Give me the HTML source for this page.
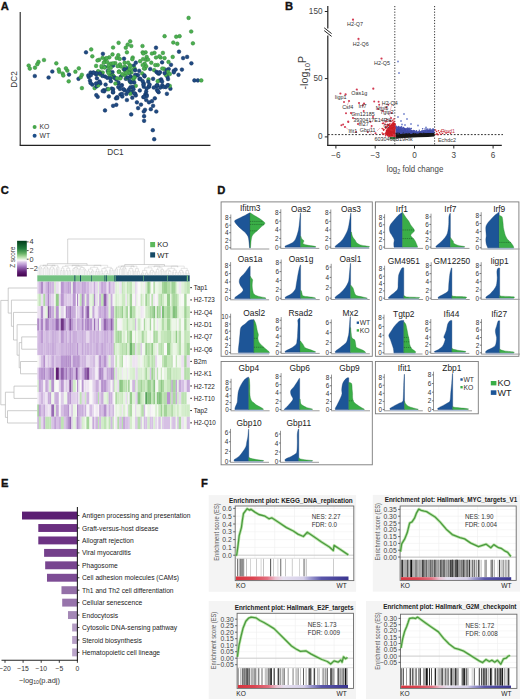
<!DOCTYPE html>
<html><head><meta charset="utf-8"><title>Figure</title>
<style>
html,body{margin:0;padding:0;background:#fff;width:520px;height:699px;overflow:hidden;}
svg{display:block;}
text{font-family:"Liberation Sans", sans-serif;}
</style></head><body>
<svg width="520" height="699" viewBox="0 0 520 699">
<rect x="0" y="0" width="520" height="699" fill="#fff"/>
<text x="0.8" y="9.5" font-size="11.2" fill="#111" text-anchor="start" font-weight="bold" stroke="#111" stroke-width="0.35">A</text>
<text x="285.0" y="10.0" font-size="11.2" fill="#111" text-anchor="start" font-weight="bold" stroke="#111" stroke-width="0.35">B</text>
<text x="0.8" y="194.4" font-size="11.2" fill="#111" text-anchor="start" font-weight="bold" stroke="#111" stroke-width="0.35">C</text>
<text x="217.2" y="193.7" font-size="11.2" fill="#111" text-anchor="start" font-weight="bold" stroke="#111" stroke-width="0.35">D</text>
<text x="0.9" y="487.1" font-size="11.2" fill="#111" text-anchor="start" font-weight="bold" stroke="#111" stroke-width="0.35">E</text>
<text x="201.0" y="487.1" font-size="11.2" fill="#111" text-anchor="start" font-weight="bold" stroke="#111" stroke-width="0.35">F</text>
<line x1="20.20" y1="12.00" x2="20.20" y2="145.60" stroke="#222" stroke-width="1.1" />
<line x1="19.70" y1="145.40" x2="210.50" y2="145.40" stroke="#222" stroke-width="1.1" />
<text x="14.4" y="79.5" font-size="8.2" fill="#333" text-anchor="middle" font-weight="normal" transform="rotate(-90 14.4 79.5)" dominant-baseline="central">DC2</text>
<text x="115.5" y="152.3" font-size="8.2" fill="#333" text-anchor="middle" font-weight="normal" dominant-baseline="central">DC1</text>
<circle cx="102.7" cy="72.5" r="1.85" fill="#4caf50" stroke="#338a3a" stroke-width="0.5"/>
<circle cx="161.2" cy="79.4" r="1.85" fill="#1f4a82" stroke="#143563" stroke-width="0.5"/>
<circle cx="124.6" cy="62.7" r="1.85" fill="#4caf50" stroke="#338a3a" stroke-width="0.5"/>
<circle cx="81.9" cy="88.1" r="1.85" fill="#4caf50" stroke="#338a3a" stroke-width="0.5"/>
<circle cx="96.2" cy="74.6" r="1.85" fill="#1f4a82" stroke="#143563" stroke-width="0.5"/>
<circle cx="62.7" cy="73.5" r="1.85" fill="#4caf50" stroke="#338a3a" stroke-width="0.5"/>
<circle cx="148.5" cy="79.4" r="1.85" fill="#4caf50" stroke="#338a3a" stroke-width="0.5"/>
<circle cx="151.9" cy="101.2" r="1.85" fill="#1f4a82" stroke="#143563" stroke-width="0.5"/>
<circle cx="59.2" cy="71.7" r="1.85" fill="#4caf50" stroke="#338a3a" stroke-width="0.5"/>
<circle cx="125.8" cy="78.8" r="1.85" fill="#1f4a82" stroke="#143563" stroke-width="0.5"/>
<circle cx="142.2" cy="73.4" r="1.85" fill="#4caf50" stroke="#338a3a" stroke-width="0.5"/>
<circle cx="123.5" cy="68.9" r="1.85" fill="#4caf50" stroke="#338a3a" stroke-width="0.5"/>
<circle cx="78.5" cy="78.8" r="1.85" fill="#1f4a82" stroke="#143563" stroke-width="0.5"/>
<circle cx="120.4" cy="94.5" r="1.85" fill="#1f4a82" stroke="#143563" stroke-width="0.5"/>
<circle cx="135.2" cy="93.7" r="1.85" fill="#1f4a82" stroke="#143563" stroke-width="0.5"/>
<circle cx="108.8" cy="96.4" r="1.85" fill="#1f4a82" stroke="#143563" stroke-width="0.5"/>
<circle cx="131.2" cy="114.4" r="1.85" fill="#1f4a82" stroke="#143563" stroke-width="0.5"/>
<circle cx="132.7" cy="57.5" r="1.85" fill="#4caf50" stroke="#338a3a" stroke-width="0.5"/>
<circle cx="104.7" cy="61.7" r="1.85" fill="#4caf50" stroke="#338a3a" stroke-width="0.5"/>
<circle cx="125.0" cy="75.4" r="1.85" fill="#4caf50" stroke="#338a3a" stroke-width="0.5"/>
<circle cx="130.4" cy="82.3" r="1.85" fill="#4caf50" stroke="#338a3a" stroke-width="0.5"/>
<circle cx="154.5" cy="52.8" r="1.85" fill="#4caf50" stroke="#338a3a" stroke-width="0.5"/>
<circle cx="128.1" cy="69.0" r="1.85" fill="#4caf50" stroke="#338a3a" stroke-width="0.5"/>
<circle cx="34.8" cy="76.0" r="1.85" fill="#1f4a82" stroke="#143563" stroke-width="0.5"/>
<circle cx="38.5" cy="61.9" r="1.85" fill="#4caf50" stroke="#338a3a" stroke-width="0.5"/>
<circle cx="136.9" cy="102.3" r="1.85" fill="#1f4a82" stroke="#143563" stroke-width="0.5"/>
<circle cx="116.2" cy="79.3" r="1.85" fill="#1f4a82" stroke="#143563" stroke-width="0.5"/>
<circle cx="121.9" cy="85.1" r="1.85" fill="#1f4a82" stroke="#143563" stroke-width="0.5"/>
<circle cx="96.1" cy="65.9" r="1.85" fill="#4caf50" stroke="#338a3a" stroke-width="0.5"/>
<circle cx="173.3" cy="42.5" r="1.85" fill="#4caf50" stroke="#338a3a" stroke-width="0.5"/>
<circle cx="100.3" cy="83.5" r="1.85" fill="#1f4a82" stroke="#143563" stroke-width="0.5"/>
<circle cx="145.0" cy="68.5" r="1.85" fill="#4caf50" stroke="#338a3a" stroke-width="0.5"/>
<circle cx="146.2" cy="66.2" r="1.85" fill="#4caf50" stroke="#338a3a" stroke-width="0.5"/>
<circle cx="124.0" cy="58.7" r="1.85" fill="#1f4a82" stroke="#143563" stroke-width="0.5"/>
<circle cx="109.3" cy="72.0" r="1.85" fill="#4caf50" stroke="#338a3a" stroke-width="0.5"/>
<circle cx="99.2" cy="59.8" r="1.85" fill="#4caf50" stroke="#338a3a" stroke-width="0.5"/>
<circle cx="136.8" cy="75.4" r="1.85" fill="#1f4a82" stroke="#143563" stroke-width="0.5"/>
<circle cx="162.1" cy="62.3" r="1.85" fill="#1f4a82" stroke="#143563" stroke-width="0.5"/>
<circle cx="128.8" cy="89.4" r="1.85" fill="#1f4a82" stroke="#143563" stroke-width="0.5"/>
<circle cx="146.7" cy="56.9" r="1.85" fill="#4caf50" stroke="#338a3a" stroke-width="0.5"/>
<circle cx="58.7" cy="69.4" r="1.85" fill="#4caf50" stroke="#338a3a" stroke-width="0.5"/>
<circle cx="96.9" cy="78.3" r="1.85" fill="#1f4a82" stroke="#143563" stroke-width="0.5"/>
<circle cx="129.8" cy="70.6" r="1.85" fill="#4caf50" stroke="#338a3a" stroke-width="0.5"/>
<circle cx="138.0" cy="75.0" r="1.85" fill="#1f4a82" stroke="#143563" stroke-width="0.5"/>
<circle cx="130.4" cy="87.3" r="1.85" fill="#1f4a82" stroke="#143563" stroke-width="0.5"/>
<circle cx="93.4" cy="72.7" r="1.85" fill="#1f4a82" stroke="#143563" stroke-width="0.5"/>
<circle cx="100.0" cy="72.1" r="1.85" fill="#4caf50" stroke="#338a3a" stroke-width="0.5"/>
<circle cx="145.0" cy="109.8" r="1.85" fill="#1f4a82" stroke="#143563" stroke-width="0.5"/>
<circle cx="133.8" cy="65.6" r="1.85" fill="#1f4a82" stroke="#143563" stroke-width="0.5"/>
<circle cx="86.0" cy="52.3" r="1.85" fill="#1f4a82" stroke="#143563" stroke-width="0.5"/>
<circle cx="118.2" cy="83.4" r="1.85" fill="#1f4a82" stroke="#143563" stroke-width="0.5"/>
<circle cx="150.8" cy="109.2" r="1.85" fill="#1f4a82" stroke="#143563" stroke-width="0.5"/>
<circle cx="67.3" cy="70.6" r="1.85" fill="#4caf50" stroke="#338a3a" stroke-width="0.5"/>
<circle cx="143.8" cy="83.5" r="1.85" fill="#1f4a82" stroke="#143563" stroke-width="0.5"/>
<circle cx="176.2" cy="36.7" r="1.85" fill="#4caf50" stroke="#338a3a" stroke-width="0.5"/>
<circle cx="112.9" cy="75.4" r="1.85" fill="#4caf50" stroke="#338a3a" stroke-width="0.5"/>
<circle cx="111.0" cy="64.1" r="1.85" fill="#4caf50" stroke="#338a3a" stroke-width="0.5"/>
<circle cx="107.8" cy="70.9" r="1.85" fill="#1f4a82" stroke="#143563" stroke-width="0.5"/>
<circle cx="143.8" cy="86.7" r="1.85" fill="#1f4a82" stroke="#143563" stroke-width="0.5"/>
<circle cx="92.3" cy="56.3" r="1.85" fill="#4caf50" stroke="#338a3a" stroke-width="0.5"/>
<circle cx="118.3" cy="82.3" r="1.85" fill="#1f4a82" stroke="#143563" stroke-width="0.5"/>
<circle cx="108.3" cy="66.8" r="1.85" fill="#4caf50" stroke="#338a3a" stroke-width="0.5"/>
<circle cx="134.6" cy="68.5" r="1.85" fill="#4caf50" stroke="#338a3a" stroke-width="0.5"/>
<circle cx="179.6" cy="36.2" r="1.85" fill="#4caf50" stroke="#338a3a" stroke-width="0.5"/>
<circle cx="144.5" cy="76.3" r="1.85" fill="#1f4a82" stroke="#143563" stroke-width="0.5"/>
<circle cx="116.0" cy="98.3" r="1.85" fill="#1f4a82" stroke="#143563" stroke-width="0.5"/>
<circle cx="168.1" cy="85.2" r="1.85" fill="#1f4a82" stroke="#143563" stroke-width="0.5"/>
<circle cx="105.6" cy="84.6" r="1.85" fill="#1f4a82" stroke="#143563" stroke-width="0.5"/>
<circle cx="139.2" cy="70.8" r="1.85" fill="#1f4a82" stroke="#143563" stroke-width="0.5"/>
<circle cx="172.7" cy="56.9" r="1.85" fill="#4caf50" stroke="#338a3a" stroke-width="0.5"/>
<circle cx="127.1" cy="78.1" r="1.85" fill="#4caf50" stroke="#338a3a" stroke-width="0.5"/>
<circle cx="131.7" cy="91.5" r="1.85" fill="#4caf50" stroke="#338a3a" stroke-width="0.5"/>
<circle cx="135.2" cy="74.8" r="1.85" fill="#1f4a82" stroke="#143563" stroke-width="0.5"/>
<circle cx="148.2" cy="81.7" r="1.85" fill="#1f4a82" stroke="#143563" stroke-width="0.5"/>
<circle cx="120.7" cy="66.4" r="1.85" fill="#4caf50" stroke="#338a3a" stroke-width="0.5"/>
<circle cx="104.8" cy="67.1" r="1.85" fill="#1f4a82" stroke="#143563" stroke-width="0.5"/>
<circle cx="94.6" cy="88.1" r="1.85" fill="#4caf50" stroke="#338a3a" stroke-width="0.5"/>
<circle cx="118.3" cy="87.1" r="1.85" fill="#1f4a82" stroke="#143563" stroke-width="0.5"/>
<circle cx="168.0" cy="79.1" r="1.85" fill="#1f4a82" stroke="#143563" stroke-width="0.5"/>
<circle cx="154.2" cy="70.2" r="1.85" fill="#4caf50" stroke="#338a3a" stroke-width="0.5"/>
<circle cx="135.8" cy="85.8" r="1.85" fill="#4caf50" stroke="#338a3a" stroke-width="0.5"/>
<circle cx="153.1" cy="78.8" r="1.85" fill="#1f4a82" stroke="#143563" stroke-width="0.5"/>
<circle cx="101.8" cy="67.5" r="1.85" fill="#4caf50" stroke="#338a3a" stroke-width="0.5"/>
<circle cx="126.2" cy="67.9" r="1.85" fill="#1f4a82" stroke="#143563" stroke-width="0.5"/>
<circle cx="103.9" cy="90.2" r="1.85" fill="#1f4a82" stroke="#143563" stroke-width="0.5"/>
<circle cx="113.7" cy="76.4" r="1.85" fill="#4caf50" stroke="#338a3a" stroke-width="0.5"/>
<circle cx="117.1" cy="97.1" r="1.85" fill="#1f4a82" stroke="#143563" stroke-width="0.5"/>
<circle cx="122.3" cy="96.5" r="1.85" fill="#1f4a82" stroke="#143563" stroke-width="0.5"/>
<circle cx="113.8" cy="77.6" r="1.85" fill="#4caf50" stroke="#338a3a" stroke-width="0.5"/>
<circle cx="109.3" cy="57.3" r="1.85" fill="#4caf50" stroke="#338a3a" stroke-width="0.5"/>
<circle cx="156.5" cy="86.1" r="1.85" fill="#1f4a82" stroke="#143563" stroke-width="0.5"/>
<circle cx="143.3" cy="97.1" r="1.85" fill="#1f4a82" stroke="#143563" stroke-width="0.5"/>
<circle cx="65.9" cy="68.3" r="1.85" fill="#4caf50" stroke="#338a3a" stroke-width="0.5"/>
<circle cx="133.5" cy="80.0" r="1.85" fill="#4caf50" stroke="#338a3a" stroke-width="0.5"/>
<circle cx="140.1" cy="61.2" r="1.85" fill="#4caf50" stroke="#338a3a" stroke-width="0.5"/>
<circle cx="97.7" cy="96.8" r="1.85" fill="#1f4a82" stroke="#143563" stroke-width="0.5"/>
<circle cx="156.0" cy="47.7" r="1.85" fill="#1f4a82" stroke="#143563" stroke-width="0.5"/>
<circle cx="124.6" cy="90.2" r="1.85" fill="#1f4a82" stroke="#143563" stroke-width="0.5"/>
<circle cx="88.8" cy="77.1" r="1.85" fill="#1f4a82" stroke="#143563" stroke-width="0.5"/>
<circle cx="156.3" cy="111.5" r="1.85" fill="#1f4a82" stroke="#143563" stroke-width="0.5"/>
<circle cx="143.1" cy="59.0" r="1.85" fill="#4caf50" stroke="#338a3a" stroke-width="0.5"/>
<circle cx="116.3" cy="104.8" r="1.85" fill="#1f4a82" stroke="#143563" stroke-width="0.5"/>
<circle cx="134.7" cy="77.4" r="1.85" fill="#4caf50" stroke="#338a3a" stroke-width="0.5"/>
<circle cx="35.0" cy="67.7" r="1.85" fill="#4caf50" stroke="#338a3a" stroke-width="0.5"/>
<circle cx="146.2" cy="59.8" r="1.85" fill="#4caf50" stroke="#338a3a" stroke-width="0.5"/>
<circle cx="173.8" cy="70.8" r="1.85" fill="#1f4a82" stroke="#143563" stroke-width="0.5"/>
<circle cx="175.6" cy="69.6" r="1.85" fill="#1f4a82" stroke="#143563" stroke-width="0.5"/>
<circle cx="183.1" cy="58.1" r="1.85" fill="#1f4a82" stroke="#143563" stroke-width="0.5"/>
<circle cx="151.9" cy="53.5" r="1.85" fill="#4caf50" stroke="#338a3a" stroke-width="0.5"/>
<circle cx="134.2" cy="82.4" r="1.85" fill="#1f4a82" stroke="#143563" stroke-width="0.5"/>
<circle cx="90.6" cy="72.5" r="1.85" fill="#1f4a82" stroke="#143563" stroke-width="0.5"/>
<circle cx="162.3" cy="85.2" r="1.85" fill="#1f4a82" stroke="#143563" stroke-width="0.5"/>
<circle cx="127.7" cy="44.6" r="1.85" fill="#4caf50" stroke="#338a3a" stroke-width="0.5"/>
<circle cx="124.7" cy="66.5" r="1.85" fill="#4caf50" stroke="#338a3a" stroke-width="0.5"/>
<circle cx="131.2" cy="77.2" r="1.85" fill="#4caf50" stroke="#338a3a" stroke-width="0.5"/>
<circle cx="63.3" cy="75.5" r="1.85" fill="#4caf50" stroke="#338a3a" stroke-width="0.5"/>
<circle cx="98.1" cy="73.1" r="1.85" fill="#4caf50" stroke="#338a3a" stroke-width="0.5"/>
<circle cx="170.4" cy="88.7" r="1.85" fill="#1f4a82" stroke="#143563" stroke-width="0.5"/>
<circle cx="142.7" cy="52.3" r="1.85" fill="#4caf50" stroke="#338a3a" stroke-width="0.5"/>
<circle cx="148.8" cy="87.0" r="1.85" fill="#1f4a82" stroke="#143563" stroke-width="0.5"/>
<circle cx="145.6" cy="52.3" r="1.85" fill="#4caf50" stroke="#338a3a" stroke-width="0.5"/>
<circle cx="169.8" cy="85.9" r="1.85" fill="#4caf50" stroke="#338a3a" stroke-width="0.5"/>
<circle cx="75.4" cy="71.7" r="1.85" fill="#4caf50" stroke="#338a3a" stroke-width="0.5"/>
<circle cx="197.8" cy="80.4" r="1.85" fill="#1f4a82" stroke="#143563" stroke-width="0.5"/>
<circle cx="158.6" cy="92.2" r="1.85" fill="#1f4a82" stroke="#143563" stroke-width="0.5"/>
<circle cx="146.2" cy="91.5" r="1.85" fill="#1f4a82" stroke="#143563" stroke-width="0.5"/>
<circle cx="145.4" cy="94.2" r="1.85" fill="#1f4a82" stroke="#143563" stroke-width="0.5"/>
<circle cx="149.0" cy="86.2" r="1.85" fill="#1f4a82" stroke="#143563" stroke-width="0.5"/>
<circle cx="132.3" cy="59.2" r="1.85" fill="#4caf50" stroke="#338a3a" stroke-width="0.5"/>
<circle cx="153.1" cy="105.8" r="1.85" fill="#1f4a82" stroke="#143563" stroke-width="0.5"/>
<circle cx="96.5" cy="86.4" r="1.85" fill="#1f4a82" stroke="#143563" stroke-width="0.5"/>
<circle cx="113.1" cy="65.6" r="1.85" fill="#1f4a82" stroke="#143563" stroke-width="0.5"/>
<circle cx="131.3" cy="46.0" r="1.85" fill="#4caf50" stroke="#338a3a" stroke-width="0.5"/>
<circle cx="56.3" cy="63.3" r="1.85" fill="#4caf50" stroke="#338a3a" stroke-width="0.5"/>
<circle cx="201.3" cy="80.4" r="1.85" fill="#4caf50" stroke="#338a3a" stroke-width="0.5"/>
<circle cx="104.2" cy="91.3" r="1.85" fill="#1f4a82" stroke="#143563" stroke-width="0.5"/>
<circle cx="105.0" cy="110.4" r="1.85" fill="#1f4a82" stroke="#143563" stroke-width="0.5"/>
<circle cx="28.7" cy="65.6" r="1.85" fill="#4caf50" stroke="#338a3a" stroke-width="0.5"/>
<circle cx="92.3" cy="84.6" r="1.85" fill="#1f4a82" stroke="#143563" stroke-width="0.5"/>
<circle cx="146.6" cy="94.8" r="1.85" fill="#1f4a82" stroke="#143563" stroke-width="0.5"/>
<circle cx="149.0" cy="102.3" r="1.85" fill="#1f4a82" stroke="#143563" stroke-width="0.5"/>
<circle cx="105.6" cy="58.7" r="1.85" fill="#4caf50" stroke="#338a3a" stroke-width="0.5"/>
<circle cx="111.7" cy="88.5" r="1.85" fill="#1f4a82" stroke="#143563" stroke-width="0.5"/>
<circle cx="166.9" cy="75.4" r="1.85" fill="#4caf50" stroke="#338a3a" stroke-width="0.5"/>
<circle cx="115.4" cy="83.5" r="1.85" fill="#4caf50" stroke="#338a3a" stroke-width="0.5"/>
<circle cx="131.2" cy="91.9" r="1.85" fill="#1f4a82" stroke="#143563" stroke-width="0.5"/>
<circle cx="156.9" cy="89.8" r="1.85" fill="#1f4a82" stroke="#143563" stroke-width="0.5"/>
<circle cx="131.2" cy="82.3" r="1.85" fill="#1f4a82" stroke="#143563" stroke-width="0.5"/>
<circle cx="138.1" cy="108.1" r="1.85" fill="#1f4a82" stroke="#143563" stroke-width="0.5"/>
<circle cx="120.8" cy="76.6" r="1.85" fill="#1f4a82" stroke="#143563" stroke-width="0.5"/>
<circle cx="97.5" cy="60.4" r="1.85" fill="#4caf50" stroke="#338a3a" stroke-width="0.5"/>
<circle cx="127.6" cy="78.1" r="1.85" fill="#4caf50" stroke="#338a3a" stroke-width="0.5"/>
<circle cx="158.8" cy="73.7" r="1.85" fill="#1f4a82" stroke="#143563" stroke-width="0.5"/>
<circle cx="178.5" cy="74.8" r="1.85" fill="#1f4a82" stroke="#143563" stroke-width="0.5"/>
<circle cx="181.9" cy="69.6" r="1.85" fill="#1f4a82" stroke="#143563" stroke-width="0.5"/>
<circle cx="98.1" cy="71.2" r="1.85" fill="#4caf50" stroke="#338a3a" stroke-width="0.5"/>
<circle cx="135.8" cy="95.4" r="1.85" fill="#1f4a82" stroke="#143563" stroke-width="0.5"/>
<circle cx="68.7" cy="81.3" r="1.85" fill="#4caf50" stroke="#338a3a" stroke-width="0.5"/>
<circle cx="69.0" cy="74.6" r="1.85" fill="#1f4a82" stroke="#143563" stroke-width="0.5"/>
<circle cx="110.4" cy="73.1" r="1.85" fill="#4caf50" stroke="#338a3a" stroke-width="0.5"/>
<circle cx="143.4" cy="84.7" r="1.85" fill="#1f4a82" stroke="#143563" stroke-width="0.5"/>
<circle cx="133.5" cy="77.7" r="1.85" fill="#4caf50" stroke="#338a3a" stroke-width="0.5"/>
<circle cx="115.3" cy="63.1" r="1.85" fill="#4caf50" stroke="#338a3a" stroke-width="0.5"/>
<circle cx="167.5" cy="76.9" r="1.85" fill="#1f4a82" stroke="#143563" stroke-width="0.5"/>
<circle cx="130.4" cy="93.7" r="1.85" fill="#4caf50" stroke="#338a3a" stroke-width="0.5"/>
<circle cx="119.1" cy="71.4" r="1.85" fill="#4caf50" stroke="#338a3a" stroke-width="0.5"/>
<circle cx="144.7" cy="63.7" r="1.85" fill="#4caf50" stroke="#338a3a" stroke-width="0.5"/>
<circle cx="112.5" cy="72.1" r="1.85" fill="#1f4a82" stroke="#143563" stroke-width="0.5"/>
<circle cx="29.8" cy="68.6" r="1.85" fill="#4caf50" stroke="#338a3a" stroke-width="0.5"/>
<circle cx="191.4" cy="63.3" r="1.85" fill="#1f4a82" stroke="#143563" stroke-width="0.5"/>
<circle cx="156.0" cy="57.5" r="1.85" fill="#4caf50" stroke="#338a3a" stroke-width="0.5"/>
<circle cx="126.3" cy="94.0" r="1.85" fill="#1f4a82" stroke="#143563" stroke-width="0.5"/>
<circle cx="131.4" cy="72.5" r="1.85" fill="#4caf50" stroke="#338a3a" stroke-width="0.5"/>
<circle cx="113.0" cy="92.4" r="1.85" fill="#1f4a82" stroke="#143563" stroke-width="0.5"/>
<circle cx="37.3" cy="64.2" r="1.85" fill="#4caf50" stroke="#338a3a" stroke-width="0.5"/>
<circle cx="146.2" cy="100.0" r="1.85" fill="#1f4a82" stroke="#143563" stroke-width="0.5"/>
<circle cx="90.0" cy="80.6" r="1.85" fill="#1f4a82" stroke="#143563" stroke-width="0.5"/>
<circle cx="132.7" cy="86.9" r="1.85" fill="#1f4a82" stroke="#143563" stroke-width="0.5"/>
<circle cx="102.7" cy="91.0" r="1.85" fill="#1f4a82" stroke="#143563" stroke-width="0.5"/>
<circle cx="122.3" cy="74.2" r="1.85" fill="#4caf50" stroke="#338a3a" stroke-width="0.5"/>
<circle cx="91.2" cy="49.4" r="1.85" fill="#4caf50" stroke="#338a3a" stroke-width="0.5"/>
<circle cx="80.8" cy="77.1" r="1.85" fill="#4caf50" stroke="#338a3a" stroke-width="0.5"/>
<circle cx="177.3" cy="43.7" r="1.85" fill="#4caf50" stroke="#338a3a" stroke-width="0.5"/>
<circle cx="129.9" cy="65.2" r="1.85" fill="#4caf50" stroke="#338a3a" stroke-width="0.5"/>
<circle cx="160.0" cy="72.3" r="1.85" fill="#1f4a82" stroke="#143563" stroke-width="0.5"/>
<circle cx="164.0" cy="68.8" r="1.85" fill="#4caf50" stroke="#338a3a" stroke-width="0.5"/>
<circle cx="133.9" cy="69.2" r="1.85" fill="#4caf50" stroke="#338a3a" stroke-width="0.5"/>
<circle cx="113.1" cy="89.2" r="1.85" fill="#1f4a82" stroke="#143563" stroke-width="0.5"/>
<circle cx="150.2" cy="69.0" r="1.85" fill="#1f4a82" stroke="#143563" stroke-width="0.5"/>
<circle cx="156.5" cy="71.9" r="1.85" fill="#1f4a82" stroke="#143563" stroke-width="0.5"/>
<circle cx="116.7" cy="58.1" r="1.85" fill="#4caf50" stroke="#338a3a" stroke-width="0.5"/>
<circle cx="111.4" cy="76.1" r="1.85" fill="#1f4a82" stroke="#143563" stroke-width="0.5"/>
<circle cx="151.3" cy="62.7" r="1.85" fill="#4caf50" stroke="#338a3a" stroke-width="0.5"/>
<circle cx="124.9" cy="70.8" r="1.85" fill="#4caf50" stroke="#338a3a" stroke-width="0.5"/>
<circle cx="144.0" cy="68.5" r="1.85" fill="#4caf50" stroke="#338a3a" stroke-width="0.5"/>
<circle cx="173.8" cy="72.3" r="1.85" fill="#1f4a82" stroke="#143563" stroke-width="0.5"/>
<circle cx="110.8" cy="73.7" r="1.85" fill="#4caf50" stroke="#338a3a" stroke-width="0.5"/>
<circle cx="152.8" cy="130.2" r="1.85" fill="#1f4a82" stroke="#143563" stroke-width="0.5"/>
<circle cx="141.0" cy="104.6" r="1.85" fill="#1f4a82" stroke="#143563" stroke-width="0.5"/>
<circle cx="101.8" cy="74.3" r="1.85" fill="#4caf50" stroke="#338a3a" stroke-width="0.5"/>
<circle cx="98.1" cy="85.5" r="1.85" fill="#4caf50" stroke="#338a3a" stroke-width="0.5"/>
<circle cx="110.5" cy="72.6" r="1.85" fill="#1f4a82" stroke="#143563" stroke-width="0.5"/>
<circle cx="171.0" cy="64.8" r="1.85" fill="#1f4a82" stroke="#143563" stroke-width="0.5"/>
<circle cx="120.0" cy="64.4" r="1.85" fill="#4caf50" stroke="#338a3a" stroke-width="0.5"/>
<circle cx="129.3" cy="73.0" r="1.85" fill="#1f4a82" stroke="#143563" stroke-width="0.5"/>
<circle cx="168.7" cy="69.0" r="1.85" fill="#1f4a82" stroke="#143563" stroke-width="0.5"/>
<circle cx="164.6" cy="36.2" r="1.85" fill="#4caf50" stroke="#338a3a" stroke-width="0.5"/>
<circle cx="126.9" cy="100.0" r="1.85" fill="#1f4a82" stroke="#143563" stroke-width="0.5"/>
<circle cx="111.0" cy="63.7" r="1.85" fill="#4caf50" stroke="#338a3a" stroke-width="0.5"/>
<circle cx="166.7" cy="70.1" r="1.85" fill="#1f4a82" stroke="#143563" stroke-width="0.5"/>
<circle cx="48.6" cy="77.5" r="1.85" fill="#1f4a82" stroke="#143563" stroke-width="0.5"/>
<circle cx="109.6" cy="76.5" r="1.85" fill="#4caf50" stroke="#338a3a" stroke-width="0.5"/>
<circle cx="160.6" cy="57.5" r="1.85" fill="#4caf50" stroke="#338a3a" stroke-width="0.5"/>
<circle cx="102.6" cy="57.8" r="1.85" fill="#4caf50" stroke="#338a3a" stroke-width="0.5"/>
<circle cx="44.0" cy="60.0" r="1.85" fill="#4caf50" stroke="#338a3a" stroke-width="0.5"/>
<circle cx="191.2" cy="31.5" r="1.85" fill="#4caf50" stroke="#338a3a" stroke-width="0.5"/>
<circle cx="124.5" cy="69.3" r="1.85" fill="#1f4a82" stroke="#143563" stroke-width="0.5"/>
<circle cx="108.8" cy="65.4" r="1.85" fill="#4caf50" stroke="#338a3a" stroke-width="0.5"/>
<circle cx="88.3" cy="75.4" r="1.85" fill="#1f4a82" stroke="#143563" stroke-width="0.5"/>
<circle cx="157.7" cy="65.0" r="1.85" fill="#4caf50" stroke="#338a3a" stroke-width="0.5"/>
<circle cx="90.9" cy="75.1" r="1.85" fill="#1f4a82" stroke="#143563" stroke-width="0.5"/>
<circle cx="153.7" cy="87.5" r="1.85" fill="#1f4a82" stroke="#143563" stroke-width="0.5"/>
<circle cx="110.8" cy="81.2" r="1.85" fill="#1f4a82" stroke="#143563" stroke-width="0.5"/>
<circle cx="146.8" cy="96.1" r="1.85" fill="#1f4a82" stroke="#143563" stroke-width="0.5"/>
<circle cx="157.5" cy="85.2" r="1.85" fill="#1f4a82" stroke="#143563" stroke-width="0.5"/>
<circle cx="168.1" cy="71.9" r="1.85" fill="#4caf50" stroke="#338a3a" stroke-width="0.5"/>
<circle cx="123.5" cy="89.2" r="1.85" fill="#1f4a82" stroke="#143563" stroke-width="0.5"/>
<circle cx="139.5" cy="78.9" r="1.85" fill="#1f4a82" stroke="#143563" stroke-width="0.5"/>
<circle cx="78.8" cy="68.3" r="1.85" fill="#4caf50" stroke="#338a3a" stroke-width="0.5"/>
<circle cx="118.6" cy="42.8" r="1.85" fill="#4caf50" stroke="#338a3a" stroke-width="0.5"/>
<circle cx="105.0" cy="76.5" r="1.85" fill="#1f4a82" stroke="#143563" stroke-width="0.5"/>
<circle cx="121.2" cy="85.8" r="1.85" fill="#1f4a82" stroke="#143563" stroke-width="0.5"/>
<circle cx="143.3" cy="53.5" r="1.85" fill="#4caf50" stroke="#338a3a" stroke-width="0.5"/>
<circle cx="164.6" cy="58.1" r="1.85" fill="#4caf50" stroke="#338a3a" stroke-width="0.5"/>
<circle cx="99.6" cy="81.5" r="1.85" fill="#1f4a82" stroke="#143563" stroke-width="0.5"/>
<circle cx="154.2" cy="139.2" r="1.85" fill="#1f4a82" stroke="#143563" stroke-width="0.5"/>
<circle cx="130.2" cy="41.3" r="1.85" fill="#4caf50" stroke="#338a3a" stroke-width="0.5"/>
<circle cx="101.5" cy="66.0" r="1.85" fill="#4caf50" stroke="#338a3a" stroke-width="0.5"/>
<circle cx="142.7" cy="81.2" r="1.85" fill="#1f4a82" stroke="#143563" stroke-width="0.5"/>
<circle cx="122.0" cy="93.9" r="1.85" fill="#1f4a82" stroke="#143563" stroke-width="0.5"/>
<circle cx="107.3" cy="77.8" r="1.85" fill="#1f4a82" stroke="#143563" stroke-width="0.5"/>
<circle cx="109.4" cy="72.6" r="1.85" fill="#4caf50" stroke="#338a3a" stroke-width="0.5"/>
<circle cx="192.9" cy="43.3" r="1.85" fill="#4caf50" stroke="#338a3a" stroke-width="0.5"/>
<circle cx="130.4" cy="76.5" r="1.85" fill="#1f4a82" stroke="#143563" stroke-width="0.5"/>
<circle cx="188.6" cy="17.9" r="1.85" fill="#4caf50" stroke="#338a3a" stroke-width="0.5"/>
<circle cx="165.8" cy="74.8" r="1.85" fill="#4caf50" stroke="#338a3a" stroke-width="0.5"/>
<circle cx="149.6" cy="84.6" r="1.85" fill="#1f4a82" stroke="#143563" stroke-width="0.5"/>
<circle cx="113.1" cy="91.9" r="1.85" fill="#1f4a82" stroke="#143563" stroke-width="0.5"/>
<circle cx="157.8" cy="72.9" r="1.85" fill="#1f4a82" stroke="#143563" stroke-width="0.5"/>
<circle cx="120.4" cy="78.3" r="1.85" fill="#4caf50" stroke="#338a3a" stroke-width="0.5"/>
<circle cx="100.2" cy="74.5" r="1.85" fill="#4caf50" stroke="#338a3a" stroke-width="0.5"/>
<circle cx="164.6" cy="73.1" r="1.85" fill="#1f4a82" stroke="#143563" stroke-width="0.5"/>
<circle cx="159.4" cy="80.5" r="1.85" fill="#1f4a82" stroke="#143563" stroke-width="0.5"/>
<circle cx="99.2" cy="82.3" r="1.85" fill="#1f4a82" stroke="#143563" stroke-width="0.5"/>
<circle cx="154.8" cy="98.3" r="1.85" fill="#1f4a82" stroke="#143563" stroke-width="0.5"/>
<circle cx="113.1" cy="47.5" r="1.85" fill="#4caf50" stroke="#338a3a" stroke-width="0.5"/>
<circle cx="139.8" cy="90.4" r="1.85" fill="#1f4a82" stroke="#143563" stroke-width="0.5"/>
<circle cx="143.8" cy="111.5" r="1.85" fill="#1f4a82" stroke="#143563" stroke-width="0.5"/>
<circle cx="160.3" cy="87.6" r="1.85" fill="#1f4a82" stroke="#143563" stroke-width="0.5"/>
<circle cx="156.8" cy="85.3" r="1.85" fill="#1f4a82" stroke="#143563" stroke-width="0.5"/>
<circle cx="157.7" cy="81.2" r="1.85" fill="#4caf50" stroke="#338a3a" stroke-width="0.5"/>
<circle cx="127.7" cy="91.5" r="1.85" fill="#1f4a82" stroke="#143563" stroke-width="0.5"/>
<circle cx="129.6" cy="80.8" r="1.85" fill="#1f4a82" stroke="#143563" stroke-width="0.5"/>
<circle cx="165.8" cy="87.1" r="1.85" fill="#1f4a82" stroke="#143563" stroke-width="0.5"/>
<circle cx="106.7" cy="58.2" r="1.85" fill="#4caf50" stroke="#338a3a" stroke-width="0.5"/>
<circle cx="113.1" cy="105.8" r="1.85" fill="#1f4a82" stroke="#143563" stroke-width="0.5"/>
<circle cx="114.8" cy="77.7" r="1.85" fill="#1f4a82" stroke="#143563" stroke-width="0.5"/>
<circle cx="144.1" cy="116.2" r="1.85" fill="#1f4a82" stroke="#143563" stroke-width="0.5"/>
<circle cx="99.8" cy="73.3" r="1.85" fill="#1f4a82" stroke="#143563" stroke-width="0.5"/>
<circle cx="108.5" cy="70.8" r="1.85" fill="#4caf50" stroke="#338a3a" stroke-width="0.5"/>
<circle cx="110.8" cy="67.8" r="1.85" fill="#4caf50" stroke="#338a3a" stroke-width="0.5"/>
<circle cx="127.3" cy="77.5" r="1.85" fill="#1f4a82" stroke="#143563" stroke-width="0.5"/>
<circle cx="119.7" cy="58.9" r="1.85" fill="#4caf50" stroke="#338a3a" stroke-width="0.5"/>
<circle cx="104.5" cy="67.5" r="1.85" fill="#4caf50" stroke="#338a3a" stroke-width="0.5"/>
<circle cx="179.0" cy="51.7" r="1.85" fill="#1f4a82" stroke="#143563" stroke-width="0.5"/>
<circle cx="120.0" cy="89.0" r="1.85" fill="#1f4a82" stroke="#143563" stroke-width="0.5"/>
<circle cx="132.3" cy="97.7" r="1.85" fill="#1f4a82" stroke="#143563" stroke-width="0.5"/>
<circle cx="102.9" cy="53.8" r="1.85" fill="#1f4a82" stroke="#143563" stroke-width="0.5"/>
<circle cx="166.9" cy="93.8" r="1.85" fill="#1f4a82" stroke="#143563" stroke-width="0.5"/>
<circle cx="107.3" cy="89.1" r="1.85" fill="#1f4a82" stroke="#143563" stroke-width="0.5"/>
<circle cx="144.1" cy="120.8" r="1.85" fill="#1f4a82" stroke="#143563" stroke-width="0.5"/>
<circle cx="129.8" cy="69.2" r="1.85" fill="#4caf50" stroke="#338a3a" stroke-width="0.5"/>
<circle cx="96.3" cy="73.1" r="1.85" fill="#1f4a82" stroke="#143563" stroke-width="0.5"/>
<circle cx="117.7" cy="66.2" r="1.85" fill="#4caf50" stroke="#338a3a" stroke-width="0.5"/>
<circle cx="135.1" cy="70.2" r="1.85" fill="#1f4a82" stroke="#143563" stroke-width="0.5"/>
<circle cx="117.1" cy="78.3" r="1.85" fill="#4caf50" stroke="#338a3a" stroke-width="0.5"/>
<circle cx="135.8" cy="62.7" r="1.85" fill="#1f4a82" stroke="#143563" stroke-width="0.5"/>
<circle cx="128.9" cy="72.8" r="1.85" fill="#4caf50" stroke="#338a3a" stroke-width="0.5"/>
<circle cx="108.5" cy="89.2" r="1.85" fill="#4caf50" stroke="#338a3a" stroke-width="0.5"/>
<circle cx="169.8" cy="74.0" r="1.85" fill="#4caf50" stroke="#338a3a" stroke-width="0.5"/>
<circle cx="144.1" cy="96.8" r="1.85" fill="#1f4a82" stroke="#143563" stroke-width="0.5"/>
<circle cx="52.3" cy="71.5" r="1.85" fill="#1f4a82" stroke="#143563" stroke-width="0.5"/>
<circle cx="146.6" cy="88.5" r="1.85" fill="#1f4a82" stroke="#143563" stroke-width="0.5"/>
<circle cx="142.5" cy="46.0" r="1.85" fill="#4caf50" stroke="#338a3a" stroke-width="0.5"/>
<circle cx="159.2" cy="72.5" r="1.85" fill="#1f4a82" stroke="#143563" stroke-width="0.5"/>
<circle cx="142.7" cy="65.0" r="1.85" fill="#4caf50" stroke="#338a3a" stroke-width="0.5"/>
<circle cx="90.5" cy="82.9" r="1.85" fill="#1f4a82" stroke="#143563" stroke-width="0.5"/>
<circle cx="108.4" cy="72.9" r="1.85" fill="#4caf50" stroke="#338a3a" stroke-width="0.5"/>
<circle cx="159.4" cy="56.3" r="1.85" fill="#4caf50" stroke="#338a3a" stroke-width="0.5"/>
<circle cx="96.3" cy="95.1" r="1.85" fill="#1f4a82" stroke="#143563" stroke-width="0.5"/>
<circle cx="112.5" cy="54.4" r="1.85" fill="#4caf50" stroke="#338a3a" stroke-width="0.5"/>
<circle cx="110.7" cy="77.3" r="1.85" fill="#4caf50" stroke="#338a3a" stroke-width="0.5"/>
<circle cx="126.9" cy="52.3" r="1.85" fill="#4caf50" stroke="#338a3a" stroke-width="0.5"/>
<circle cx="140.4" cy="78.8" r="1.85" fill="#1f4a82" stroke="#143563" stroke-width="0.5"/>
<circle cx="110.3" cy="78.3" r="1.85" fill="#1f4a82" stroke="#143563" stroke-width="0.5"/>
<circle cx="96.1" cy="83.4" r="1.85" fill="#1f4a82" stroke="#143563" stroke-width="0.5"/>
<circle cx="113.1" cy="63.3" r="1.85" fill="#4caf50" stroke="#338a3a" stroke-width="0.5"/>
<circle cx="167.6" cy="85.3" r="1.85" fill="#1f4a82" stroke="#143563" stroke-width="0.5"/>
<circle cx="168.5" cy="61.9" r="1.85" fill="#4caf50" stroke="#338a3a" stroke-width="0.5"/>
<circle cx="162.9" cy="52.9" r="1.85" fill="#4caf50" stroke="#338a3a" stroke-width="0.5"/>
<circle cx="117.3" cy="98.0" r="1.85" fill="#1f4a82" stroke="#143563" stroke-width="0.5"/>
<circle cx="107.3" cy="62.1" r="1.85" fill="#4caf50" stroke="#338a3a" stroke-width="0.5"/>
<circle cx="133.5" cy="89.2" r="1.85" fill="#1f4a82" stroke="#143563" stroke-width="0.5"/>
<circle cx="163.6" cy="87.0" r="1.85" fill="#1f4a82" stroke="#143563" stroke-width="0.5"/>
<circle cx="126.3" cy="73.1" r="1.85" fill="#4caf50" stroke="#338a3a" stroke-width="0.5"/>
<circle cx="155.3" cy="65.1" r="1.85" fill="#4caf50" stroke="#338a3a" stroke-width="0.5"/>
<circle cx="128.1" cy="62.7" r="1.85" fill="#4caf50" stroke="#338a3a" stroke-width="0.5"/>
<circle cx="157.7" cy="91.0" r="1.85" fill="#1f4a82" stroke="#143563" stroke-width="0.5"/>
<circle cx="194.4" cy="80.4" r="1.85" fill="#1f4a82" stroke="#143563" stroke-width="0.5"/>
<circle cx="118.8" cy="71.9" r="1.85" fill="#4caf50" stroke="#338a3a" stroke-width="0.5"/>
<circle cx="125.8" cy="47.7" r="1.85" fill="#4caf50" stroke="#338a3a" stroke-width="0.5"/>
<circle cx="148.1" cy="59.5" r="1.85" fill="#4caf50" stroke="#338a3a" stroke-width="0.5"/>
<circle cx="162.1" cy="81.5" r="1.85" fill="#1f4a82" stroke="#143563" stroke-width="0.5"/>
<circle cx="103.8" cy="62.7" r="1.85" fill="#4caf50" stroke="#338a3a" stroke-width="0.5"/>
<circle cx="102.5" cy="75.9" r="1.85" fill="#1f4a82" stroke="#143563" stroke-width="0.5"/>
<circle cx="187.1" cy="56.9" r="1.85" fill="#1f4a82" stroke="#143563" stroke-width="0.5"/>
<circle cx="130.4" cy="66.2" r="1.85" fill="#4caf50" stroke="#338a3a" stroke-width="0.5"/>
<circle cx="134.2" cy="93.3" r="1.85" fill="#1f4a82" stroke="#143563" stroke-width="0.5"/>
<circle cx="81.9" cy="74.8" r="1.85" fill="#4caf50" stroke="#338a3a" stroke-width="0.5"/>
<circle cx="118.3" cy="55.2" r="1.85" fill="#4caf50" stroke="#338a3a" stroke-width="0.5"/>
<circle cx="144.4" cy="75.4" r="1.85" fill="#1f4a82" stroke="#143563" stroke-width="0.5"/>
<circle cx="162.3" cy="68.5" r="1.85" fill="#4caf50" stroke="#338a3a" stroke-width="0.5"/>
<circle cx="93.5" cy="72.5" r="1.85" fill="#1f4a82" stroke="#143563" stroke-width="0.5"/>
<circle cx="34.6" cy="126.9" r="2" fill="#46a54b"/>
<circle cx="34.6" cy="135.7" r="2" fill="#1d4f8a"/>
<text x="39.5" y="126.9" font-size="6.8" fill="#333" text-anchor="start" font-weight="normal" dominant-baseline="central">KO</text>
<text x="39.5" y="135.7" font-size="6.8" fill="#333" text-anchor="start" font-weight="normal" dominant-baseline="central">WT</text>
<line x1="394.8" y1="6" x2="394.8" y2="145" stroke="#333" stroke-width="1" stroke-dasharray="1.2,1.6"/>
<line x1="434.6" y1="6" x2="434.6" y2="145" stroke="#333" stroke-width="1" stroke-dasharray="1.2,1.6"/>
<line x1="328" y1="134.6" x2="503" y2="134.6" stroke="#333" stroke-width="1" stroke-dasharray="1.8,1.6"/>
<line x1="327.80" y1="6.00" x2="327.80" y2="145.80" stroke="#222" stroke-width="1.2" />
<line x1="327.20" y1="145.30" x2="501.80" y2="145.30" stroke="#222" stroke-width="1.2" />
<rect x="324" y="28.5" width="8" height="7" fill="#fff"/>
<line x1="324.20" y1="27.80" x2="331.60" y2="33.60" stroke="#222" stroke-width="1" />
<line x1="324.20" y1="30.60" x2="331.60" y2="36.40" stroke="#222" stroke-width="1" />
<line x1="324.80" y1="11.50" x2="327.80" y2="11.50" stroke="#222" stroke-width="1" />
<text x="322.5" y="11.5" font-size="8.2" fill="#444" text-anchor="end" font-weight="normal" dominant-baseline="central">150</text>
<line x1="324.80" y1="78.60" x2="327.80" y2="78.60" stroke="#222" stroke-width="1" />
<text x="322.5" y="78.6" font-size="8.2" fill="#444" text-anchor="end" font-weight="normal" dominant-baseline="central">50</text>
<line x1="324.80" y1="136.90" x2="327.80" y2="136.90" stroke="#222" stroke-width="1" />
<text x="322.5" y="136.9" font-size="8.2" fill="#444" text-anchor="end" font-weight="normal" dominant-baseline="central">0</text>
<line x1="335.90" y1="145.30" x2="335.90" y2="148.50" stroke="#222" stroke-width="1" />
<text x="335.9" y="155.6" font-size="8.2" fill="#444" text-anchor="middle" font-weight="normal" dominant-baseline="central">−6</text>
<line x1="375.20" y1="145.30" x2="375.20" y2="148.50" stroke="#222" stroke-width="1" />
<text x="375.2" y="155.6" font-size="8.2" fill="#444" text-anchor="middle" font-weight="normal" dominant-baseline="central">−3</text>
<line x1="414.50" y1="145.30" x2="414.50" y2="148.50" stroke="#222" stroke-width="1" />
<text x="414.5" y="155.6" font-size="8.2" fill="#444" text-anchor="middle" font-weight="normal" dominant-baseline="central">0</text>
<line x1="453.80" y1="145.30" x2="453.80" y2="148.50" stroke="#222" stroke-width="1" />
<text x="453.8" y="155.6" font-size="8.2" fill="#444" text-anchor="middle" font-weight="normal" dominant-baseline="central">3</text>
<line x1="493.10" y1="145.30" x2="493.10" y2="148.50" stroke="#222" stroke-width="1" />
<text x="493.1" y="155.6" font-size="8.2" fill="#444" text-anchor="middle" font-weight="normal" dominant-baseline="central">6</text>
<text x="304.3" y="72.7" font-size="10.2" fill="#444" text-anchor="middle" textLength="33.5" lengthAdjust="spacingAndGlyphs" transform="rotate(-90 304.3 72.7)" dominant-baseline="central">-log<tspan font-size="7.4" dy="2.4">10</tspan><tspan dy="-4.8">P</tspan></text>
<text x="415" y="168.3" font-size="9.8" fill="#444" text-anchor="middle" textLength="56.6" lengthAdjust="spacingAndGlyphs" dominant-baseline="central">log<tspan font-size="6.8" dy="2.2">2</tspan><tspan dy="-2.2"> fold change</tspan></text>
<path d="M395.5,134.5 L395.5,127.5 L398,126.6 L402,127.2 L406,128.2 L410,129 L413,130.5 L416,131.5 L420,131.2 L424,130 L428,129.6 L432,129.4 L434.3,129 L434.3,134 Z" fill="#3f4aa8"/>
<path d="M395.5,138.6 L395.5,134.3 L402,134.1 L410,133.9 L420,133.5 L428,133.1 L434.3,132.9 L434.3,136.6 L428,136.9 L418,137.3 L408,137.7 L400,138.2 Z" fill="#161616"/>
<path d="M395.4,136.8 L388,136.7 L385.3,134.2 L385.8,130.5 L388.3,127 L391.3,124 L394,122.5 L395.4,123 Z" fill="#c81c24"/>
<path d="M389.5,137 L395.4,137 L395.4,139.6 L390,139.3 Z" fill="#2e8b3a"/>
<circle cx="419.5" cy="131.9" r="0.75" fill="#4a55b0"/>
<circle cx="426.1" cy="131.0" r="0.75" fill="#4a55b0"/>
<circle cx="424.0" cy="130.9" r="0.75" fill="#4a55b0"/>
<circle cx="396.6" cy="127.1" r="0.75" fill="#4a55b0"/>
<circle cx="431.8" cy="130.2" r="0.75" fill="#4a55b0"/>
<circle cx="430.2" cy="128.9" r="0.75" fill="#4a55b0"/>
<circle cx="413.6" cy="130.6" r="0.75" fill="#4a55b0"/>
<circle cx="416.4" cy="131.4" r="0.75" fill="#4a55b0"/>
<circle cx="396.0" cy="126.4" r="0.75" fill="#4a55b0"/>
<circle cx="406.3" cy="129.7" r="0.75" fill="#4a55b0"/>
<circle cx="425.0" cy="129.0" r="0.75" fill="#4a55b0"/>
<circle cx="426.2" cy="128.9" r="0.75" fill="#4a55b0"/>
<circle cx="419.3" cy="130.3" r="0.75" fill="#4a55b0"/>
<circle cx="395.6" cy="128.0" r="0.75" fill="#4a55b0"/>
<circle cx="403.6" cy="127.5" r="0.75" fill="#4a55b0"/>
<circle cx="433.3" cy="130.8" r="0.75" fill="#4a55b0"/>
<circle cx="406.6" cy="129.9" r="0.75" fill="#4a55b0"/>
<circle cx="416.3" cy="131.7" r="0.75" fill="#4a55b0"/>
<circle cx="403.4" cy="129.3" r="0.75" fill="#4a55b0"/>
<circle cx="422.1" cy="131.0" r="0.75" fill="#4a55b0"/>
<circle cx="429.9" cy="129.3" r="0.75" fill="#4a55b0"/>
<circle cx="409.4" cy="128.3" r="0.75" fill="#4a55b0"/>
<circle cx="401.1" cy="126.8" r="0.75" fill="#4a55b0"/>
<circle cx="407.1" cy="129.0" r="0.75" fill="#4a55b0"/>
<circle cx="395.6" cy="127.5" r="0.75" fill="#4a55b0"/>
<circle cx="408.5" cy="128.5" r="0.75" fill="#4a55b0"/>
<circle cx="427.0" cy="129.8" r="0.75" fill="#4a55b0"/>
<circle cx="407.7" cy="128.8" r="0.75" fill="#4a55b0"/>
<circle cx="422.6" cy="128.7" r="0.75" fill="#4a55b0"/>
<circle cx="433.0" cy="128.7" r="0.75" fill="#4a55b0"/>
<circle cx="424.4" cy="130.7" r="0.75" fill="#4a55b0"/>
<circle cx="396.2" cy="127.9" r="0.75" fill="#4a55b0"/>
<circle cx="409.6" cy="129.4" r="0.75" fill="#4a55b0"/>
<circle cx="395.8" cy="126.0" r="0.75" fill="#4a55b0"/>
<circle cx="402.5" cy="129.2" r="0.75" fill="#4a55b0"/>
<circle cx="403.1" cy="128.8" r="0.75" fill="#4a55b0"/>
<circle cx="431.3" cy="131.0" r="0.75" fill="#4a55b0"/>
<circle cx="408.8" cy="128.7" r="0.75" fill="#4a55b0"/>
<circle cx="415.7" cy="131.9" r="0.75" fill="#4a55b0"/>
<circle cx="399.7" cy="128.3" r="0.75" fill="#4a55b0"/>
<circle cx="426.2" cy="130.7" r="0.75" fill="#4a55b0"/>
<circle cx="396.9" cy="128.4" r="0.75" fill="#4a55b0"/>
<circle cx="399.0" cy="127.2" r="0.75" fill="#4a55b0"/>
<circle cx="419.0" cy="132.3" r="0.75" fill="#4a55b0"/>
<circle cx="408.6" cy="130.1" r="0.75" fill="#4a55b0"/>
<circle cx="416.5" cy="130.8" r="0.75" fill="#4a55b0"/>
<circle cx="407.7" cy="128.1" r="0.75" fill="#4a55b0"/>
<circle cx="398.5" cy="126.6" r="0.75" fill="#4a55b0"/>
<circle cx="422.0" cy="131.1" r="0.75" fill="#4a55b0"/>
<circle cx="401.7" cy="126.9" r="0.75" fill="#4a55b0"/>
<circle cx="433.5" cy="129.9" r="0.75" fill="#4a55b0"/>
<circle cx="411.1" cy="128.6" r="0.75" fill="#4a55b0"/>
<circle cx="418.4" cy="132.1" r="0.75" fill="#4a55b0"/>
<circle cx="413.0" cy="131.1" r="0.75" fill="#4a55b0"/>
<circle cx="397.6" cy="128.4" r="0.75" fill="#4a55b0"/>
<circle cx="396.8" cy="127.2" r="0.75" fill="#4a55b0"/>
<circle cx="427.8" cy="128.9" r="0.75" fill="#4a55b0"/>
<circle cx="423.7" cy="131.0" r="0.75" fill="#4a55b0"/>
<circle cx="419.8" cy="132.0" r="0.75" fill="#4a55b0"/>
<circle cx="399.6" cy="127.5" r="0.75" fill="#4a55b0"/>
<circle cx="401.2" cy="128.8" r="0.75" fill="#4a55b0"/>
<circle cx="406.9" cy="128.6" r="0.75" fill="#4a55b0"/>
<circle cx="434.0" cy="130.7" r="0.75" fill="#4a55b0"/>
<circle cx="433.1" cy="129.7" r="0.75" fill="#4a55b0"/>
<circle cx="414.3" cy="131.8" r="0.75" fill="#4a55b0"/>
<circle cx="413.9" cy="130.7" r="0.75" fill="#4a55b0"/>
<circle cx="411.0" cy="128.4" r="0.75" fill="#4a55b0"/>
<circle cx="410.0" cy="130.5" r="0.75" fill="#4a55b0"/>
<circle cx="432.5" cy="130.2" r="0.75" fill="#4a55b0"/>
<circle cx="414.7" cy="130.8" r="0.75" fill="#4a55b0"/>
<circle cx="399.4" cy="133.4" r="0.6" fill="#1a1a1a"/>
<circle cx="425.7" cy="134.2" r="0.6" fill="#1a1a1a"/>
<circle cx="409.7" cy="134.1" r="0.6" fill="#1a1a1a"/>
<circle cx="425.4" cy="134.0" r="0.6" fill="#1a1a1a"/>
<circle cx="421.2" cy="134.1" r="0.6" fill="#1a1a1a"/>
<circle cx="409.8" cy="134.0" r="0.6" fill="#1a1a1a"/>
<circle cx="406.7" cy="133.7" r="0.6" fill="#1a1a1a"/>
<circle cx="425.3" cy="134.0" r="0.6" fill="#1a1a1a"/>
<circle cx="407.2" cy="134.3" r="0.6" fill="#1a1a1a"/>
<circle cx="420.7" cy="133.8" r="0.6" fill="#1a1a1a"/>
<circle cx="396.4" cy="133.8" r="0.6" fill="#1a1a1a"/>
<circle cx="405.5" cy="133.9" r="0.6" fill="#1a1a1a"/>
<circle cx="413.6" cy="134.1" r="0.6" fill="#1a1a1a"/>
<circle cx="420.6" cy="134.1" r="0.6" fill="#1a1a1a"/>
<circle cx="409.2" cy="133.9" r="0.6" fill="#1a1a1a"/>
<circle cx="424.0" cy="134.2" r="0.6" fill="#1a1a1a"/>
<circle cx="409.3" cy="134.2" r="0.6" fill="#1a1a1a"/>
<circle cx="429.1" cy="134.0" r="0.6" fill="#1a1a1a"/>
<circle cx="433.1" cy="134.3" r="0.6" fill="#1a1a1a"/>
<circle cx="415.7" cy="133.7" r="0.6" fill="#1a1a1a"/>
<circle cx="402.3" cy="134.2" r="0.6" fill="#1a1a1a"/>
<circle cx="431.6" cy="133.7" r="0.6" fill="#1a1a1a"/>
<circle cx="422.3" cy="134.0" r="0.6" fill="#1a1a1a"/>
<circle cx="423.8" cy="133.2" r="0.6" fill="#1a1a1a"/>
<circle cx="425.7" cy="133.8" r="0.6" fill="#1a1a1a"/>
<circle cx="421.3" cy="133.6" r="0.6" fill="#1a1a1a"/>
<circle cx="419.7" cy="134.1" r="0.6" fill="#1a1a1a"/>
<circle cx="420.2" cy="134.0" r="0.6" fill="#1a1a1a"/>
<circle cx="397.0" cy="133.2" r="0.6" fill="#1a1a1a"/>
<circle cx="412.8" cy="133.9" r="0.6" fill="#1a1a1a"/>
<circle cx="404.3" cy="134.0" r="0.6" fill="#1a1a1a"/>
<circle cx="420.0" cy="133.1" r="0.6" fill="#1a1a1a"/>
<circle cx="413.9" cy="133.3" r="0.6" fill="#1a1a1a"/>
<circle cx="398.1" cy="133.2" r="0.6" fill="#1a1a1a"/>
<circle cx="408.1" cy="133.3" r="0.6" fill="#1a1a1a"/>
<circle cx="403.3" cy="133.0" r="0.6" fill="#1a1a1a"/>
<circle cx="413.7" cy="133.5" r="0.6" fill="#1a1a1a"/>
<circle cx="419.2" cy="133.8" r="0.6" fill="#1a1a1a"/>
<circle cx="405.0" cy="134.3" r="0.6" fill="#1a1a1a"/>
<circle cx="396.0" cy="133.6" r="0.6" fill="#1a1a1a"/>
<circle cx="398.0" cy="61.5" r="0.95" fill="#7a8ad0"/>
<circle cx="399.0" cy="73.0" r="0.95" fill="#7a8ad0"/>
<circle cx="404.0" cy="114.0" r="0.95" fill="#7a8ad0"/>
<circle cx="401.0" cy="121.0" r="0.95" fill="#7a8ad0"/>
<circle cx="405.0" cy="125.0" r="0.95" fill="#7a8ad0"/>
<circle cx="398.0" cy="117.0" r="0.95" fill="#7a8ad0"/>
<circle cx="407.0" cy="119.0" r="0.95" fill="#7a8ad0"/>
<circle cx="418.0" cy="125.5" r="0.95" fill="#7a8ad0"/>
<circle cx="411.0" cy="124.0" r="0.95" fill="#7a8ad0"/>
<circle cx="402.0" cy="124.5" r="0.95" fill="#7a8ad0"/>
<circle cx="426.0" cy="127.5" r="0.95" fill="#7a8ad0"/>
<circle cx="385.7" cy="126.4" r="0.8" fill="#d42630"/>
<circle cx="383.5" cy="134.0" r="0.8" fill="#d42630"/>
<circle cx="387.0" cy="119.6" r="0.8" fill="#d42630"/>
<circle cx="390.2" cy="120.7" r="0.8" fill="#d42630"/>
<circle cx="389.3" cy="125.1" r="0.8" fill="#d42630"/>
<circle cx="389.7" cy="136.2" r="0.8" fill="#d42630"/>
<circle cx="392.9" cy="126.5" r="0.8" fill="#d42630"/>
<circle cx="392.8" cy="130.6" r="0.8" fill="#d42630"/>
<circle cx="386.9" cy="121.6" r="0.8" fill="#d42630"/>
<circle cx="389.9" cy="129.1" r="0.8" fill="#d42630"/>
<circle cx="394.7" cy="136.4" r="0.8" fill="#d42630"/>
<circle cx="390.1" cy="125.3" r="0.8" fill="#d42630"/>
<circle cx="393.9" cy="119.0" r="0.8" fill="#d42630"/>
<circle cx="383.4" cy="129.2" r="0.8" fill="#d42630"/>
<circle cx="390.2" cy="121.5" r="0.8" fill="#d42630"/>
<circle cx="390.4" cy="135.0" r="0.8" fill="#d42630"/>
<circle cx="387.0" cy="126.8" r="0.8" fill="#d42630"/>
<circle cx="385.0" cy="124.2" r="0.8" fill="#d42630"/>
<circle cx="394.9" cy="125.8" r="0.8" fill="#d42630"/>
<circle cx="394.8" cy="135.4" r="0.8" fill="#d42630"/>
<circle cx="389.9" cy="123.7" r="0.8" fill="#d42630"/>
<circle cx="395.0" cy="127.9" r="0.8" fill="#d42630"/>
<circle cx="387.5" cy="124.7" r="0.8" fill="#d42630"/>
<circle cx="395.1" cy="127.9" r="0.8" fill="#d42630"/>
<circle cx="385.8" cy="127.6" r="0.8" fill="#d42630"/>
<circle cx="383.6" cy="130.2" r="0.8" fill="#d42630"/>
<circle cx="387.9" cy="124.3" r="0.8" fill="#d42630"/>
<circle cx="392.4" cy="133.9" r="0.8" fill="#d42630"/>
<circle cx="382.2" cy="128.6" r="0.8" fill="#d42630"/>
<circle cx="385.6" cy="135.8" r="0.8" fill="#d42630"/>
<circle cx="392.4" cy="123.4" r="0.8" fill="#d42630"/>
<circle cx="385.6" cy="121.8" r="0.8" fill="#d42630"/>
<circle cx="395.2" cy="124.3" r="0.8" fill="#d42630"/>
<circle cx="390.1" cy="127.5" r="0.8" fill="#d42630"/>
<circle cx="390.6" cy="129.9" r="0.8" fill="#d42630"/>
<circle cx="391.9" cy="121.1" r="0.8" fill="#d42630"/>
<circle cx="392.1" cy="124.4" r="0.8" fill="#d42630"/>
<circle cx="389.1" cy="125.1" r="0.8" fill="#d42630"/>
<circle cx="385.9" cy="128.5" r="0.8" fill="#d42630"/>
<circle cx="388.2" cy="125.5" r="0.8" fill="#d42630"/>
<circle cx="391.9" cy="129.6" r="0.8" fill="#d42630"/>
<circle cx="382.5" cy="123.5" r="0.8" fill="#d42630"/>
<circle cx="388.1" cy="135.5" r="0.8" fill="#d42630"/>
<circle cx="393.8" cy="128.8" r="0.8" fill="#d42630"/>
<circle cx="382.2" cy="133.0" r="0.8" fill="#d42630"/>
<circle cx="387.7" cy="129.4" r="0.8" fill="#d42630"/>
<circle cx="391.4" cy="130.4" r="0.8" fill="#d42630"/>
<circle cx="388.4" cy="135.4" r="0.8" fill="#d42630"/>
<circle cx="387.1" cy="126.1" r="0.8" fill="#d42630"/>
<circle cx="393.3" cy="122.5" r="0.8" fill="#d42630"/>
<circle cx="385.9" cy="133.9" r="0.8" fill="#d42630"/>
<circle cx="382.9" cy="134.1" r="0.8" fill="#d42630"/>
<circle cx="391.2" cy="126.8" r="0.8" fill="#d42630"/>
<circle cx="385.8" cy="133.1" r="0.8" fill="#d42630"/>
<circle cx="394.1" cy="121.6" r="0.8" fill="#d42630"/>
<circle cx="388.4" cy="128.9" r="0.8" fill="#d42630"/>
<circle cx="388.6" cy="125.0" r="0.8" fill="#d42630"/>
<circle cx="384.0" cy="129.5" r="0.8" fill="#d42630"/>
<circle cx="392.8" cy="120.2" r="0.8" fill="#d42630"/>
<circle cx="385.1" cy="133.8" r="0.8" fill="#d42630"/>
<circle cx="383.5" cy="123.2" r="1.0" fill="#d23a52"/>
<circle cx="341.4" cy="125.3" r="1.0" fill="#d23a52"/>
<circle cx="393.8" cy="134.9" r="1.0" fill="#d23a52"/>
<circle cx="378.6" cy="101.7" r="1.0" fill="#d23a52"/>
<circle cx="386.3" cy="107.7" r="1.0" fill="#d23a52"/>
<circle cx="375.5" cy="133.3" r="1.0" fill="#d23a52"/>
<circle cx="379.2" cy="104.7" r="1.0" fill="#d23a52"/>
<circle cx="356.1" cy="132.1" r="1.0" fill="#d23a52"/>
<circle cx="348.2" cy="121.4" r="1.0" fill="#d23a52"/>
<circle cx="362.8" cy="105.6" r="1.0" fill="#d23a52"/>
<circle cx="374.2" cy="101.5" r="1.0" fill="#d23a52"/>
<circle cx="346.0" cy="113.3" r="1.0" fill="#d23a52"/>
<circle cx="344.0" cy="102.0" r="1.0" fill="#d23a52"/>
<circle cx="371.6" cy="126.0" r="1.0" fill="#d23a52"/>
<circle cx="388.3" cy="104.7" r="1.0" fill="#d23a52"/>
<circle cx="363.7" cy="111.0" r="1.0" fill="#d23a52"/>
<circle cx="373.0" cy="117.1" r="1.0" fill="#d23a52"/>
<circle cx="391.6" cy="113.1" r="1.0" fill="#d23a52"/>
<circle cx="343.1" cy="124.4" r="1.0" fill="#d23a52"/>
<circle cx="348.3" cy="122.1" r="1.0" fill="#d23a52"/>
<circle cx="367.8" cy="131.9" r="1.0" fill="#d23a52"/>
<circle cx="370.5" cy="121.7" r="1.0" fill="#d23a52"/>
<circle cx="435.5" cy="130.0" r="0.8" fill="#d42630"/>
<circle cx="436.5" cy="131.5" r="0.8" fill="#d42630"/>
<circle cx="437.0" cy="133.5" r="0.8" fill="#d42630"/>
<circle cx="438.5" cy="130.8" r="0.8" fill="#d42630"/>
<circle cx="439.5" cy="132.8" r="0.8" fill="#d42630"/>
<circle cx="441.0" cy="131.2" r="0.8" fill="#d42630"/>
<circle cx="442.5" cy="133.5" r="0.8" fill="#d42630"/>
<circle cx="444.0" cy="131.8" r="0.8" fill="#d42630"/>
<circle cx="446.0" cy="133.0" r="0.8" fill="#d42630"/>
<circle cx="448.0" cy="132.2" r="0.8" fill="#d42630"/>
<circle cx="450.5" cy="133.2" r="0.8" fill="#d42630"/>
<circle cx="436.0" cy="134.5" r="0.8" fill="#d42630"/>
<circle cx="438.0" cy="134.8" r="0.8" fill="#d42630"/>
<circle cx="440.5" cy="134.3" r="0.8" fill="#d42630"/>
<circle cx="353" cy="19.7" r="1.1" fill="#d23a52"/>
<circle cx="358.5" cy="38.9" r="1.1" fill="#d23a52"/>
<circle cx="381.5" cy="58.5" r="1.1" fill="#d23a52"/>
<circle cx="356.8" cy="89.5" r="1.1" fill="#d23a52"/>
<circle cx="373.3" cy="88.7" r="1.1" fill="#d23a52"/>
<circle cx="340.4" cy="93.5" r="1.1" fill="#d23a52"/>
<circle cx="345.6" cy="94.4" r="1.1" fill="#d23a52"/>
<circle cx="349" cy="101" r="1.1" fill="#d23a52"/>
<circle cx="359" cy="103" r="1.1" fill="#d23a52"/>
<circle cx="364" cy="103.5" r="1.1" fill="#d23a52"/>
<circle cx="383" cy="111" r="1.1" fill="#d23a52"/>
<circle cx="391" cy="118" r="1.1" fill="#d23a52"/>
<circle cx="378" cy="109" r="1.1" fill="#d23a52"/>
<circle cx="351" cy="113" r="1.1" fill="#d23a52"/>
<circle cx="353" cy="118" r="1.1" fill="#d23a52"/>
<circle cx="358" cy="124" r="1.1" fill="#d23a52"/>
<circle cx="345" cy="127" r="1.1" fill="#d23a52"/>
<line x1="353" y1="20.5" x2="354" y2="22.5" stroke="#e07a8a" stroke-width="0.45"/>
<line x1="358.5" y1="39.5" x2="359" y2="41.5" stroke="#e07a8a" stroke-width="0.45"/>
<line x1="381.5" y1="59" x2="382" y2="60.8" stroke="#e07a8a" stroke-width="0.45"/>
<line x1="356.8" y1="90" x2="358" y2="91.5" stroke="#e07a8a" stroke-width="0.45"/>
<line x1="345.6" y1="95" x2="344" y2="96" stroke="#e07a8a" stroke-width="0.45"/>
<line x1="349" y1="101.5" x2="347" y2="105.5" stroke="#e07a8a" stroke-width="0.45"/>
<line x1="364" y1="104" x2="362" y2="104.5" stroke="#e07a8a" stroke-width="0.45"/>
<line x1="383" y1="111" x2="381" y2="107" stroke="#e07a8a" stroke-width="0.45"/>
<line x1="378" y1="109" x2="383" y2="105" stroke="#e07a8a" stroke-width="0.45"/>
<line x1="391" y1="118" x2="388" y2="112.5" stroke="#e07a8a" stroke-width="0.45"/>
<line x1="358" y1="124" x2="362" y2="122.5" stroke="#e07a8a" stroke-width="0.45"/>
<line x1="351" y1="113" x2="356" y2="113.5" stroke="#e07a8a" stroke-width="0.45"/>
<line x1="353" y1="118" x2="358" y2="119" stroke="#e07a8a" stroke-width="0.45"/>
<line x1="345" y1="127" x2="349" y2="130" stroke="#e07a8a" stroke-width="0.45"/>
<line x1="372" y1="127" x2="369" y2="129" stroke="#e07a8a" stroke-width="0.45"/>
<line x1="385" y1="121" x2="380" y2="119.5" stroke="#e07a8a" stroke-width="0.45"/>
<line x1="389" y1="115" x2="392" y2="104" stroke="#e07a8a" stroke-width="0.45"/>
<line x1="387" y1="120" x2="384" y2="125.5" stroke="#e07a8a" stroke-width="0.45"/>
<line x1="370" y1="131" x2="372" y2="135" stroke="#e07a8a" stroke-width="0.45"/>
<line x1="380" y1="128" x2="377" y2="131" stroke="#e07a8a" stroke-width="0.45"/>
<text x="355.0" y="24.3" font-size="5.4" fill="#2e2e2e" text-anchor="middle" font-weight="normal" dominant-baseline="central">H2-Q7</text>
<text x="360.7" y="43.5" font-size="5.4" fill="#2e2e2e" text-anchor="middle" font-weight="normal" dominant-baseline="central">H2-Q6</text>
<text x="382.0" y="62.6" font-size="5.4" fill="#2e2e2e" text-anchor="middle" font-weight="normal" dominant-baseline="central">H2-Q5</text>
<text x="359.2" y="93.0" font-size="5.4" fill="#2e2e2e" text-anchor="middle" font-weight="normal" dominant-baseline="central">Oas1g</text>
<text x="340.6" y="97.3" font-size="5.4" fill="#2e2e2e" text-anchor="middle" font-weight="normal" dominant-baseline="central">Iigp1</text>
<text x="347.7" y="107.3" font-size="5.4" fill="#2e2e2e" text-anchor="middle" font-weight="normal" dominant-baseline="central">Csf4</text>
<text x="362.5" y="105.6" font-size="5.4" fill="#2e2e2e" text-anchor="middle" font-weight="normal" dominant-baseline="central">Irf7</text>
<text x="389.7" y="102.5" font-size="5.4" fill="#2e2e2e" text-anchor="middle" font-weight="normal" dominant-baseline="central">H2-Q4</text>
<text x="382.0" y="107.7" font-size="5.4" fill="#2e2e2e" text-anchor="middle" font-weight="normal" dominant-baseline="central">Nmi5</text>
<text x="363.0" y="113.7" font-size="5.4" fill="#2e2e2e" text-anchor="middle" font-weight="normal" dominant-baseline="central">Gm12185</text>
<text x="386.8" y="112.0" font-size="5.4" fill="#2e2e2e" text-anchor="middle" font-weight="normal" dominant-baseline="central">Tgtp2</text>
<text x="372.4" y="119.5" font-size="5.4" fill="#2e2e2e" text-anchor="middle" font-weight="normal" dominant-baseline="central">3930417E14Rik</text>
<text x="363.7" y="124.1" font-size="5.4" fill="#2e2e2e" text-anchor="middle" font-weight="normal" dominant-baseline="central">Ifi27</text>
<text x="386.0" y="125.9" font-size="5.4" fill="#2e2e2e" text-anchor="middle" font-weight="normal" dominant-baseline="central">Cl</text>
<text x="352.9" y="131.1" font-size="5.4" fill="#2e2e2e" text-anchor="middle" font-weight="normal" dominant-baseline="central">Ifit1</text>
<text x="367.6" y="130.2" font-size="5.4" fill="#2e2e2e" text-anchor="middle" font-weight="normal" dominant-baseline="central">Gbp11</text>
<text x="374.4" y="139.2" font-size="5.4" fill="#2e2e2e" text-anchor="start" font-weight="normal" dominant-baseline="central">6030468B19Rik</text>
<text x="441.0" y="131.3" font-size="5.4" fill="#c23a4a" text-anchor="start" font-weight="normal" dominant-baseline="central">Ptpd1</text>
<text x="438.0" y="139.5" font-size="5.4" fill="#3a3a3a" text-anchor="start" font-weight="normal" dominant-baseline="central">Echdc2</text>
<rect x="37.30" y="281.50" width="1.65" height="12.39" fill="#e0d0ea"/>
<rect x="37.30" y="293.79" width="1.65" height="12.39" fill="#def1d7"/>
<rect x="37.30" y="306.08" width="1.65" height="12.39" fill="#ece1f1"/>
<rect x="37.30" y="318.38" width="1.65" height="12.39" fill="#a177bc"/>
<rect x="37.30" y="330.67" width="1.65" height="12.39" fill="#d3bbe2"/>
<rect x="37.30" y="342.96" width="1.65" height="12.39" fill="#d1b9e1"/>
<rect x="37.30" y="355.25" width="1.65" height="12.39" fill="#f9faf7"/>
<rect x="37.30" y="367.54" width="1.65" height="12.39" fill="#e0cfea"/>
<rect x="37.30" y="379.83" width="1.65" height="12.39" fill="#d7eecf"/>
<rect x="37.30" y="392.12" width="1.65" height="12.39" fill="#f1ebf4"/>
<rect x="37.30" y="404.42" width="1.65" height="12.39" fill="#9ed294"/>
<rect x="37.30" y="416.71" width="1.65" height="12.39" fill="#cbb0dc"/>
<rect x="38.80" y="281.50" width="2.15" height="12.39" fill="#d2bae1"/>
<rect x="38.80" y="293.79" width="2.15" height="12.39" fill="#c3e5b9"/>
<rect x="38.80" y="306.08" width="2.15" height="12.39" fill="#ebe0f0"/>
<rect x="38.80" y="318.38" width="2.15" height="12.39" fill="#d7c2e5"/>
<rect x="38.80" y="330.67" width="2.15" height="12.39" fill="#d0b7e0"/>
<rect x="38.80" y="342.96" width="2.15" height="12.39" fill="#cfb6df"/>
<rect x="38.80" y="355.25" width="2.15" height="12.39" fill="#eee5f2"/>
<rect x="38.80" y="367.54" width="2.15" height="12.39" fill="#c1a1d5"/>
<rect x="38.80" y="379.83" width="2.15" height="12.39" fill="#c2a2d6"/>
<rect x="38.80" y="392.12" width="2.15" height="12.39" fill="#e0cfea"/>
<rect x="38.80" y="404.42" width="2.15" height="12.39" fill="#be9dd3"/>
<rect x="38.80" y="416.71" width="2.15" height="12.39" fill="#bee3b4"/>
<rect x="40.80" y="281.50" width="2.65" height="12.39" fill="#b08bc8"/>
<rect x="40.80" y="293.79" width="2.65" height="12.39" fill="#eadef0"/>
<rect x="40.80" y="306.08" width="2.65" height="12.39" fill="#b38ecb"/>
<rect x="40.80" y="318.38" width="2.65" height="12.39" fill="#ab84c4"/>
<rect x="40.80" y="330.67" width="2.65" height="12.39" fill="#bd9bd3"/>
<rect x="40.80" y="342.96" width="2.65" height="12.39" fill="#cdb3de"/>
<rect x="40.80" y="355.25" width="2.65" height="12.39" fill="#d5bee3"/>
<rect x="40.80" y="367.54" width="2.65" height="12.39" fill="#b895cf"/>
<rect x="40.80" y="379.83" width="2.65" height="12.39" fill="#ceb5df"/>
<rect x="40.80" y="392.12" width="2.65" height="12.39" fill="#cfb6df"/>
<rect x="40.80" y="404.42" width="2.65" height="12.39" fill="#d7c2e5"/>
<rect x="40.80" y="416.71" width="2.65" height="12.39" fill="#e4d6ec"/>
<rect x="43.30" y="281.50" width="2.15" height="12.39" fill="#decce8"/>
<rect x="43.30" y="293.79" width="2.15" height="12.39" fill="#aedaa4"/>
<rect x="43.30" y="306.08" width="2.15" height="12.39" fill="#efe7f2"/>
<rect x="43.30" y="318.38" width="2.15" height="12.39" fill="#decce9"/>
<rect x="43.30" y="330.67" width="2.15" height="12.39" fill="#d7c1e4"/>
<rect x="43.30" y="342.96" width="2.15" height="12.39" fill="#d1b8e0"/>
<rect x="43.30" y="355.25" width="2.15" height="12.39" fill="#b590cc"/>
<rect x="43.30" y="367.54" width="2.15" height="12.39" fill="#b08bc9"/>
<rect x="43.30" y="379.83" width="2.15" height="12.39" fill="#f3eef4"/>
<rect x="43.30" y="392.12" width="2.15" height="12.39" fill="#e1d1eb"/>
<rect x="43.30" y="404.42" width="2.15" height="12.39" fill="#c5a7d8"/>
<rect x="43.30" y="416.71" width="2.15" height="12.39" fill="#c3a4d7"/>
<rect x="45.30" y="281.50" width="2.65" height="12.39" fill="#ceb4de"/>
<rect x="45.30" y="293.79" width="2.65" height="12.39" fill="#d5bfe4"/>
<rect x="45.30" y="306.08" width="2.65" height="12.39" fill="#e1f2da"/>
<rect x="45.30" y="318.38" width="2.65" height="12.39" fill="#a982c2"/>
<rect x="45.30" y="330.67" width="2.65" height="12.39" fill="#cdb4de"/>
<rect x="45.30" y="342.96" width="2.65" height="12.39" fill="#cfb6df"/>
<rect x="45.30" y="355.25" width="2.65" height="12.39" fill="#e8dcef"/>
<rect x="45.30" y="367.54" width="2.65" height="12.39" fill="#cdb3de"/>
<rect x="45.30" y="379.83" width="2.65" height="12.39" fill="#c6a9d9"/>
<rect x="45.30" y="392.12" width="2.65" height="12.39" fill="#ede4f2"/>
<rect x="45.30" y="404.42" width="2.65" height="12.39" fill="#e7daee"/>
<rect x="45.30" y="416.71" width="2.65" height="12.39" fill="#bee3b4"/>
<rect x="47.80" y="281.50" width="1.65" height="12.39" fill="#b38fcb"/>
<rect x="47.80" y="293.79" width="1.65" height="12.39" fill="#ad87c6"/>
<rect x="47.80" y="306.08" width="1.65" height="12.39" fill="#8755a1"/>
<rect x="47.80" y="318.38" width="1.65" height="12.39" fill="#b591cd"/>
<rect x="47.80" y="330.67" width="1.65" height="12.39" fill="#d3bce2"/>
<rect x="47.80" y="342.96" width="1.65" height="12.39" fill="#caafdc"/>
<rect x="47.80" y="355.25" width="1.65" height="12.39" fill="#d8c3e5"/>
<rect x="47.80" y="367.54" width="1.65" height="12.39" fill="#c4a5d7"/>
<rect x="47.80" y="379.83" width="1.65" height="12.39" fill="#ddcbe8"/>
<rect x="47.80" y="392.12" width="1.65" height="12.39" fill="#c7aada"/>
<rect x="47.80" y="404.42" width="1.65" height="12.39" fill="#f0e9f3"/>
<rect x="47.80" y="416.71" width="1.65" height="12.39" fill="#bee3b4"/>
<rect x="49.30" y="281.50" width="2.15" height="12.39" fill="#caaedc"/>
<rect x="49.30" y="293.79" width="2.15" height="12.39" fill="#d8c3e5"/>
<rect x="49.30" y="306.08" width="2.15" height="12.39" fill="#b08bc8"/>
<rect x="49.30" y="318.38" width="2.15" height="12.39" fill="#cbb0dd"/>
<rect x="49.30" y="330.67" width="2.15" height="12.39" fill="#d5bfe3"/>
<rect x="49.30" y="342.96" width="2.15" height="12.39" fill="#cdb3de"/>
<rect x="49.30" y="355.25" width="2.15" height="12.39" fill="#dfcde9"/>
<rect x="49.30" y="367.54" width="2.15" height="12.39" fill="#a880c2"/>
<rect x="49.30" y="379.83" width="2.15" height="12.39" fill="#d4edcc"/>
<rect x="49.30" y="392.12" width="2.15" height="12.39" fill="#c1a2d6"/>
<rect x="49.30" y="404.42" width="2.15" height="12.39" fill="#e8dcef"/>
<rect x="49.30" y="416.71" width="2.15" height="12.39" fill="#bee3b4"/>
<rect x="51.30" y="281.50" width="3.15" height="12.39" fill="#cfb6df"/>
<rect x="51.30" y="293.79" width="3.15" height="12.39" fill="#e4d5ec"/>
<rect x="51.30" y="306.08" width="3.15" height="12.39" fill="#c9aedb"/>
<rect x="51.30" y="318.38" width="3.15" height="12.39" fill="#c1a2d6"/>
<rect x="51.30" y="330.67" width="3.15" height="12.39" fill="#c9aedb"/>
<rect x="51.30" y="342.96" width="3.15" height="12.39" fill="#c6a9d9"/>
<rect x="51.30" y="355.25" width="3.15" height="12.39" fill="#c7aada"/>
<rect x="51.30" y="367.54" width="3.15" height="12.39" fill="#a880c2"/>
<rect x="51.30" y="379.83" width="3.15" height="12.39" fill="#b692cd"/>
<rect x="51.30" y="392.12" width="3.15" height="12.39" fill="#eef6e9"/>
<rect x="51.30" y="404.42" width="3.15" height="12.39" fill="#976bb3"/>
<rect x="51.30" y="416.71" width="3.15" height="12.39" fill="#d6c1e4"/>
<rect x="54.30" y="281.50" width="1.65" height="12.39" fill="#d4edcb"/>
<rect x="54.30" y="293.79" width="1.65" height="12.39" fill="#f1f7ee"/>
<rect x="54.30" y="306.08" width="1.65" height="12.39" fill="#dff1d8"/>
<rect x="54.30" y="318.38" width="1.65" height="12.39" fill="#bc9ad2"/>
<rect x="54.30" y="330.67" width="1.65" height="12.39" fill="#c8acdb"/>
<rect x="54.30" y="342.96" width="1.65" height="12.39" fill="#c6a9d9"/>
<rect x="54.30" y="355.25" width="1.65" height="12.39" fill="#d9c5e6"/>
<rect x="54.30" y="367.54" width="1.65" height="12.39" fill="#f1f7ed"/>
<rect x="54.30" y="379.83" width="1.65" height="12.39" fill="#f5f9f3"/>
<rect x="54.30" y="392.12" width="1.65" height="12.39" fill="#ccb2dd"/>
<rect x="54.30" y="404.42" width="1.65" height="12.39" fill="#e3f3dc"/>
<rect x="54.30" y="416.71" width="1.65" height="12.39" fill="#b996d0"/>
<rect x="55.80" y="281.50" width="3.15" height="12.39" fill="#e9deef"/>
<rect x="55.80" y="293.79" width="3.15" height="12.39" fill="#95cc8b"/>
<rect x="55.80" y="306.08" width="3.15" height="12.39" fill="#b793ce"/>
<rect x="55.80" y="318.38" width="3.15" height="12.39" fill="#9669b2"/>
<rect x="55.80" y="330.67" width="3.15" height="12.39" fill="#d2bae1"/>
<rect x="55.80" y="342.96" width="3.15" height="12.39" fill="#d6c0e4"/>
<rect x="55.80" y="355.25" width="3.15" height="12.39" fill="#d0b7e0"/>
<rect x="55.80" y="367.54" width="3.15" height="12.39" fill="#5f1e73"/>
<rect x="55.80" y="379.83" width="3.15" height="12.39" fill="#f9faf6"/>
<rect x="55.80" y="392.12" width="3.15" height="12.39" fill="#c9aedb"/>
<rect x="55.80" y="404.42" width="3.15" height="12.39" fill="#c4a5d7"/>
<rect x="55.80" y="416.71" width="3.15" height="12.39" fill="#d6bfe4"/>
<rect x="58.80" y="281.50" width="2.15" height="12.39" fill="#f6f4f6"/>
<rect x="58.80" y="293.79" width="2.15" height="12.39" fill="#e5d7ed"/>
<rect x="58.80" y="306.08" width="2.15" height="12.39" fill="#ecf6e8"/>
<rect x="58.80" y="318.38" width="2.15" height="12.39" fill="#cbb1dd"/>
<rect x="58.80" y="330.67" width="2.15" height="12.39" fill="#dfcde9"/>
<rect x="58.80" y="342.96" width="2.15" height="12.39" fill="#d4bde2"/>
<rect x="58.80" y="355.25" width="2.15" height="12.39" fill="#d2bae1"/>
<rect x="58.80" y="367.54" width="2.15" height="12.39" fill="#c3a4d7"/>
<rect x="58.80" y="379.83" width="2.15" height="12.39" fill="#e0d0ea"/>
<rect x="58.80" y="392.12" width="2.15" height="12.39" fill="#f9f9f8"/>
<rect x="58.80" y="404.42" width="2.15" height="12.39" fill="#f6f3f6"/>
<rect x="58.80" y="416.71" width="2.15" height="12.39" fill="#caafdc"/>
<rect x="60.80" y="281.50" width="3.15" height="12.39" fill="#b996d0"/>
<rect x="60.80" y="293.79" width="3.15" height="12.39" fill="#ba97d0"/>
<rect x="60.80" y="306.08" width="3.15" height="12.39" fill="#e2d3eb"/>
<rect x="60.80" y="318.38" width="3.15" height="12.39" fill="#6f3485"/>
<rect x="60.80" y="330.67" width="3.15" height="12.39" fill="#bb99d1"/>
<rect x="60.80" y="342.96" width="3.15" height="12.39" fill="#cbb1dd"/>
<rect x="60.80" y="355.25" width="3.15" height="12.39" fill="#b895d0"/>
<rect x="60.80" y="367.54" width="3.15" height="12.39" fill="#8f5faa"/>
<rect x="60.80" y="379.83" width="3.15" height="12.39" fill="#ba97d0"/>
<rect x="60.80" y="392.12" width="3.15" height="12.39" fill="#ddcce8"/>
<rect x="60.80" y="404.42" width="3.15" height="12.39" fill="#d5bfe3"/>
<rect x="60.80" y="416.71" width="3.15" height="12.39" fill="#bee3b4"/>
<rect x="63.80" y="281.50" width="2.15" height="12.39" fill="#ceb5df"/>
<rect x="63.80" y="293.79" width="2.15" height="12.39" fill="#dbc8e7"/>
<rect x="63.80" y="306.08" width="2.15" height="12.39" fill="#f7f5f7"/>
<rect x="63.80" y="318.38" width="2.15" height="12.39" fill="#aa83c3"/>
<rect x="63.80" y="330.67" width="2.15" height="12.39" fill="#d3bbe2"/>
<rect x="63.80" y="342.96" width="2.15" height="12.39" fill="#d1b8e0"/>
<rect x="63.80" y="355.25" width="2.15" height="12.39" fill="#bb99d1"/>
<rect x="63.80" y="367.54" width="2.15" height="12.39" fill="#bc9ad2"/>
<rect x="63.80" y="379.83" width="2.15" height="12.39" fill="#ebe1f1"/>
<rect x="63.80" y="392.12" width="2.15" height="12.39" fill="#eff7eb"/>
<rect x="63.80" y="404.42" width="2.15" height="12.39" fill="#c6a9d9"/>
<rect x="63.80" y="416.71" width="2.15" height="12.39" fill="#d9c4e6"/>
<rect x="65.80" y="281.50" width="1.65" height="12.39" fill="#cbb0dc"/>
<rect x="65.80" y="293.79" width="1.65" height="12.39" fill="#d9c4e6"/>
<rect x="65.80" y="306.08" width="1.65" height="12.39" fill="#ad86c5"/>
<rect x="65.80" y="318.38" width="1.65" height="12.39" fill="#d6c0e4"/>
<rect x="65.80" y="330.67" width="1.65" height="12.39" fill="#c7abda"/>
<rect x="65.80" y="342.96" width="1.65" height="12.39" fill="#c8abda"/>
<rect x="65.80" y="355.25" width="1.65" height="12.39" fill="#b38fcb"/>
<rect x="65.80" y="367.54" width="1.65" height="12.39" fill="#a57cbe"/>
<rect x="65.80" y="379.83" width="1.65" height="12.39" fill="#ddcbe8"/>
<rect x="65.80" y="392.12" width="1.65" height="12.39" fill="#edf6e9"/>
<rect x="65.80" y="404.42" width="1.65" height="12.39" fill="#c7aad9"/>
<rect x="65.80" y="416.71" width="1.65" height="12.39" fill="#ccb2dd"/>
<rect x="67.30" y="281.50" width="2.15" height="12.39" fill="#be9ed4"/>
<rect x="67.30" y="293.79" width="2.15" height="12.39" fill="#decde9"/>
<rect x="67.30" y="306.08" width="2.15" height="12.39" fill="#b591cd"/>
<rect x="67.30" y="318.38" width="2.15" height="12.39" fill="#c7aada"/>
<rect x="67.30" y="330.67" width="2.15" height="12.39" fill="#d8c2e5"/>
<rect x="67.30" y="342.96" width="2.15" height="12.39" fill="#c9addb"/>
<rect x="67.30" y="355.25" width="2.15" height="12.39" fill="#b591cc"/>
<rect x="67.30" y="367.54" width="2.15" height="12.39" fill="#c5a8d9"/>
<rect x="67.30" y="379.83" width="2.15" height="12.39" fill="#e2d3eb"/>
<rect x="67.30" y="392.12" width="2.15" height="12.39" fill="#c1a2d6"/>
<rect x="67.30" y="404.42" width="2.15" height="12.39" fill="#b794ce"/>
<rect x="67.30" y="416.71" width="2.15" height="12.39" fill="#b490cc"/>
<rect x="69.30" y="281.50" width="2.15" height="12.39" fill="#c1a2d6"/>
<rect x="69.30" y="293.79" width="2.15" height="12.39" fill="#d9c5e6"/>
<rect x="69.30" y="306.08" width="2.15" height="12.39" fill="#a076ba"/>
<rect x="69.30" y="318.38" width="2.15" height="12.39" fill="#8856a2"/>
<rect x="69.30" y="330.67" width="2.15" height="12.39" fill="#c1a2d6"/>
<rect x="69.30" y="342.96" width="2.15" height="12.39" fill="#c3a4d7"/>
<rect x="69.30" y="355.25" width="2.15" height="12.39" fill="#b28dca"/>
<rect x="69.30" y="367.54" width="2.15" height="12.39" fill="#a77fc0"/>
<rect x="69.30" y="379.83" width="2.15" height="12.39" fill="#85529e"/>
<rect x="69.30" y="392.12" width="2.15" height="12.39" fill="#bc9ad2"/>
<rect x="69.30" y="404.42" width="2.15" height="12.39" fill="#ede4f2"/>
<rect x="69.30" y="416.71" width="2.15" height="12.39" fill="#986cb4"/>
<rect x="71.30" y="281.50" width="1.65" height="12.39" fill="#edf6e8"/>
<rect x="71.30" y="293.79" width="1.65" height="12.39" fill="#e2d3eb"/>
<rect x="71.30" y="306.08" width="1.65" height="12.39" fill="#c3a4d7"/>
<rect x="71.30" y="318.38" width="1.65" height="12.39" fill="#b08bc9"/>
<rect x="71.30" y="330.67" width="1.65" height="12.39" fill="#d4bde3"/>
<rect x="71.30" y="342.96" width="1.65" height="12.39" fill="#c5a8d9"/>
<rect x="71.30" y="355.25" width="1.65" height="12.39" fill="#dac6e6"/>
<rect x="71.30" y="367.54" width="1.65" height="12.39" fill="#b38ecb"/>
<rect x="71.30" y="379.83" width="1.65" height="12.39" fill="#c3a4d7"/>
<rect x="71.30" y="392.12" width="1.65" height="12.39" fill="#decce9"/>
<rect x="71.30" y="404.42" width="1.65" height="12.39" fill="#d3bbe2"/>
<rect x="71.30" y="416.71" width="1.65" height="12.39" fill="#e0cfea"/>
<rect x="72.80" y="281.50" width="3.15" height="12.39" fill="#b38fcb"/>
<rect x="72.80" y="293.79" width="3.15" height="12.39" fill="#ba97d1"/>
<rect x="72.80" y="306.08" width="3.15" height="12.39" fill="#c8acda"/>
<rect x="72.80" y="318.38" width="3.15" height="12.39" fill="#cfb5df"/>
<rect x="72.80" y="330.67" width="3.15" height="12.39" fill="#c9acdb"/>
<rect x="72.80" y="342.96" width="3.15" height="12.39" fill="#cbb0dd"/>
<rect x="72.80" y="355.25" width="3.15" height="12.39" fill="#ba98d1"/>
<rect x="72.80" y="367.54" width="3.15" height="12.39" fill="#d2bae1"/>
<rect x="72.80" y="379.83" width="3.15" height="12.39" fill="#d1ecc8"/>
<rect x="72.80" y="392.12" width="3.15" height="12.39" fill="#e0cfea"/>
<rect x="72.80" y="404.42" width="3.15" height="12.39" fill="#e9f5e3"/>
<rect x="72.80" y="416.71" width="3.15" height="12.39" fill="#e1f2db"/>
<rect x="75.80" y="281.50" width="1.35" height="12.39" fill="#d7c1e5"/>
<rect x="75.80" y="293.79" width="1.35" height="12.39" fill="#f9f8f7"/>
<rect x="75.80" y="306.08" width="1.35" height="12.39" fill="#f3edf4"/>
<rect x="75.80" y="318.38" width="1.35" height="12.39" fill="#e4d6ec"/>
<rect x="75.80" y="330.67" width="1.35" height="12.39" fill="#cbb0dc"/>
<rect x="75.80" y="342.96" width="1.35" height="12.39" fill="#d2bae1"/>
<rect x="75.80" y="355.25" width="1.35" height="12.39" fill="#c1a1d5"/>
<rect x="75.80" y="367.54" width="1.35" height="12.39" fill="#8d5da8"/>
<rect x="75.80" y="379.83" width="1.35" height="12.39" fill="#f6f4f6"/>
<rect x="75.80" y="392.12" width="1.35" height="12.39" fill="#e5d7ed"/>
<rect x="75.80" y="404.42" width="1.35" height="12.39" fill="#f4f8f1"/>
<rect x="75.80" y="416.71" width="1.35" height="12.39" fill="#dac6e6"/>
<rect x="77.00" y="281.50" width="1.35" height="12.39" fill="#d1b9e1"/>
<rect x="77.00" y="293.79" width="1.35" height="12.39" fill="#ad86c6"/>
<rect x="77.00" y="306.08" width="1.35" height="12.39" fill="#ddcbe8"/>
<rect x="77.00" y="318.38" width="1.35" height="12.39" fill="#c7abda"/>
<rect x="77.00" y="330.67" width="1.35" height="12.39" fill="#d5bfe4"/>
<rect x="77.00" y="342.96" width="1.35" height="12.39" fill="#b996d0"/>
<rect x="77.00" y="355.25" width="1.35" height="12.39" fill="#bc9ad2"/>
<rect x="77.00" y="367.54" width="1.35" height="12.39" fill="#a982c2"/>
<rect x="77.00" y="379.83" width="1.35" height="12.39" fill="#b490cc"/>
<rect x="77.00" y="392.12" width="1.35" height="12.39" fill="#d4bde3"/>
<rect x="77.00" y="404.42" width="1.35" height="12.39" fill="#af89c8"/>
<rect x="77.00" y="416.71" width="1.35" height="12.39" fill="#b591cd"/>
<rect x="78.20" y="281.50" width="1.65" height="12.39" fill="#c7aada"/>
<rect x="78.20" y="293.79" width="1.65" height="12.39" fill="#f0e9f3"/>
<rect x="78.20" y="306.08" width="1.65" height="12.39" fill="#e1d1eb"/>
<rect x="78.20" y="318.38" width="1.65" height="12.39" fill="#c2a3d6"/>
<rect x="78.20" y="330.67" width="1.65" height="12.39" fill="#cdb4de"/>
<rect x="78.20" y="342.96" width="1.65" height="12.39" fill="#d2bae1"/>
<rect x="78.20" y="355.25" width="1.65" height="12.39" fill="#af8ac8"/>
<rect x="78.20" y="367.54" width="1.65" height="12.39" fill="#caaedb"/>
<rect x="78.20" y="379.83" width="1.65" height="12.39" fill="#e4d6ec"/>
<rect x="78.20" y="392.12" width="1.65" height="12.39" fill="#ece3f1"/>
<rect x="78.20" y="404.42" width="1.65" height="12.39" fill="#c3a4d7"/>
<rect x="78.20" y="416.71" width="1.65" height="12.39" fill="#be9dd4"/>
<rect x="79.70" y="281.50" width="2.15" height="12.39" fill="#d5bfe3"/>
<rect x="79.70" y="293.79" width="2.15" height="12.39" fill="#c0e4b6"/>
<rect x="79.70" y="306.08" width="2.15" height="12.39" fill="#d0b8e0"/>
<rect x="79.70" y="318.38" width="2.15" height="12.39" fill="#d1b9e1"/>
<rect x="79.70" y="330.67" width="2.15" height="12.39" fill="#d1b9e1"/>
<rect x="79.70" y="342.96" width="2.15" height="12.39" fill="#d8c2e5"/>
<rect x="79.70" y="355.25" width="2.15" height="12.39" fill="#d6c0e4"/>
<rect x="79.70" y="367.54" width="2.15" height="12.39" fill="#e3d4ec"/>
<rect x="79.70" y="379.83" width="2.15" height="12.39" fill="#fafaf8"/>
<rect x="79.70" y="392.12" width="2.15" height="12.39" fill="#bde2b3"/>
<rect x="79.70" y="404.42" width="2.15" height="12.39" fill="#ccb2dd"/>
<rect x="79.70" y="416.71" width="2.15" height="12.39" fill="#dcc9e7"/>
<rect x="81.70" y="281.50" width="2.15" height="12.39" fill="#c3a4d7"/>
<rect x="81.70" y="293.79" width="2.15" height="12.39" fill="#b08bc9"/>
<rect x="81.70" y="306.08" width="2.15" height="12.39" fill="#a379bd"/>
<rect x="81.70" y="318.38" width="2.15" height="12.39" fill="#af8ac8"/>
<rect x="81.70" y="330.67" width="2.15" height="12.39" fill="#c8acdb"/>
<rect x="81.70" y="342.96" width="2.15" height="12.39" fill="#c4a6d8"/>
<rect x="81.70" y="355.25" width="2.15" height="12.39" fill="#cfb5df"/>
<rect x="81.70" y="367.54" width="2.15" height="12.39" fill="#c9aedb"/>
<rect x="81.70" y="379.83" width="2.15" height="12.39" fill="#b895d0"/>
<rect x="81.70" y="392.12" width="2.15" height="12.39" fill="#e2d2eb"/>
<rect x="81.70" y="404.42" width="2.15" height="12.39" fill="#c8acdb"/>
<rect x="81.70" y="416.71" width="2.15" height="12.39" fill="#d5edcd"/>
<rect x="83.70" y="281.50" width="1.35" height="12.39" fill="#c4a7d8"/>
<rect x="83.70" y="293.79" width="1.35" height="12.39" fill="#d0b7e0"/>
<rect x="83.70" y="306.08" width="1.35" height="12.39" fill="#ece2f1"/>
<rect x="83.70" y="318.38" width="1.35" height="12.39" fill="#e0cfea"/>
<rect x="83.70" y="330.67" width="1.35" height="12.39" fill="#d3bbe2"/>
<rect x="83.70" y="342.96" width="1.35" height="12.39" fill="#d9c5e6"/>
<rect x="83.70" y="355.25" width="1.35" height="12.39" fill="#d0b7e0"/>
<rect x="83.70" y="367.54" width="1.35" height="12.39" fill="#b28dca"/>
<rect x="83.70" y="379.83" width="1.35" height="12.39" fill="#f2edf4"/>
<rect x="83.70" y="392.12" width="1.35" height="12.39" fill="#e4d6ec"/>
<rect x="83.70" y="404.42" width="1.35" height="12.39" fill="#e1d0ea"/>
<rect x="83.70" y="416.71" width="1.35" height="12.39" fill="#e1f2da"/>
<rect x="84.90" y="281.50" width="1.65" height="12.39" fill="#c7abda"/>
<rect x="84.90" y="293.79" width="1.65" height="12.39" fill="#e4f3dd"/>
<rect x="84.90" y="306.08" width="1.65" height="12.39" fill="#cbb0dd"/>
<rect x="84.90" y="318.38" width="1.65" height="12.39" fill="#b591cd"/>
<rect x="84.90" y="330.67" width="1.65" height="12.39" fill="#d2bae1"/>
<rect x="84.90" y="342.96" width="1.65" height="12.39" fill="#c9aedb"/>
<rect x="84.90" y="355.25" width="1.65" height="12.39" fill="#cfb5df"/>
<rect x="84.90" y="367.54" width="1.65" height="12.39" fill="#9364ae"/>
<rect x="84.90" y="379.83" width="1.65" height="12.39" fill="#ebe0f0"/>
<rect x="84.90" y="392.12" width="1.65" height="12.39" fill="#ceebc5"/>
<rect x="84.90" y="404.42" width="1.65" height="12.39" fill="#cbb0dc"/>
<rect x="84.90" y="416.71" width="1.65" height="12.39" fill="#f1f7ed"/>
<rect x="86.40" y="281.50" width="3.15" height="12.39" fill="#d0b7e0"/>
<rect x="86.40" y="293.79" width="3.15" height="12.39" fill="#c3a5d7"/>
<rect x="86.40" y="306.08" width="3.15" height="12.39" fill="#8f60aa"/>
<rect x="86.40" y="318.38" width="3.15" height="12.39" fill="#ac85c5"/>
<rect x="86.40" y="330.67" width="3.15" height="12.39" fill="#e6d8ed"/>
<rect x="86.40" y="342.96" width="3.15" height="12.39" fill="#cbb0dc"/>
<rect x="86.40" y="355.25" width="3.15" height="12.39" fill="#e5d7ed"/>
<rect x="86.40" y="367.54" width="3.15" height="12.39" fill="#7f4998"/>
<rect x="86.40" y="379.83" width="3.15" height="12.39" fill="#eee6f2"/>
<rect x="86.40" y="392.12" width="3.15" height="12.39" fill="#d0b7e0"/>
<rect x="86.40" y="404.42" width="3.15" height="12.39" fill="#f5f2f6"/>
<rect x="86.40" y="416.71" width="3.15" height="12.39" fill="#a4d59a"/>
<rect x="89.40" y="281.50" width="3.15" height="12.39" fill="#e1d1ea"/>
<rect x="89.40" y="293.79" width="3.15" height="12.39" fill="#e4f3de"/>
<rect x="89.40" y="306.08" width="3.15" height="12.39" fill="#edf6e8"/>
<rect x="89.40" y="318.38" width="3.15" height="12.39" fill="#b996d0"/>
<rect x="89.40" y="330.67" width="3.15" height="12.39" fill="#cdb3de"/>
<rect x="89.40" y="342.96" width="3.15" height="12.39" fill="#cdb4de"/>
<rect x="89.40" y="355.25" width="3.15" height="12.39" fill="#dbc8e7"/>
<rect x="89.40" y="367.54" width="3.15" height="12.39" fill="#d6bfe4"/>
<rect x="89.40" y="379.83" width="3.15" height="12.39" fill="#f9f8f7"/>
<rect x="89.40" y="392.12" width="3.15" height="12.39" fill="#f9f8f7"/>
<rect x="89.40" y="404.42" width="3.15" height="12.39" fill="#d4bde3"/>
<rect x="89.40" y="416.71" width="3.15" height="12.39" fill="#f1f7ed"/>
<rect x="92.40" y="281.50" width="1.65" height="12.39" fill="#e5d7ed"/>
<rect x="92.40" y="293.79" width="1.65" height="12.39" fill="#cbe9c1"/>
<rect x="92.40" y="306.08" width="1.65" height="12.39" fill="#c2a3d6"/>
<rect x="92.40" y="318.38" width="1.65" height="12.39" fill="#e6d9ee"/>
<rect x="92.40" y="330.67" width="1.65" height="12.39" fill="#ceb4de"/>
<rect x="92.40" y="342.96" width="1.65" height="12.39" fill="#d3bbe2"/>
<rect x="92.40" y="355.25" width="1.65" height="12.39" fill="#d3bce2"/>
<rect x="92.40" y="367.54" width="1.65" height="12.39" fill="#d9c5e6"/>
<rect x="92.40" y="379.83" width="1.65" height="12.39" fill="#e2d3eb"/>
<rect x="92.40" y="392.12" width="1.65" height="12.39" fill="#eae0f0"/>
<rect x="92.40" y="404.42" width="1.65" height="12.39" fill="#e4d6ed"/>
<rect x="92.40" y="416.71" width="1.65" height="12.39" fill="#c3a4d7"/>
<rect x="93.90" y="281.50" width="1.65" height="12.39" fill="#c6a9d9"/>
<rect x="93.90" y="293.79" width="1.65" height="12.39" fill="#b28dca"/>
<rect x="93.90" y="306.08" width="1.65" height="12.39" fill="#ddcae8"/>
<rect x="93.90" y="318.38" width="1.65" height="12.39" fill="#9a6eb5"/>
<rect x="93.90" y="330.67" width="1.65" height="12.39" fill="#cdb3de"/>
<rect x="93.90" y="342.96" width="1.65" height="12.39" fill="#d0b8e0"/>
<rect x="93.90" y="355.25" width="1.65" height="12.39" fill="#d2bbe1"/>
<rect x="93.90" y="367.54" width="1.65" height="12.39" fill="#ddcae8"/>
<rect x="93.90" y="379.83" width="1.65" height="12.39" fill="#dfcde9"/>
<rect x="93.90" y="392.12" width="1.65" height="12.39" fill="#e1d0ea"/>
<rect x="93.90" y="404.42" width="1.65" height="12.39" fill="#f9f8f7"/>
<rect x="93.90" y="416.71" width="1.65" height="12.39" fill="#e5d7ed"/>
<rect x="95.40" y="281.50" width="2.65" height="12.39" fill="#e4d6ec"/>
<rect x="95.40" y="293.79" width="2.65" height="12.39" fill="#e9deef"/>
<rect x="95.40" y="306.08" width="2.65" height="12.39" fill="#efe6f2"/>
<rect x="95.40" y="318.38" width="2.65" height="12.39" fill="#decde9"/>
<rect x="95.40" y="330.67" width="2.65" height="12.39" fill="#cdb3de"/>
<rect x="95.40" y="342.96" width="2.65" height="12.39" fill="#c6a9d9"/>
<rect x="95.40" y="355.25" width="2.65" height="12.39" fill="#efe7f2"/>
<rect x="95.40" y="367.54" width="2.65" height="12.39" fill="#f4f0f5"/>
<rect x="95.40" y="379.83" width="2.65" height="12.39" fill="#c8acda"/>
<rect x="95.40" y="392.12" width="2.65" height="12.39" fill="#d2bbe2"/>
<rect x="95.40" y="404.42" width="2.65" height="12.39" fill="#f0e8f3"/>
<rect x="95.40" y="416.71" width="2.65" height="12.39" fill="#ceb4de"/>
<rect x="97.90" y="281.50" width="1.35" height="12.39" fill="#e4f3de"/>
<rect x="97.90" y="293.79" width="1.35" height="12.39" fill="#eef6e9"/>
<rect x="97.90" y="306.08" width="1.35" height="12.39" fill="#d9c5e6"/>
<rect x="97.90" y="318.38" width="1.35" height="12.39" fill="#b591cd"/>
<rect x="97.90" y="330.67" width="1.35" height="12.39" fill="#ccb2dd"/>
<rect x="97.90" y="342.96" width="1.35" height="12.39" fill="#cfb6df"/>
<rect x="97.90" y="355.25" width="1.35" height="12.39" fill="#decde9"/>
<rect x="97.90" y="367.54" width="1.35" height="12.39" fill="#dac6e6"/>
<rect x="97.90" y="379.83" width="1.35" height="12.39" fill="#d2bae1"/>
<rect x="97.90" y="392.12" width="1.35" height="12.39" fill="#b7dfad"/>
<rect x="97.90" y="404.42" width="1.35" height="12.39" fill="#f7f4f6"/>
<rect x="97.90" y="416.71" width="1.35" height="12.39" fill="#bee3b4"/>
<rect x="99.10" y="281.50" width="2.15" height="12.39" fill="#dbc7e7"/>
<rect x="99.10" y="293.79" width="2.15" height="12.39" fill="#c9addb"/>
<rect x="99.10" y="306.08" width="2.15" height="12.39" fill="#c6a8d9"/>
<rect x="99.10" y="318.38" width="2.15" height="12.39" fill="#f3f8f0"/>
<rect x="99.10" y="330.67" width="2.15" height="12.39" fill="#d8c4e5"/>
<rect x="99.10" y="342.96" width="2.15" height="12.39" fill="#d1b9e1"/>
<rect x="99.10" y="355.25" width="2.15" height="12.39" fill="#b591cd"/>
<rect x="99.10" y="367.54" width="2.15" height="12.39" fill="#a982c3"/>
<rect x="99.10" y="379.83" width="2.15" height="12.39" fill="#e8dbee"/>
<rect x="99.10" y="392.12" width="2.15" height="12.39" fill="#dcc9e7"/>
<rect x="99.10" y="404.42" width="2.15" height="12.39" fill="#cbb0dc"/>
<rect x="99.10" y="416.71" width="2.15" height="12.39" fill="#d2bbe1"/>
<rect x="101.10" y="281.50" width="2.65" height="12.39" fill="#c3a4d7"/>
<rect x="101.10" y="293.79" width="2.65" height="12.39" fill="#bfe3b5"/>
<rect x="101.10" y="306.08" width="2.65" height="12.39" fill="#cdb3de"/>
<rect x="101.10" y="318.38" width="2.65" height="12.39" fill="#ceb5df"/>
<rect x="101.10" y="330.67" width="2.65" height="12.39" fill="#d1b9e1"/>
<rect x="101.10" y="342.96" width="2.65" height="12.39" fill="#c2a3d6"/>
<rect x="101.10" y="355.25" width="2.65" height="12.39" fill="#cfb5df"/>
<rect x="101.10" y="367.54" width="2.65" height="12.39" fill="#b38fcb"/>
<rect x="101.10" y="379.83" width="2.65" height="12.39" fill="#b591cc"/>
<rect x="101.10" y="392.12" width="2.65" height="12.39" fill="#c8acda"/>
<rect x="101.10" y="404.42" width="2.65" height="12.39" fill="#d3bce2"/>
<rect x="101.10" y="416.71" width="2.65" height="12.39" fill="#d0ebc7"/>
<rect x="103.60" y="281.50" width="3.15" height="12.39" fill="#caaedc"/>
<rect x="103.60" y="293.79" width="3.15" height="12.39" fill="#9061ac"/>
<rect x="103.60" y="306.08" width="3.15" height="12.39" fill="#bc9bd2"/>
<rect x="103.60" y="318.38" width="3.15" height="12.39" fill="#9365af"/>
<rect x="103.60" y="330.67" width="3.15" height="12.39" fill="#caaedc"/>
<rect x="103.60" y="342.96" width="3.15" height="12.39" fill="#caafdc"/>
<rect x="103.60" y="355.25" width="3.15" height="12.39" fill="#b895cf"/>
<rect x="103.60" y="367.54" width="3.15" height="12.39" fill="#e2d3eb"/>
<rect x="103.60" y="379.83" width="3.15" height="12.39" fill="#b894cf"/>
<rect x="103.60" y="392.12" width="3.15" height="12.39" fill="#e4f3de"/>
<rect x="103.60" y="404.42" width="3.15" height="12.39" fill="#b591cd"/>
<rect x="103.60" y="416.71" width="3.15" height="12.39" fill="#bee3b4"/>
<rect x="106.60" y="281.50" width="2.15" height="12.39" fill="#e9ddef"/>
<rect x="106.60" y="293.79" width="2.15" height="12.39" fill="#d6c1e4"/>
<rect x="106.60" y="306.08" width="2.15" height="12.39" fill="#cfb6df"/>
<rect x="106.60" y="318.38" width="2.15" height="12.39" fill="#b08bc9"/>
<rect x="106.60" y="330.67" width="2.15" height="12.39" fill="#c8acdb"/>
<rect x="106.60" y="342.96" width="2.15" height="12.39" fill="#d3bbe2"/>
<rect x="106.60" y="355.25" width="2.15" height="12.39" fill="#dccae8"/>
<rect x="106.60" y="367.54" width="2.15" height="12.39" fill="#c5a7d8"/>
<rect x="106.60" y="379.83" width="2.15" height="12.39" fill="#d2bbe1"/>
<rect x="106.60" y="392.12" width="2.15" height="12.39" fill="#d5edcd"/>
<rect x="106.60" y="404.42" width="2.15" height="12.39" fill="#e4d6ec"/>
<rect x="106.60" y="416.71" width="2.15" height="12.39" fill="#e4f3dd"/>
<rect x="108.60" y="281.50" width="2.15" height="12.39" fill="#c09fd5"/>
<rect x="108.60" y="293.79" width="2.15" height="12.39" fill="#def1d6"/>
<rect x="108.60" y="306.08" width="2.15" height="12.39" fill="#def1d7"/>
<rect x="108.60" y="318.38" width="2.15" height="12.39" fill="#c3a4d7"/>
<rect x="108.60" y="330.67" width="2.15" height="12.39" fill="#d6c0e4"/>
<rect x="108.60" y="342.96" width="2.15" height="12.39" fill="#cdb3de"/>
<rect x="108.60" y="355.25" width="2.15" height="12.39" fill="#dff1d8"/>
<rect x="108.60" y="367.54" width="2.15" height="12.39" fill="#c9addb"/>
<rect x="108.60" y="379.83" width="2.15" height="12.39" fill="#dbc8e7"/>
<rect x="108.60" y="392.12" width="2.15" height="12.39" fill="#c9aedb"/>
<rect x="108.60" y="404.42" width="2.15" height="12.39" fill="#cdb3de"/>
<rect x="108.60" y="416.71" width="2.15" height="12.39" fill="#bee3b4"/>
<rect x="110.60" y="281.50" width="2.15" height="12.39" fill="#decde9"/>
<rect x="110.60" y="293.79" width="2.15" height="12.39" fill="#c9addb"/>
<rect x="110.60" y="306.08" width="2.15" height="12.39" fill="#c0a0d5"/>
<rect x="110.60" y="318.38" width="2.15" height="12.39" fill="#9061ac"/>
<rect x="110.60" y="330.67" width="2.15" height="12.39" fill="#c0a1d5"/>
<rect x="110.60" y="342.96" width="2.15" height="12.39" fill="#caaedb"/>
<rect x="110.60" y="355.25" width="2.15" height="12.39" fill="#d6c0e4"/>
<rect x="110.60" y="367.54" width="2.15" height="12.39" fill="#b18bc9"/>
<rect x="110.60" y="379.83" width="2.15" height="12.39" fill="#f7f4f6"/>
<rect x="110.60" y="392.12" width="2.15" height="12.39" fill="#ccb1dd"/>
<rect x="110.60" y="404.42" width="2.15" height="12.39" fill="#dfcee9"/>
<rect x="110.60" y="416.71" width="2.15" height="12.39" fill="#d0b8e0"/>
<rect x="112.60" y="281.50" width="1.35" height="12.39" fill="#d3bce2"/>
<rect x="112.60" y="293.79" width="1.35" height="12.39" fill="#f5f1f5"/>
<rect x="112.60" y="306.08" width="1.35" height="12.39" fill="#b693ce"/>
<rect x="112.60" y="318.38" width="1.35" height="12.39" fill="#b793ce"/>
<rect x="112.60" y="330.67" width="1.35" height="12.39" fill="#d1b9e0"/>
<rect x="112.60" y="342.96" width="1.35" height="12.39" fill="#ccb1dd"/>
<rect x="112.60" y="355.25" width="1.35" height="12.39" fill="#ceb4de"/>
<rect x="112.60" y="367.54" width="1.35" height="12.39" fill="#ad87c6"/>
<rect x="112.60" y="379.83" width="1.35" height="12.39" fill="#d0b7e0"/>
<rect x="112.60" y="392.12" width="1.35" height="12.39" fill="#f2ecf4"/>
<rect x="112.60" y="404.42" width="1.35" height="12.39" fill="#c3a5d7"/>
<rect x="112.60" y="416.71" width="1.35" height="12.39" fill="#bee3b4"/>
<rect x="113.80" y="281.50" width="1.65" height="12.39" fill="#e1d1ea"/>
<rect x="113.80" y="293.79" width="1.65" height="12.39" fill="#eff7eb"/>
<rect x="113.80" y="306.08" width="1.65" height="12.39" fill="#d4edcc"/>
<rect x="113.80" y="318.38" width="1.65" height="12.39" fill="#d4edcb"/>
<rect x="113.80" y="330.67" width="1.65" height="12.39" fill="#def1d7"/>
<rect x="113.80" y="342.96" width="1.65" height="12.39" fill="#bae0b0"/>
<rect x="113.80" y="355.25" width="1.65" height="12.39" fill="#f4f0f5"/>
<rect x="113.80" y="367.54" width="1.65" height="12.39" fill="#c3e6b9"/>
<rect x="113.80" y="379.83" width="1.65" height="12.39" fill="#ceeac5"/>
<rect x="113.80" y="392.12" width="1.65" height="12.39" fill="#fafaf8"/>
<rect x="113.80" y="404.42" width="1.65" height="12.39" fill="#f6f3f6"/>
<rect x="113.80" y="416.71" width="1.65" height="12.39" fill="#f5f9f2"/>
<rect x="115.30" y="281.50" width="2.15" height="12.39" fill="#ddf0d6"/>
<rect x="115.30" y="293.79" width="2.15" height="12.39" fill="#d4edcc"/>
<rect x="115.30" y="306.08" width="2.15" height="12.39" fill="#a4d59a"/>
<rect x="115.30" y="318.38" width="2.15" height="12.39" fill="#b0dba6"/>
<rect x="115.30" y="330.67" width="2.15" height="12.39" fill="#aedaa4"/>
<rect x="115.30" y="342.96" width="2.15" height="12.39" fill="#daefd2"/>
<rect x="115.30" y="355.25" width="2.15" height="12.39" fill="#c4e6ba"/>
<rect x="115.30" y="367.54" width="2.15" height="12.39" fill="#e2d2eb"/>
<rect x="115.30" y="379.83" width="2.15" height="12.39" fill="#e2f2db"/>
<rect x="115.30" y="392.12" width="2.15" height="12.39" fill="#aedaa4"/>
<rect x="115.30" y="404.42" width="2.15" height="12.39" fill="#e4f3de"/>
<rect x="115.30" y="416.71" width="2.15" height="12.39" fill="#ede3f1"/>
<rect x="117.30" y="281.50" width="2.15" height="12.39" fill="#e5f4df"/>
<rect x="117.30" y="293.79" width="2.15" height="12.39" fill="#e1f2db"/>
<rect x="117.30" y="306.08" width="2.15" height="12.39" fill="#b8e0ae"/>
<rect x="117.30" y="318.38" width="2.15" height="12.39" fill="#f7f5f7"/>
<rect x="117.30" y="330.67" width="2.15" height="12.39" fill="#a3d499"/>
<rect x="117.30" y="342.96" width="2.15" height="12.39" fill="#ddf0d6"/>
<rect x="117.30" y="355.25" width="2.15" height="12.39" fill="#edf6e8"/>
<rect x="117.30" y="367.54" width="2.15" height="12.39" fill="#daefd2"/>
<rect x="117.30" y="379.83" width="2.15" height="12.39" fill="#e7daee"/>
<rect x="117.30" y="392.12" width="2.15" height="12.39" fill="#cce9c2"/>
<rect x="117.30" y="404.42" width="2.15" height="12.39" fill="#edf6e8"/>
<rect x="117.30" y="416.71" width="2.15" height="12.39" fill="#b2dca8"/>
<rect x="119.30" y="281.50" width="2.65" height="12.39" fill="#ede4f2"/>
<rect x="119.30" y="293.79" width="2.65" height="12.39" fill="#e9f5e3"/>
<rect x="119.30" y="306.08" width="2.65" height="12.39" fill="#bae1b0"/>
<rect x="119.30" y="318.38" width="2.65" height="12.39" fill="#f6f3f6"/>
<rect x="119.30" y="330.67" width="2.65" height="12.39" fill="#aad8a0"/>
<rect x="119.30" y="342.96" width="2.65" height="12.39" fill="#c8e8be"/>
<rect x="119.30" y="355.25" width="2.65" height="12.39" fill="#cce9c2"/>
<rect x="119.30" y="367.54" width="2.65" height="12.39" fill="#e1f2db"/>
<rect x="119.30" y="379.83" width="2.65" height="12.39" fill="#8bc783"/>
<rect x="119.30" y="392.12" width="2.65" height="12.39" fill="#d0ebc7"/>
<rect x="119.30" y="404.42" width="2.65" height="12.39" fill="#def1d7"/>
<rect x="119.30" y="416.71" width="2.65" height="12.39" fill="#d6c0e4"/>
<rect x="121.80" y="281.50" width="1.35" height="12.39" fill="#c3e5b9"/>
<rect x="121.80" y="293.79" width="1.35" height="12.39" fill="#cdeac4"/>
<rect x="121.80" y="306.08" width="1.35" height="12.39" fill="#9acf90"/>
<rect x="121.80" y="318.38" width="1.35" height="12.39" fill="#e8f5e2"/>
<rect x="121.80" y="330.67" width="1.35" height="12.39" fill="#e6f4e0"/>
<rect x="121.80" y="342.96" width="1.35" height="12.39" fill="#b7dfad"/>
<rect x="121.80" y="355.25" width="1.35" height="12.39" fill="#b2dca8"/>
<rect x="121.80" y="367.54" width="1.35" height="12.39" fill="#efe8f3"/>
<rect x="121.80" y="379.83" width="1.35" height="12.39" fill="#97ce8d"/>
<rect x="121.80" y="392.12" width="1.35" height="12.39" fill="#c8e8be"/>
<rect x="121.80" y="404.42" width="1.35" height="12.39" fill="#efe7f2"/>
<rect x="121.80" y="416.71" width="1.35" height="12.39" fill="#b7dfad"/>
<rect x="123.00" y="281.50" width="2.65" height="12.39" fill="#d3eccb"/>
<rect x="123.00" y="293.79" width="2.65" height="12.39" fill="#cceac2"/>
<rect x="123.00" y="306.08" width="2.65" height="12.39" fill="#d7eecf"/>
<rect x="123.00" y="318.38" width="2.65" height="12.39" fill="#d9efd1"/>
<rect x="123.00" y="330.67" width="2.65" height="12.39" fill="#d9efd1"/>
<rect x="123.00" y="342.96" width="2.65" height="12.39" fill="#c1e4b7"/>
<rect x="123.00" y="355.25" width="2.65" height="12.39" fill="#f9f8f7"/>
<rect x="123.00" y="367.54" width="2.65" height="12.39" fill="#edf6e8"/>
<rect x="123.00" y="379.83" width="2.65" height="12.39" fill="#bce2b2"/>
<rect x="123.00" y="392.12" width="2.65" height="12.39" fill="#e5f4df"/>
<rect x="123.00" y="404.42" width="2.65" height="12.39" fill="#daefd2"/>
<rect x="123.00" y="416.71" width="2.65" height="12.39" fill="#c6a8d9"/>
<rect x="125.50" y="281.50" width="1.65" height="12.39" fill="#e1f2db"/>
<rect x="125.50" y="293.79" width="1.65" height="12.39" fill="#eee5f2"/>
<rect x="125.50" y="306.08" width="1.65" height="12.39" fill="#aedaa4"/>
<rect x="125.50" y="318.38" width="1.65" height="12.39" fill="#d0ebc7"/>
<rect x="125.50" y="330.67" width="1.65" height="12.39" fill="#f0f7ec"/>
<rect x="125.50" y="342.96" width="1.65" height="12.39" fill="#aad8a0"/>
<rect x="125.50" y="355.25" width="1.65" height="12.39" fill="#f4f0f5"/>
<rect x="125.50" y="367.54" width="1.65" height="12.39" fill="#e7f4e1"/>
<rect x="125.50" y="379.83" width="1.65" height="12.39" fill="#b8dfae"/>
<rect x="125.50" y="392.12" width="1.65" height="12.39" fill="#e7dbee"/>
<rect x="125.50" y="404.42" width="1.65" height="12.39" fill="#f4f8f0"/>
<rect x="125.50" y="416.71" width="1.65" height="12.39" fill="#d6c0e4"/>
<rect x="127.00" y="281.50" width="1.35" height="12.39" fill="#c1e4b7"/>
<rect x="127.00" y="293.79" width="1.35" height="12.39" fill="#d0ebc7"/>
<rect x="127.00" y="306.08" width="1.35" height="12.39" fill="#a7d69d"/>
<rect x="127.00" y="318.38" width="1.35" height="12.39" fill="#b6deac"/>
<rect x="127.00" y="330.67" width="1.35" height="12.39" fill="#b4ddaa"/>
<rect x="127.00" y="342.96" width="1.35" height="12.39" fill="#d7eecf"/>
<rect x="127.00" y="355.25" width="1.35" height="12.39" fill="#fafaf8"/>
<rect x="127.00" y="367.54" width="1.35" height="12.39" fill="#efe7f3"/>
<rect x="127.00" y="379.83" width="1.35" height="12.39" fill="#def1d7"/>
<rect x="127.00" y="392.12" width="1.35" height="12.39" fill="#dbf0d4"/>
<rect x="127.00" y="404.42" width="1.35" height="12.39" fill="#efe7f3"/>
<rect x="127.00" y="416.71" width="1.35" height="12.39" fill="#d6c0e4"/>
<rect x="128.20" y="281.50" width="1.65" height="12.39" fill="#c5e6bb"/>
<rect x="128.20" y="293.79" width="1.65" height="12.39" fill="#ddf0d5"/>
<rect x="128.20" y="306.08" width="1.65" height="12.39" fill="#f9faf6"/>
<rect x="128.20" y="318.38" width="1.65" height="12.39" fill="#d3ecca"/>
<rect x="128.20" y="330.67" width="1.65" height="12.39" fill="#bde2b3"/>
<rect x="128.20" y="342.96" width="1.65" height="12.39" fill="#d1ecc8"/>
<rect x="128.20" y="355.25" width="1.65" height="12.39" fill="#f3f8f0"/>
<rect x="128.20" y="367.54" width="1.65" height="12.39" fill="#eaf5e5"/>
<rect x="128.20" y="379.83" width="1.65" height="12.39" fill="#96cd8c"/>
<rect x="128.20" y="392.12" width="1.65" height="12.39" fill="#f3eff5"/>
<rect x="128.20" y="404.42" width="1.65" height="12.39" fill="#bbe1b1"/>
<rect x="128.20" y="416.71" width="1.65" height="12.39" fill="#d6c0e4"/>
<rect x="129.70" y="281.50" width="2.65" height="12.39" fill="#bfe3b5"/>
<rect x="129.70" y="293.79" width="2.65" height="12.39" fill="#a2d398"/>
<rect x="129.70" y="306.08" width="2.65" height="12.39" fill="#8ac682"/>
<rect x="129.70" y="318.38" width="2.65" height="12.39" fill="#dff1d8"/>
<rect x="129.70" y="330.67" width="2.65" height="12.39" fill="#94cc8a"/>
<rect x="129.70" y="342.96" width="2.65" height="12.39" fill="#6db46b"/>
<rect x="129.70" y="355.25" width="2.65" height="12.39" fill="#e2f2db"/>
<rect x="129.70" y="367.54" width="2.65" height="12.39" fill="#dcf0d5"/>
<rect x="129.70" y="379.83" width="2.65" height="12.39" fill="#f3f8ef"/>
<rect x="129.70" y="392.12" width="2.65" height="12.39" fill="#98ce8e"/>
<rect x="129.70" y="404.42" width="2.65" height="12.39" fill="#aedaa4"/>
<rect x="129.70" y="416.71" width="2.65" height="12.39" fill="#d3ecca"/>
<rect x="132.20" y="281.50" width="3.15" height="12.39" fill="#e6f4e0"/>
<rect x="132.20" y="293.79" width="3.15" height="12.39" fill="#f7f4f6"/>
<rect x="132.20" y="306.08" width="3.15" height="12.39" fill="#bae0b0"/>
<rect x="132.20" y="318.38" width="3.15" height="12.39" fill="#d0ebc7"/>
<rect x="132.20" y="330.67" width="3.15" height="12.39" fill="#f5f8f2"/>
<rect x="132.20" y="342.96" width="3.15" height="12.39" fill="#aad8a0"/>
<rect x="132.20" y="355.25" width="3.15" height="12.39" fill="#ede3f1"/>
<rect x="132.20" y="367.54" width="3.15" height="12.39" fill="#d4edcb"/>
<rect x="132.20" y="379.83" width="3.15" height="12.39" fill="#cfb6df"/>
<rect x="132.20" y="392.12" width="3.15" height="12.39" fill="#def1d7"/>
<rect x="132.20" y="404.42" width="3.15" height="12.39" fill="#f4f8f0"/>
<rect x="132.20" y="416.71" width="3.15" height="12.39" fill="#eff7eb"/>
<rect x="135.20" y="281.50" width="1.35" height="12.39" fill="#dfcee9"/>
<rect x="135.20" y="293.79" width="1.35" height="12.39" fill="#e0d0ea"/>
<rect x="135.20" y="306.08" width="1.35" height="12.39" fill="#d2ecca"/>
<rect x="135.20" y="318.38" width="1.35" height="12.39" fill="#caafdc"/>
<rect x="135.20" y="330.67" width="1.35" height="12.39" fill="#ceebc5"/>
<rect x="135.20" y="342.96" width="1.35" height="12.39" fill="#e2d3eb"/>
<rect x="135.20" y="355.25" width="1.35" height="12.39" fill="#eee5f2"/>
<rect x="135.20" y="367.54" width="1.35" height="12.39" fill="#eadef0"/>
<rect x="135.20" y="379.83" width="1.35" height="12.39" fill="#c6e7bc"/>
<rect x="135.20" y="392.12" width="1.35" height="12.39" fill="#e4d6ed"/>
<rect x="135.20" y="404.42" width="1.35" height="12.39" fill="#e0d0ea"/>
<rect x="135.20" y="416.71" width="1.35" height="12.39" fill="#d6c0e4"/>
<rect x="136.40" y="281.50" width="1.35" height="12.39" fill="#ebe0f0"/>
<rect x="136.40" y="293.79" width="1.35" height="12.39" fill="#e4f3dd"/>
<rect x="136.40" y="306.08" width="1.35" height="12.39" fill="#f2f8ee"/>
<rect x="136.40" y="318.38" width="1.35" height="12.39" fill="#f2f8ee"/>
<rect x="136.40" y="330.67" width="1.35" height="12.39" fill="#f9f9f8"/>
<rect x="136.40" y="342.96" width="1.35" height="12.39" fill="#d1ebc8"/>
<rect x="136.40" y="355.25" width="1.35" height="12.39" fill="#e9ddef"/>
<rect x="136.40" y="367.54" width="1.35" height="12.39" fill="#dac7e7"/>
<rect x="136.40" y="379.83" width="1.35" height="12.39" fill="#e9deef"/>
<rect x="136.40" y="392.12" width="1.35" height="12.39" fill="#d9c4e6"/>
<rect x="136.40" y="404.42" width="1.35" height="12.39" fill="#e6f4e0"/>
<rect x="136.40" y="416.71" width="1.35" height="12.39" fill="#d5bee3"/>
<rect x="137.60" y="281.50" width="3.15" height="12.39" fill="#fafaf8"/>
<rect x="137.60" y="293.79" width="3.15" height="12.39" fill="#f8f7f7"/>
<rect x="137.60" y="306.08" width="3.15" height="12.39" fill="#eaf5e5"/>
<rect x="137.60" y="318.38" width="3.15" height="12.39" fill="#cbe9c2"/>
<rect x="137.60" y="330.67" width="3.15" height="12.39" fill="#ddf0d6"/>
<rect x="137.60" y="342.96" width="3.15" height="12.39" fill="#cae9c1"/>
<rect x="137.60" y="355.25" width="3.15" height="12.39" fill="#e8f4e2"/>
<rect x="137.60" y="367.54" width="3.15" height="12.39" fill="#d9efd1"/>
<rect x="137.60" y="379.83" width="3.15" height="12.39" fill="#bae0b0"/>
<rect x="137.60" y="392.12" width="3.15" height="12.39" fill="#8bc783"/>
<rect x="137.60" y="404.42" width="3.15" height="12.39" fill="#eaf5e4"/>
<rect x="137.60" y="416.71" width="3.15" height="12.39" fill="#b5deab"/>
<rect x="140.60" y="281.50" width="1.35" height="12.39" fill="#e6f4e0"/>
<rect x="140.60" y="293.79" width="1.35" height="12.39" fill="#c0e4b6"/>
<rect x="140.60" y="306.08" width="1.35" height="12.39" fill="#ede4f1"/>
<rect x="140.60" y="318.38" width="1.35" height="12.39" fill="#ecf6e7"/>
<rect x="140.60" y="330.67" width="1.35" height="12.39" fill="#d6eece"/>
<rect x="140.60" y="342.96" width="1.35" height="12.39" fill="#d7c1e4"/>
<rect x="140.60" y="355.25" width="1.35" height="12.39" fill="#f4f0f5"/>
<rect x="140.60" y="367.54" width="1.35" height="12.39" fill="#d2ecca"/>
<rect x="140.60" y="379.83" width="1.35" height="12.39" fill="#94cc8a"/>
<rect x="140.60" y="392.12" width="1.35" height="12.39" fill="#bfe3b5"/>
<rect x="140.60" y="404.42" width="1.35" height="12.39" fill="#c4e6ba"/>
<rect x="140.60" y="416.71" width="1.35" height="12.39" fill="#d6c0e4"/>
<rect x="141.80" y="281.50" width="2.15" height="12.39" fill="#eef6e9"/>
<rect x="141.80" y="293.79" width="2.15" height="12.39" fill="#def1d7"/>
<rect x="141.80" y="306.08" width="2.15" height="12.39" fill="#f2ecf4"/>
<rect x="141.80" y="318.38" width="2.15" height="12.39" fill="#f8f7f7"/>
<rect x="141.80" y="330.67" width="2.15" height="12.39" fill="#a9d79f"/>
<rect x="141.80" y="342.96" width="2.15" height="12.39" fill="#f4f8f0"/>
<rect x="141.80" y="355.25" width="2.15" height="12.39" fill="#ebf6e6"/>
<rect x="141.80" y="367.54" width="2.15" height="12.39" fill="#e4f3de"/>
<rect x="141.80" y="379.83" width="2.15" height="12.39" fill="#c1e4b7"/>
<rect x="141.80" y="392.12" width="2.15" height="12.39" fill="#d2ecc9"/>
<rect x="141.80" y="404.42" width="2.15" height="12.39" fill="#b5ddab"/>
<rect x="141.80" y="416.71" width="2.15" height="12.39" fill="#edf6e9"/>
<rect x="143.80" y="281.50" width="1.65" height="12.39" fill="#f3eef4"/>
<rect x="143.80" y="293.79" width="1.65" height="12.39" fill="#f4f8f1"/>
<rect x="143.80" y="306.08" width="1.65" height="12.39" fill="#f7f9f4"/>
<rect x="143.80" y="318.38" width="1.65" height="12.39" fill="#abd8a1"/>
<rect x="143.80" y="330.67" width="1.65" height="12.39" fill="#d3ecca"/>
<rect x="143.80" y="342.96" width="1.65" height="12.39" fill="#f0f7ed"/>
<rect x="143.80" y="355.25" width="1.65" height="12.39" fill="#c9e8bf"/>
<rect x="143.80" y="367.54" width="1.65" height="12.39" fill="#d5edcc"/>
<rect x="143.80" y="379.83" width="1.65" height="12.39" fill="#bde2b3"/>
<rect x="143.80" y="392.12" width="1.65" height="12.39" fill="#e8f5e2"/>
<rect x="143.80" y="404.42" width="1.65" height="12.39" fill="#d4bde3"/>
<rect x="143.80" y="416.71" width="1.65" height="12.39" fill="#d2bbe2"/>
<rect x="145.30" y="281.50" width="2.15" height="12.39" fill="#d2ecca"/>
<rect x="145.30" y="293.79" width="2.15" height="12.39" fill="#a0d296"/>
<rect x="145.30" y="306.08" width="2.15" height="12.39" fill="#d1ebc8"/>
<rect x="145.30" y="318.38" width="2.15" height="12.39" fill="#e5f4df"/>
<rect x="145.30" y="330.67" width="2.15" height="12.39" fill="#cfebc5"/>
<rect x="145.30" y="342.96" width="2.15" height="12.39" fill="#99ce8f"/>
<rect x="145.30" y="355.25" width="2.15" height="12.39" fill="#cdeac3"/>
<rect x="145.30" y="367.54" width="2.15" height="12.39" fill="#aad8a0"/>
<rect x="145.30" y="379.83" width="2.15" height="12.39" fill="#cae9c1"/>
<rect x="145.30" y="392.12" width="2.15" height="12.39" fill="#55a35b"/>
<rect x="145.30" y="404.42" width="2.15" height="12.39" fill="#fafaf7"/>
<rect x="145.30" y="416.71" width="2.15" height="12.39" fill="#d6c0e4"/>
<rect x="147.30" y="281.50" width="2.65" height="12.39" fill="#97ce8d"/>
<rect x="147.30" y="293.79" width="2.65" height="12.39" fill="#c2e5b8"/>
<rect x="147.30" y="306.08" width="2.65" height="12.39" fill="#c9e8bf"/>
<rect x="147.30" y="318.38" width="2.65" height="12.39" fill="#ecf6e7"/>
<rect x="147.30" y="330.67" width="2.65" height="12.39" fill="#f6f9f3"/>
<rect x="147.30" y="342.96" width="2.65" height="12.39" fill="#b2dca8"/>
<rect x="147.30" y="355.25" width="2.65" height="12.39" fill="#b2dca8"/>
<rect x="147.30" y="367.54" width="2.65" height="12.39" fill="#daefd2"/>
<rect x="147.30" y="379.83" width="2.65" height="12.39" fill="#98ce8e"/>
<rect x="147.30" y="392.12" width="2.65" height="12.39" fill="#88c481"/>
<rect x="147.30" y="404.42" width="2.65" height="12.39" fill="#e8f5e3"/>
<rect x="147.30" y="416.71" width="2.65" height="12.39" fill="#d2ecca"/>
<rect x="149.80" y="281.50" width="1.65" height="12.39" fill="#d1ebc8"/>
<rect x="149.80" y="293.79" width="1.65" height="12.39" fill="#f6f3f6"/>
<rect x="149.80" y="306.08" width="1.65" height="12.39" fill="#a9d79f"/>
<rect x="149.80" y="318.38" width="1.65" height="12.39" fill="#a9d79f"/>
<rect x="149.80" y="330.67" width="1.65" height="12.39" fill="#eaf5e4"/>
<rect x="149.80" y="342.96" width="1.65" height="12.39" fill="#c8e8be"/>
<rect x="149.80" y="355.25" width="1.65" height="12.39" fill="#d5edcd"/>
<rect x="149.80" y="367.54" width="1.65" height="12.39" fill="#d9c5e6"/>
<rect x="149.80" y="379.83" width="1.65" height="12.39" fill="#a1d397"/>
<rect x="149.80" y="392.12" width="1.65" height="12.39" fill="#7fbf79"/>
<rect x="149.80" y="404.42" width="1.65" height="12.39" fill="#f0e9f3"/>
<rect x="149.80" y="416.71" width="1.65" height="12.39" fill="#d6c0e4"/>
<rect x="151.30" y="281.50" width="2.15" height="12.39" fill="#fafaf7"/>
<rect x="151.30" y="293.79" width="2.15" height="12.39" fill="#bce1b2"/>
<rect x="151.30" y="306.08" width="2.15" height="12.39" fill="#a5d59b"/>
<rect x="151.30" y="318.38" width="2.15" height="12.39" fill="#faf9f8"/>
<rect x="151.30" y="330.67" width="2.15" height="12.39" fill="#f8f6f7"/>
<rect x="151.30" y="342.96" width="2.15" height="12.39" fill="#94cc8a"/>
<rect x="151.30" y="355.25" width="2.15" height="12.39" fill="#b7dfad"/>
<rect x="151.30" y="367.54" width="2.15" height="12.39" fill="#9fd295"/>
<rect x="151.30" y="379.83" width="2.15" height="12.39" fill="#bde2b3"/>
<rect x="151.30" y="392.12" width="2.15" height="12.39" fill="#c1e4b7"/>
<rect x="151.30" y="404.42" width="2.15" height="12.39" fill="#f7f5f6"/>
<rect x="151.30" y="416.71" width="2.15" height="12.39" fill="#d6c0e4"/>
<rect x="153.30" y="281.50" width="2.15" height="12.39" fill="#b8dfae"/>
<rect x="153.30" y="293.79" width="2.15" height="12.39" fill="#f0e9f3"/>
<rect x="153.30" y="306.08" width="2.15" height="12.39" fill="#82c17c"/>
<rect x="153.30" y="318.38" width="2.15" height="12.39" fill="#c3e5b9"/>
<rect x="153.30" y="330.67" width="2.15" height="12.39" fill="#a8d79e"/>
<rect x="153.30" y="342.96" width="2.15" height="12.39" fill="#daefd2"/>
<rect x="153.30" y="355.25" width="2.15" height="12.39" fill="#c1e4b7"/>
<rect x="153.30" y="367.54" width="2.15" height="12.39" fill="#b9e0af"/>
<rect x="153.30" y="379.83" width="2.15" height="12.39" fill="#87c480"/>
<rect x="153.30" y="392.12" width="2.15" height="12.39" fill="#93cb8a"/>
<rect x="153.30" y="404.42" width="2.15" height="12.39" fill="#f6f9f3"/>
<rect x="153.30" y="416.71" width="2.15" height="12.39" fill="#d8eed0"/>
<rect x="155.30" y="281.50" width="1.65" height="12.39" fill="#f1f7ed"/>
<rect x="155.30" y="293.79" width="1.65" height="12.39" fill="#f8f9f6"/>
<rect x="155.30" y="306.08" width="1.65" height="12.39" fill="#ebf5e6"/>
<rect x="155.30" y="318.38" width="1.65" height="12.39" fill="#f2f8ee"/>
<rect x="155.30" y="330.67" width="1.65" height="12.39" fill="#add9a3"/>
<rect x="155.30" y="342.96" width="1.65" height="12.39" fill="#e4f3de"/>
<rect x="155.30" y="355.25" width="1.65" height="12.39" fill="#e0cfea"/>
<rect x="155.30" y="367.54" width="1.65" height="12.39" fill="#f2edf4"/>
<rect x="155.30" y="379.83" width="1.65" height="12.39" fill="#f8f7f7"/>
<rect x="155.30" y="392.12" width="1.65" height="12.39" fill="#e9f5e4"/>
<rect x="155.30" y="404.42" width="1.65" height="12.39" fill="#d4edcc"/>
<rect x="155.30" y="416.71" width="1.65" height="12.39" fill="#e0cfea"/>
<rect x="156.80" y="281.50" width="1.65" height="12.39" fill="#ecf6e7"/>
<rect x="156.80" y="293.79" width="1.65" height="12.39" fill="#f3eef4"/>
<rect x="156.80" y="306.08" width="1.65" height="12.39" fill="#99ce8f"/>
<rect x="156.80" y="318.38" width="1.65" height="12.39" fill="#efe7f2"/>
<rect x="156.80" y="330.67" width="1.65" height="12.39" fill="#bbe1b1"/>
<rect x="156.80" y="342.96" width="1.65" height="12.39" fill="#f4f0f5"/>
<rect x="156.80" y="355.25" width="1.65" height="12.39" fill="#f7f5f7"/>
<rect x="156.80" y="367.54" width="1.65" height="12.39" fill="#bde2b3"/>
<rect x="156.80" y="379.83" width="1.65" height="12.39" fill="#f4f8f1"/>
<rect x="156.80" y="392.12" width="1.65" height="12.39" fill="#87c480"/>
<rect x="156.80" y="404.42" width="1.65" height="12.39" fill="#f3f8f0"/>
<rect x="156.80" y="416.71" width="1.65" height="12.39" fill="#f4f0f5"/>
<rect x="158.30" y="281.50" width="2.65" height="12.39" fill="#def1d7"/>
<rect x="158.30" y="293.79" width="2.65" height="12.39" fill="#c1e4b7"/>
<rect x="158.30" y="306.08" width="2.65" height="12.39" fill="#acd9a2"/>
<rect x="158.30" y="318.38" width="2.65" height="12.39" fill="#e9f5e4"/>
<rect x="158.30" y="330.67" width="2.65" height="12.39" fill="#e7f4e1"/>
<rect x="158.30" y="342.96" width="2.65" height="12.39" fill="#c2e5b8"/>
<rect x="158.30" y="355.25" width="2.65" height="12.39" fill="#f4f8f1"/>
<rect x="158.30" y="367.54" width="2.65" height="12.39" fill="#f4f8f1"/>
<rect x="158.30" y="379.83" width="2.65" height="12.39" fill="#b6deac"/>
<rect x="158.30" y="392.12" width="2.65" height="12.39" fill="#7fbf79"/>
<rect x="158.30" y="404.42" width="2.65" height="12.39" fill="#c9e8bf"/>
<rect x="158.30" y="416.71" width="2.65" height="12.39" fill="#d6c0e4"/>
<rect x="160.80" y="281.50" width="1.35" height="12.39" fill="#dbf0d4"/>
<rect x="160.80" y="293.79" width="1.35" height="12.39" fill="#afdaa5"/>
<rect x="160.80" y="306.08" width="1.35" height="12.39" fill="#eee5f2"/>
<rect x="160.80" y="318.38" width="1.35" height="12.39" fill="#d8efd1"/>
<rect x="160.80" y="330.67" width="1.35" height="12.39" fill="#c7e7bd"/>
<rect x="160.80" y="342.96" width="1.35" height="12.39" fill="#b4ddaa"/>
<rect x="160.80" y="355.25" width="1.35" height="12.39" fill="#f8f6f7"/>
<rect x="160.80" y="367.54" width="1.35" height="12.39" fill="#cce9c2"/>
<rect x="160.80" y="379.83" width="1.35" height="12.39" fill="#8ec886"/>
<rect x="160.80" y="392.12" width="1.35" height="12.39" fill="#96cd8c"/>
<rect x="160.80" y="404.42" width="1.35" height="12.39" fill="#a0d396"/>
<rect x="160.80" y="416.71" width="1.35" height="12.39" fill="#ebf5e6"/>
<rect x="162.00" y="281.50" width="2.15" height="12.39" fill="#a5d59b"/>
<rect x="162.00" y="293.79" width="2.15" height="12.39" fill="#cdeac4"/>
<rect x="162.00" y="306.08" width="2.15" height="12.39" fill="#80c07a"/>
<rect x="162.00" y="318.38" width="2.15" height="12.39" fill="#b3dda9"/>
<rect x="162.00" y="330.67" width="2.15" height="12.39" fill="#c8e8be"/>
<rect x="162.00" y="342.96" width="2.15" height="12.39" fill="#c6e7bc"/>
<rect x="162.00" y="355.25" width="2.15" height="12.39" fill="#c4e6ba"/>
<rect x="162.00" y="367.54" width="2.15" height="12.39" fill="#f6f9f3"/>
<rect x="162.00" y="379.83" width="2.15" height="12.39" fill="#aad8a0"/>
<rect x="162.00" y="392.12" width="2.15" height="12.39" fill="#c0e4b6"/>
<rect x="162.00" y="404.42" width="2.15" height="12.39" fill="#d0ebc7"/>
<rect x="162.00" y="416.71" width="2.15" height="12.39" fill="#dccae8"/>
<rect x="164.00" y="281.50" width="3.15" height="12.39" fill="#99cf8f"/>
<rect x="164.00" y="293.79" width="3.15" height="12.39" fill="#e8f5e2"/>
<rect x="164.00" y="306.08" width="3.15" height="12.39" fill="#bbe1b1"/>
<rect x="164.00" y="318.38" width="3.15" height="12.39" fill="#d5edcc"/>
<rect x="164.00" y="330.67" width="3.15" height="12.39" fill="#c2e5b8"/>
<rect x="164.00" y="342.96" width="3.15" height="12.39" fill="#faf9f8"/>
<rect x="164.00" y="355.25" width="3.15" height="12.39" fill="#a9d79f"/>
<rect x="164.00" y="367.54" width="3.15" height="12.39" fill="#e4f3de"/>
<rect x="164.00" y="379.83" width="3.15" height="12.39" fill="#d5edcd"/>
<rect x="164.00" y="392.12" width="3.15" height="12.39" fill="#b6deac"/>
<rect x="164.00" y="404.42" width="3.15" height="12.39" fill="#a4d49a"/>
<rect x="164.00" y="416.71" width="3.15" height="12.39" fill="#d6c0e4"/>
<rect x="167.00" y="281.50" width="3.15" height="12.39" fill="#b2dca8"/>
<rect x="167.00" y="293.79" width="3.15" height="12.39" fill="#97ce8d"/>
<rect x="167.00" y="306.08" width="3.15" height="12.39" fill="#9fd295"/>
<rect x="167.00" y="318.38" width="3.15" height="12.39" fill="#a2d498"/>
<rect x="167.00" y="330.67" width="3.15" height="12.39" fill="#b8dfae"/>
<rect x="167.00" y="342.96" width="3.15" height="12.39" fill="#92cb89"/>
<rect x="167.00" y="355.25" width="3.15" height="12.39" fill="#c5e7bb"/>
<rect x="167.00" y="367.54" width="3.15" height="12.39" fill="#bae0b0"/>
<rect x="167.00" y="379.83" width="3.15" height="12.39" fill="#c5e6bb"/>
<rect x="167.00" y="392.12" width="3.15" height="12.39" fill="#b894cf"/>
<rect x="167.00" y="404.42" width="3.15" height="12.39" fill="#c9e8bf"/>
<rect x="167.00" y="416.71" width="3.15" height="12.39" fill="#d6c0e4"/>
<rect x="170.00" y="281.50" width="1.65" height="12.39" fill="#cbe9c1"/>
<rect x="170.00" y="293.79" width="1.65" height="12.39" fill="#e8f4e2"/>
<rect x="170.00" y="306.08" width="1.65" height="12.39" fill="#c7e7bd"/>
<rect x="170.00" y="318.38" width="1.65" height="12.39" fill="#cae9c0"/>
<rect x="170.00" y="330.67" width="1.65" height="12.39" fill="#b2dca8"/>
<rect x="170.00" y="342.96" width="1.65" height="12.39" fill="#c0e4b6"/>
<rect x="170.00" y="355.25" width="1.65" height="12.39" fill="#c9e8bf"/>
<rect x="170.00" y="367.54" width="1.65" height="12.39" fill="#b1dba7"/>
<rect x="170.00" y="379.83" width="1.65" height="12.39" fill="#b2dca8"/>
<rect x="170.00" y="392.12" width="1.65" height="12.39" fill="#b7dfad"/>
<rect x="170.00" y="404.42" width="1.65" height="12.39" fill="#cce9c2"/>
<rect x="170.00" y="416.71" width="1.65" height="12.39" fill="#ebf6e7"/>
<rect x="171.50" y="281.50" width="1.35" height="12.39" fill="#8dc885"/>
<rect x="171.50" y="293.79" width="1.35" height="12.39" fill="#b2dca8"/>
<rect x="171.50" y="306.08" width="1.35" height="12.39" fill="#c5e6bb"/>
<rect x="171.50" y="318.38" width="1.35" height="12.39" fill="#ebf6e6"/>
<rect x="171.50" y="330.67" width="1.35" height="12.39" fill="#e3f3dd"/>
<rect x="171.50" y="342.96" width="1.35" height="12.39" fill="#d0ebc7"/>
<rect x="171.50" y="355.25" width="1.35" height="12.39" fill="#aad8a0"/>
<rect x="171.50" y="367.54" width="1.35" height="12.39" fill="#d4edcc"/>
<rect x="171.50" y="379.83" width="1.35" height="12.39" fill="#b895cf"/>
<rect x="171.50" y="392.12" width="1.35" height="12.39" fill="#d0b7e0"/>
<rect x="171.50" y="404.42" width="1.35" height="12.39" fill="#95cc8b"/>
<rect x="171.50" y="416.71" width="1.35" height="12.39" fill="#d6c0e4"/>
<rect x="172.70" y="281.50" width="3.15" height="12.39" fill="#a1d397"/>
<rect x="172.70" y="293.79" width="3.15" height="12.39" fill="#a9d79f"/>
<rect x="172.70" y="306.08" width="3.15" height="12.39" fill="#82c17c"/>
<rect x="172.70" y="318.38" width="3.15" height="12.39" fill="#edf6e9"/>
<rect x="172.70" y="330.67" width="3.15" height="12.39" fill="#d9efd1"/>
<rect x="172.70" y="342.96" width="3.15" height="12.39" fill="#ecf6e7"/>
<rect x="172.70" y="355.25" width="3.15" height="12.39" fill="#fafaf8"/>
<rect x="172.70" y="367.54" width="3.15" height="12.39" fill="#cdeac4"/>
<rect x="172.70" y="379.83" width="3.15" height="12.39" fill="#a8d79e"/>
<rect x="172.70" y="392.12" width="3.15" height="12.39" fill="#acd9a2"/>
<rect x="172.70" y="404.42" width="3.15" height="12.39" fill="#d6eece"/>
<rect x="172.70" y="416.71" width="3.15" height="12.39" fill="#d6c0e4"/>
<rect x="175.70" y="281.50" width="1.65" height="12.39" fill="#d9efd1"/>
<rect x="175.70" y="293.79" width="1.65" height="12.39" fill="#afdba5"/>
<rect x="175.70" y="306.08" width="1.65" height="12.39" fill="#92cb89"/>
<rect x="175.70" y="318.38" width="1.65" height="12.39" fill="#e0f1d9"/>
<rect x="175.70" y="330.67" width="1.65" height="12.39" fill="#95cd8b"/>
<rect x="175.70" y="342.96" width="1.65" height="12.39" fill="#e5f4df"/>
<rect x="175.70" y="355.25" width="1.65" height="12.39" fill="#c4e6ba"/>
<rect x="175.70" y="367.54" width="1.65" height="12.39" fill="#cbe9c2"/>
<rect x="175.70" y="379.83" width="1.65" height="12.39" fill="#c3a5d7"/>
<rect x="175.70" y="392.12" width="1.65" height="12.39" fill="#c8abda"/>
<rect x="175.70" y="404.42" width="1.65" height="12.39" fill="#e4f3de"/>
<rect x="175.70" y="416.71" width="1.65" height="12.39" fill="#ecf6e7"/>
<rect x="177.20" y="281.50" width="1.65" height="12.39" fill="#eef6e9"/>
<rect x="177.20" y="293.79" width="1.65" height="12.39" fill="#c3e5b9"/>
<rect x="177.20" y="306.08" width="1.65" height="12.39" fill="#c9e8bf"/>
<rect x="177.20" y="318.38" width="1.65" height="12.39" fill="#f7f5f6"/>
<rect x="177.20" y="330.67" width="1.65" height="12.39" fill="#d9efd1"/>
<rect x="177.20" y="342.96" width="1.65" height="12.39" fill="#d1ecc8"/>
<rect x="177.20" y="355.25" width="1.65" height="12.39" fill="#f2f8ef"/>
<rect x="177.20" y="367.54" width="1.65" height="12.39" fill="#cae9c0"/>
<rect x="177.20" y="379.83" width="1.65" height="12.39" fill="#e8f5e2"/>
<rect x="177.20" y="392.12" width="1.65" height="12.39" fill="#cdeac3"/>
<rect x="177.20" y="404.42" width="1.65" height="12.39" fill="#c7e7bd"/>
<rect x="177.20" y="416.71" width="1.65" height="12.39" fill="#d6c0e4"/>
<rect x="178.70" y="281.50" width="2.65" height="12.39" fill="#efe7f2"/>
<rect x="178.70" y="293.79" width="2.65" height="12.39" fill="#f2f8ee"/>
<rect x="178.70" y="306.08" width="2.65" height="12.39" fill="#e8f5e2"/>
<rect x="178.70" y="318.38" width="2.65" height="12.39" fill="#d1ecc8"/>
<rect x="178.70" y="330.67" width="2.65" height="12.39" fill="#b5ddab"/>
<rect x="178.70" y="342.96" width="2.65" height="12.39" fill="#b5deab"/>
<rect x="178.70" y="355.25" width="2.65" height="12.39" fill="#edf6e8"/>
<rect x="178.70" y="367.54" width="2.65" height="12.39" fill="#d4edcb"/>
<rect x="178.70" y="379.83" width="2.65" height="12.39" fill="#c6a9d9"/>
<rect x="178.70" y="392.12" width="2.65" height="12.39" fill="#e5d8ed"/>
<rect x="178.70" y="404.42" width="2.65" height="12.39" fill="#e6f4e0"/>
<rect x="178.70" y="416.71" width="2.65" height="12.39" fill="#afdba5"/>
<rect x="181.20" y="281.50" width="3.15" height="12.39" fill="#dff1d8"/>
<rect x="181.20" y="293.79" width="3.15" height="12.39" fill="#f7f9f5"/>
<rect x="181.20" y="306.08" width="3.15" height="12.39" fill="#e4f3de"/>
<rect x="181.20" y="318.38" width="3.15" height="12.39" fill="#f5f9f2"/>
<rect x="181.20" y="330.67" width="3.15" height="12.39" fill="#eff7eb"/>
<rect x="181.20" y="342.96" width="3.15" height="12.39" fill="#ebf5e6"/>
<rect x="181.20" y="355.25" width="3.15" height="12.39" fill="#ebe0f0"/>
<rect x="181.20" y="367.54" width="3.15" height="12.39" fill="#f0e8f3"/>
<rect x="181.20" y="379.83" width="3.15" height="12.39" fill="#d5bfe4"/>
<rect x="181.20" y="392.12" width="3.15" height="12.39" fill="#bce1b2"/>
<rect x="181.20" y="404.42" width="3.15" height="12.39" fill="#d5edcd"/>
<rect x="181.20" y="416.71" width="3.15" height="12.39" fill="#ebe1f1"/>
<rect x="184.20" y="281.50" width="2.65" height="12.39" fill="#ceeac4"/>
<rect x="184.20" y="293.79" width="2.65" height="12.39" fill="#a7d69d"/>
<rect x="184.20" y="306.08" width="2.65" height="12.39" fill="#9ed194"/>
<rect x="184.20" y="318.38" width="2.65" height="12.39" fill="#a6d59c"/>
<rect x="184.20" y="330.67" width="2.65" height="12.39" fill="#bfe3b5"/>
<rect x="184.20" y="342.96" width="2.65" height="12.39" fill="#bde2b3"/>
<rect x="184.20" y="355.25" width="2.65" height="12.39" fill="#a7d69d"/>
<rect x="184.20" y="367.54" width="2.65" height="12.39" fill="#b2dca8"/>
<rect x="184.20" y="379.83" width="2.65" height="12.39" fill="#e9ddef"/>
<rect x="184.20" y="392.12" width="2.65" height="12.39" fill="#bce2b2"/>
<rect x="184.20" y="404.42" width="2.65" height="12.39" fill="#cfebc6"/>
<rect x="184.20" y="416.71" width="2.65" height="12.39" fill="#ebf5e6"/>
<rect x="186.70" y="281.50" width="3.15" height="12.39" fill="#bfe3b5"/>
<rect x="186.70" y="293.79" width="3.15" height="12.39" fill="#f8f9f5"/>
<rect x="186.70" y="306.08" width="3.15" height="12.39" fill="#c6e7bc"/>
<rect x="186.70" y="318.38" width="3.15" height="12.39" fill="#dcf0d5"/>
<rect x="186.70" y="330.67" width="3.15" height="12.39" fill="#c9e8bf"/>
<rect x="186.70" y="342.96" width="3.15" height="12.39" fill="#a2d498"/>
<rect x="186.70" y="355.25" width="3.15" height="12.39" fill="#e7daee"/>
<rect x="186.70" y="367.54" width="3.15" height="12.39" fill="#b9e0af"/>
<rect x="186.70" y="379.83" width="3.15" height="12.39" fill="#c7aada"/>
<rect x="186.70" y="392.12" width="3.15" height="12.39" fill="#f8f7f7"/>
<rect x="186.70" y="404.42" width="3.15" height="12.39" fill="#cfebc6"/>
<rect x="186.70" y="416.71" width="3.15" height="12.39" fill="#d6c0e4"/>
<rect x="37.3" y="275.3" width="76.70" height="6.1" fill="#74c282"/>
<rect x="114.0" y="275.3" width="75.70" height="6.1" fill="#174a66"/>
<rect x="74.4" y="275.3" width="0.9" height="6.1" fill="#174a66"/>
<rect x="80.0" y="275.3" width="1.0" height="6.1" fill="#174a66"/>
<rect x="104.5" y="275.3" width="0.8" height="6.1" fill="#174a66"/>
<rect x="106.2" y="275.3" width="0.8" height="6.1" fill="#174a66"/>
<rect x="91" y="275.3" width="0.6" height="6.1" fill="#174a66"/>
<rect x="114.6" y="275.3" width="1.0" height="6.1" fill="#74c282"/>
<rect x="143" y="275.3" width="0.6" height="6.1" fill="#74c282"/>
<rect x="186.8" y="275.3" width="1.2" height="6.1" fill="#74c282"/>
<rect x="167" y="275.3" width="0.6" height="6.1" fill="#74c282"/>
<line x1="67.70" y1="239.00" x2="144.30" y2="239.00" stroke="#b8b8b8" stroke-width="0.6"/>
<line x1="67.70" y1="239.00" x2="67.70" y2="263.70" stroke="#b8b8b8" stroke-width="0.6"/>
<line x1="144.30" y1="239.00" x2="144.30" y2="264.50" stroke="#b8b8b8" stroke-width="0.6"/>
<line x1="47.30" y1="263.70" x2="87.10" y2="263.70" stroke="#b8b8b8" stroke-width="0.6"/>
<line x1="124.70" y1="264.50" x2="164.50" y2="264.50" stroke="#b8b8b8" stroke-width="0.6"/>
<line x1="38.11" y1="268.21" x2="39.59" y2="268.21" stroke="#cccccc" stroke-width="0.5"/>
<line x1="38.11" y1="268.21" x2="38.11" y2="275.20" stroke="#cccccc" stroke-width="0.5"/>
<line x1="39.59" y1="268.21" x2="39.59" y2="275.20" stroke="#cccccc" stroke-width="0.5"/>
<line x1="40.75" y1="268.21" x2="42.08" y2="268.21" stroke="#cccccc" stroke-width="0.5"/>
<line x1="40.75" y1="268.21" x2="40.75" y2="275.20" stroke="#cccccc" stroke-width="0.5"/>
<line x1="42.08" y1="268.21" x2="42.08" y2="275.20" stroke="#cccccc" stroke-width="0.5"/>
<line x1="38.85" y1="266.99" x2="41.41" y2="266.99" stroke="#cccccc" stroke-width="0.5"/>
<line x1="38.85" y1="266.99" x2="38.85" y2="268.21" stroke="#cccccc" stroke-width="0.5"/>
<line x1="41.41" y1="266.99" x2="41.41" y2="268.21" stroke="#cccccc" stroke-width="0.5"/>
<line x1="43.58" y1="268.19" x2="45.22" y2="268.19" stroke="#cccccc" stroke-width="0.5"/>
<line x1="43.58" y1="268.19" x2="43.58" y2="275.20" stroke="#cccccc" stroke-width="0.5"/>
<line x1="45.22" y1="268.19" x2="45.22" y2="275.20" stroke="#cccccc" stroke-width="0.5"/>
<line x1="46.96" y1="268.19" x2="48.19" y2="268.19" stroke="#cccccc" stroke-width="0.5"/>
<line x1="46.96" y1="268.19" x2="46.96" y2="275.20" stroke="#cccccc" stroke-width="0.5"/>
<line x1="48.19" y1="268.19" x2="48.19" y2="275.20" stroke="#cccccc" stroke-width="0.5"/>
<line x1="44.40" y1="266.99" x2="47.57" y2="266.99" stroke="#cccccc" stroke-width="0.5"/>
<line x1="44.40" y1="266.99" x2="44.40" y2="268.19" stroke="#cccccc" stroke-width="0.5"/>
<line x1="47.57" y1="266.99" x2="47.57" y2="268.19" stroke="#cccccc" stroke-width="0.5"/>
<line x1="40.13" y1="265.30" x2="45.99" y2="265.30" stroke="#cccccc" stroke-width="0.5"/>
<line x1="40.13" y1="265.30" x2="40.13" y2="266.99" stroke="#cccccc" stroke-width="0.5"/>
<line x1="45.99" y1="265.30" x2="45.99" y2="266.99" stroke="#cccccc" stroke-width="0.5"/>
<line x1="49.51" y1="268.78" x2="51.03" y2="268.78" stroke="#cccccc" stroke-width="0.5"/>
<line x1="49.51" y1="268.78" x2="49.51" y2="275.20" stroke="#cccccc" stroke-width="0.5"/>
<line x1="51.03" y1="268.78" x2="51.03" y2="275.20" stroke="#cccccc" stroke-width="0.5"/>
<line x1="52.71" y1="268.78" x2="54.65" y2="268.78" stroke="#cccccc" stroke-width="0.5"/>
<line x1="52.71" y1="268.78" x2="52.71" y2="275.20" stroke="#cccccc" stroke-width="0.5"/>
<line x1="54.65" y1="268.78" x2="54.65" y2="275.20" stroke="#cccccc" stroke-width="0.5"/>
<line x1="50.27" y1="267.12" x2="53.68" y2="267.12" stroke="#cccccc" stroke-width="0.5"/>
<line x1="50.27" y1="267.12" x2="50.27" y2="268.78" stroke="#cccccc" stroke-width="0.5"/>
<line x1="53.68" y1="267.12" x2="53.68" y2="268.78" stroke="#cccccc" stroke-width="0.5"/>
<line x1="56.28" y1="268.80" x2="57.42" y2="268.80" stroke="#cccccc" stroke-width="0.5"/>
<line x1="56.28" y1="268.80" x2="56.28" y2="275.20" stroke="#cccccc" stroke-width="0.5"/>
<line x1="57.42" y1="268.80" x2="57.42" y2="275.20" stroke="#cccccc" stroke-width="0.5"/>
<line x1="56.85" y1="267.12" x2="58.92" y2="267.12" stroke="#cccccc" stroke-width="0.5"/>
<line x1="56.85" y1="267.12" x2="56.85" y2="268.80" stroke="#cccccc" stroke-width="0.5"/>
<line x1="58.92" y1="267.12" x2="58.92" y2="275.20" stroke="#cccccc" stroke-width="0.5"/>
<line x1="51.97" y1="265.30" x2="57.88" y2="265.30" stroke="#cccccc" stroke-width="0.5"/>
<line x1="51.97" y1="265.30" x2="51.97" y2="267.12" stroke="#cccccc" stroke-width="0.5"/>
<line x1="57.88" y1="265.30" x2="57.88" y2="267.12" stroke="#cccccc" stroke-width="0.5"/>
<line x1="47.30" y1="263.70" x2="47.30" y2="265.30" stroke="#b8b8b8" stroke-width="0.6"/>
<line x1="43.06" y1="265.30" x2="54.93" y2="265.30" stroke="#b8b8b8" stroke-width="0.6"/>
<line x1="43.06" y1="265.30" x2="43.06" y2="266.50" stroke="#b8b8b8" stroke-width="0.6"/>
<line x1="54.93" y1="265.30" x2="54.93" y2="266.50" stroke="#b8b8b8" stroke-width="0.6"/>
<line x1="60.60" y1="270.51" x2="61.99" y2="270.51" stroke="#cccccc" stroke-width="0.5"/>
<line x1="60.60" y1="270.51" x2="60.60" y2="275.20" stroke="#cccccc" stroke-width="0.5"/>
<line x1="61.99" y1="270.51" x2="61.99" y2="275.20" stroke="#cccccc" stroke-width="0.5"/>
<line x1="63.33" y1="270.51" x2="64.43" y2="270.51" stroke="#cccccc" stroke-width="0.5"/>
<line x1="63.33" y1="270.51" x2="63.33" y2="275.20" stroke="#cccccc" stroke-width="0.5"/>
<line x1="64.43" y1="270.51" x2="64.43" y2="275.20" stroke="#cccccc" stroke-width="0.5"/>
<line x1="61.30" y1="268.15" x2="63.88" y2="268.15" stroke="#cccccc" stroke-width="0.5"/>
<line x1="61.30" y1="268.15" x2="61.30" y2="270.51" stroke="#cccccc" stroke-width="0.5"/>
<line x1="63.88" y1="268.15" x2="63.88" y2="270.51" stroke="#cccccc" stroke-width="0.5"/>
<line x1="65.86" y1="270.61" x2="67.56" y2="270.61" stroke="#cccccc" stroke-width="0.5"/>
<line x1="65.86" y1="270.61" x2="65.86" y2="275.20" stroke="#cccccc" stroke-width="0.5"/>
<line x1="67.56" y1="270.61" x2="67.56" y2="275.20" stroke="#cccccc" stroke-width="0.5"/>
<line x1="68.96" y1="270.61" x2="70.41" y2="270.61" stroke="#cccccc" stroke-width="0.5"/>
<line x1="68.96" y1="270.61" x2="68.96" y2="275.20" stroke="#cccccc" stroke-width="0.5"/>
<line x1="70.41" y1="270.61" x2="70.41" y2="275.20" stroke="#cccccc" stroke-width="0.5"/>
<line x1="66.71" y1="268.15" x2="69.68" y2="268.15" stroke="#cccccc" stroke-width="0.5"/>
<line x1="66.71" y1="268.15" x2="66.71" y2="270.61" stroke="#cccccc" stroke-width="0.5"/>
<line x1="69.68" y1="268.15" x2="69.68" y2="270.61" stroke="#cccccc" stroke-width="0.5"/>
<line x1="62.59" y1="266.38" x2="68.20" y2="266.38" stroke="#cccccc" stroke-width="0.5"/>
<line x1="62.59" y1="266.38" x2="62.59" y2="268.15" stroke="#cccccc" stroke-width="0.5"/>
<line x1="68.20" y1="266.38" x2="68.20" y2="268.15" stroke="#cccccc" stroke-width="0.5"/>
<line x1="72.21" y1="270.09" x2="73.71" y2="270.09" stroke="#cccccc" stroke-width="0.5"/>
<line x1="72.21" y1="270.09" x2="72.21" y2="275.20" stroke="#cccccc" stroke-width="0.5"/>
<line x1="73.71" y1="270.09" x2="73.71" y2="275.20" stroke="#cccccc" stroke-width="0.5"/>
<line x1="72.96" y1="268.55" x2="75.07" y2="268.55" stroke="#cccccc" stroke-width="0.5"/>
<line x1="72.96" y1="268.55" x2="72.96" y2="270.09" stroke="#cccccc" stroke-width="0.5"/>
<line x1="75.07" y1="268.55" x2="75.07" y2="275.20" stroke="#cccccc" stroke-width="0.5"/>
<line x1="76.78" y1="268.55" x2="78.22" y2="268.55" stroke="#cccccc" stroke-width="0.5"/>
<line x1="76.78" y1="268.55" x2="76.78" y2="275.20" stroke="#cccccc" stroke-width="0.5"/>
<line x1="78.22" y1="268.55" x2="78.22" y2="275.20" stroke="#cccccc" stroke-width="0.5"/>
<line x1="74.02" y1="267.54" x2="77.50" y2="267.54" stroke="#cccccc" stroke-width="0.5"/>
<line x1="74.02" y1="267.54" x2="74.02" y2="268.55" stroke="#cccccc" stroke-width="0.5"/>
<line x1="77.50" y1="267.54" x2="77.50" y2="268.55" stroke="#cccccc" stroke-width="0.5"/>
<line x1="79.39" y1="269.04" x2="81.01" y2="269.04" stroke="#cccccc" stroke-width="0.5"/>
<line x1="79.39" y1="269.04" x2="79.39" y2="275.20" stroke="#cccccc" stroke-width="0.5"/>
<line x1="81.01" y1="269.04" x2="81.01" y2="275.20" stroke="#cccccc" stroke-width="0.5"/>
<line x1="84.56" y1="270.13" x2="86.08" y2="270.13" stroke="#cccccc" stroke-width="0.5"/>
<line x1="84.56" y1="270.13" x2="84.56" y2="275.20" stroke="#cccccc" stroke-width="0.5"/>
<line x1="86.08" y1="270.13" x2="86.08" y2="275.20" stroke="#cccccc" stroke-width="0.5"/>
<line x1="82.98" y1="269.04" x2="85.32" y2="269.04" stroke="#cccccc" stroke-width="0.5"/>
<line x1="82.98" y1="269.04" x2="82.98" y2="275.20" stroke="#cccccc" stroke-width="0.5"/>
<line x1="85.32" y1="269.04" x2="85.32" y2="270.13" stroke="#cccccc" stroke-width="0.5"/>
<line x1="80.20" y1="267.54" x2="84.15" y2="267.54" stroke="#cccccc" stroke-width="0.5"/>
<line x1="80.20" y1="267.54" x2="80.20" y2="269.04" stroke="#cccccc" stroke-width="0.5"/>
<line x1="84.15" y1="267.54" x2="84.15" y2="269.04" stroke="#cccccc" stroke-width="0.5"/>
<line x1="75.76" y1="266.38" x2="82.18" y2="266.38" stroke="#cccccc" stroke-width="0.5"/>
<line x1="75.76" y1="266.38" x2="75.76" y2="267.54" stroke="#cccccc" stroke-width="0.5"/>
<line x1="82.18" y1="266.38" x2="82.18" y2="267.54" stroke="#cccccc" stroke-width="0.5"/>
<line x1="65.39" y1="265.30" x2="78.97" y2="265.30" stroke="#cccccc" stroke-width="0.5"/>
<line x1="65.39" y1="265.30" x2="65.39" y2="266.38" stroke="#cccccc" stroke-width="0.5"/>
<line x1="78.97" y1="265.30" x2="78.97" y2="266.38" stroke="#cccccc" stroke-width="0.5"/>
<line x1="87.66" y1="271.04" x2="89.33" y2="271.04" stroke="#cccccc" stroke-width="0.5"/>
<line x1="87.66" y1="271.04" x2="87.66" y2="275.20" stroke="#cccccc" stroke-width="0.5"/>
<line x1="89.33" y1="271.04" x2="89.33" y2="275.20" stroke="#cccccc" stroke-width="0.5"/>
<line x1="90.82" y1="272.16" x2="92.13" y2="272.16" stroke="#cccccc" stroke-width="0.5"/>
<line x1="90.82" y1="272.16" x2="90.82" y2="275.20" stroke="#cccccc" stroke-width="0.5"/>
<line x1="92.13" y1="272.16" x2="92.13" y2="275.20" stroke="#cccccc" stroke-width="0.5"/>
<line x1="91.47" y1="271.04" x2="93.86" y2="271.04" stroke="#cccccc" stroke-width="0.5"/>
<line x1="91.47" y1="271.04" x2="91.47" y2="272.16" stroke="#cccccc" stroke-width="0.5"/>
<line x1="93.86" y1="271.04" x2="93.86" y2="275.20" stroke="#cccccc" stroke-width="0.5"/>
<line x1="88.49" y1="269.14" x2="92.67" y2="269.14" stroke="#cccccc" stroke-width="0.5"/>
<line x1="88.49" y1="269.14" x2="88.49" y2="271.04" stroke="#cccccc" stroke-width="0.5"/>
<line x1="92.67" y1="269.14" x2="92.67" y2="271.04" stroke="#cccccc" stroke-width="0.5"/>
<line x1="95.64" y1="271.57" x2="97.10" y2="271.57" stroke="#cccccc" stroke-width="0.5"/>
<line x1="95.64" y1="271.57" x2="95.64" y2="275.20" stroke="#cccccc" stroke-width="0.5"/>
<line x1="97.10" y1="271.57" x2="97.10" y2="275.20" stroke="#cccccc" stroke-width="0.5"/>
<line x1="98.22" y1="271.57" x2="99.45" y2="271.57" stroke="#cccccc" stroke-width="0.5"/>
<line x1="98.22" y1="271.57" x2="98.22" y2="275.20" stroke="#cccccc" stroke-width="0.5"/>
<line x1="99.45" y1="271.57" x2="99.45" y2="275.20" stroke="#cccccc" stroke-width="0.5"/>
<line x1="96.37" y1="269.14" x2="98.84" y2="269.14" stroke="#cccccc" stroke-width="0.5"/>
<line x1="96.37" y1="269.14" x2="96.37" y2="271.57" stroke="#cccccc" stroke-width="0.5"/>
<line x1="98.84" y1="269.14" x2="98.84" y2="271.57" stroke="#cccccc" stroke-width="0.5"/>
<line x1="90.58" y1="267.32" x2="97.60" y2="267.32" stroke="#cccccc" stroke-width="0.5"/>
<line x1="90.58" y1="267.32" x2="90.58" y2="269.14" stroke="#cccccc" stroke-width="0.5"/>
<line x1="97.60" y1="267.32" x2="97.60" y2="269.14" stroke="#cccccc" stroke-width="0.5"/>
<line x1="102.14" y1="273.37" x2="103.27" y2="273.37" stroke="#cccccc" stroke-width="0.5"/>
<line x1="102.14" y1="273.37" x2="102.14" y2="275.20" stroke="#cccccc" stroke-width="0.5"/>
<line x1="103.27" y1="273.37" x2="103.27" y2="275.20" stroke="#cccccc" stroke-width="0.5"/>
<line x1="100.93" y1="270.96" x2="102.71" y2="270.96" stroke="#cccccc" stroke-width="0.5"/>
<line x1="100.93" y1="270.96" x2="100.93" y2="275.20" stroke="#cccccc" stroke-width="0.5"/>
<line x1="102.71" y1="270.96" x2="102.71" y2="273.37" stroke="#cccccc" stroke-width="0.5"/>
<line x1="106.64" y1="273.35" x2="108.22" y2="273.35" stroke="#cccccc" stroke-width="0.5"/>
<line x1="106.64" y1="273.35" x2="106.64" y2="275.20" stroke="#cccccc" stroke-width="0.5"/>
<line x1="108.22" y1="273.35" x2="108.22" y2="275.20" stroke="#cccccc" stroke-width="0.5"/>
<line x1="104.83" y1="270.96" x2="107.43" y2="270.96" stroke="#cccccc" stroke-width="0.5"/>
<line x1="104.83" y1="270.96" x2="104.83" y2="275.20" stroke="#cccccc" stroke-width="0.5"/>
<line x1="107.43" y1="270.96" x2="107.43" y2="273.35" stroke="#cccccc" stroke-width="0.5"/>
<line x1="101.82" y1="268.61" x2="106.13" y2="268.61" stroke="#cccccc" stroke-width="0.5"/>
<line x1="101.82" y1="268.61" x2="101.82" y2="270.96" stroke="#cccccc" stroke-width="0.5"/>
<line x1="106.13" y1="268.61" x2="106.13" y2="270.96" stroke="#cccccc" stroke-width="0.5"/>
<line x1="109.45" y1="270.23" x2="110.65" y2="270.23" stroke="#cccccc" stroke-width="0.5"/>
<line x1="109.45" y1="270.23" x2="109.45" y2="275.20" stroke="#cccccc" stroke-width="0.5"/>
<line x1="110.65" y1="270.23" x2="110.65" y2="275.20" stroke="#cccccc" stroke-width="0.5"/>
<line x1="112.00" y1="270.23" x2="113.37" y2="270.23" stroke="#cccccc" stroke-width="0.5"/>
<line x1="112.00" y1="270.23" x2="112.00" y2="275.20" stroke="#cccccc" stroke-width="0.5"/>
<line x1="113.37" y1="270.23" x2="113.37" y2="275.20" stroke="#cccccc" stroke-width="0.5"/>
<line x1="110.05" y1="268.61" x2="112.69" y2="268.61" stroke="#cccccc" stroke-width="0.5"/>
<line x1="110.05" y1="268.61" x2="110.05" y2="270.23" stroke="#cccccc" stroke-width="0.5"/>
<line x1="112.69" y1="268.61" x2="112.69" y2="270.23" stroke="#cccccc" stroke-width="0.5"/>
<line x1="103.98" y1="267.32" x2="111.37" y2="267.32" stroke="#cccccc" stroke-width="0.5"/>
<line x1="103.98" y1="267.32" x2="103.98" y2="268.61" stroke="#cccccc" stroke-width="0.5"/>
<line x1="111.37" y1="267.32" x2="111.37" y2="268.61" stroke="#cccccc" stroke-width="0.5"/>
<line x1="94.09" y1="265.30" x2="107.67" y2="265.30" stroke="#cccccc" stroke-width="0.5"/>
<line x1="94.09" y1="265.30" x2="94.09" y2="267.32" stroke="#cccccc" stroke-width="0.5"/>
<line x1="107.67" y1="265.30" x2="107.67" y2="267.32" stroke="#cccccc" stroke-width="0.5"/>
<line x1="87.10" y1="263.70" x2="87.10" y2="265.30" stroke="#b8b8b8" stroke-width="0.6"/>
<line x1="72.18" y1="265.30" x2="100.88" y2="265.30" stroke="#b8b8b8" stroke-width="0.6"/>
<line x1="72.18" y1="265.30" x2="72.18" y2="266.50" stroke="#b8b8b8" stroke-width="0.6"/>
<line x1="100.88" y1="265.30" x2="100.88" y2="266.50" stroke="#b8b8b8" stroke-width="0.6"/>
<line x1="114.68" y1="270.16" x2="115.99" y2="270.16" stroke="#cccccc" stroke-width="0.5"/>
<line x1="114.68" y1="270.16" x2="114.68" y2="275.20" stroke="#cccccc" stroke-width="0.5"/>
<line x1="115.99" y1="270.16" x2="115.99" y2="275.20" stroke="#cccccc" stroke-width="0.5"/>
<line x1="115.34" y1="268.96" x2="117.63" y2="268.96" stroke="#cccccc" stroke-width="0.5"/>
<line x1="115.34" y1="268.96" x2="115.34" y2="270.16" stroke="#cccccc" stroke-width="0.5"/>
<line x1="117.63" y1="268.96" x2="117.63" y2="275.20" stroke="#cccccc" stroke-width="0.5"/>
<line x1="119.64" y1="268.96" x2="121.25" y2="268.96" stroke="#cccccc" stroke-width="0.5"/>
<line x1="119.64" y1="268.96" x2="119.64" y2="275.20" stroke="#cccccc" stroke-width="0.5"/>
<line x1="121.25" y1="268.96" x2="121.25" y2="275.20" stroke="#cccccc" stroke-width="0.5"/>
<line x1="116.48" y1="267.24" x2="120.44" y2="267.24" stroke="#cccccc" stroke-width="0.5"/>
<line x1="116.48" y1="267.24" x2="116.48" y2="268.96" stroke="#cccccc" stroke-width="0.5"/>
<line x1="120.44" y1="267.24" x2="120.44" y2="268.96" stroke="#cccccc" stroke-width="0.5"/>
<line x1="122.46" y1="268.55" x2="123.56" y2="268.55" stroke="#cccccc" stroke-width="0.5"/>
<line x1="122.46" y1="268.55" x2="122.46" y2="275.20" stroke="#cccccc" stroke-width="0.5"/>
<line x1="123.56" y1="268.55" x2="123.56" y2="275.20" stroke="#cccccc" stroke-width="0.5"/>
<line x1="124.68" y1="268.55" x2="126.15" y2="268.55" stroke="#cccccc" stroke-width="0.5"/>
<line x1="124.68" y1="268.55" x2="124.68" y2="275.20" stroke="#cccccc" stroke-width="0.5"/>
<line x1="126.15" y1="268.55" x2="126.15" y2="275.20" stroke="#cccccc" stroke-width="0.5"/>
<line x1="123.01" y1="267.24" x2="125.42" y2="267.24" stroke="#cccccc" stroke-width="0.5"/>
<line x1="123.01" y1="267.24" x2="123.01" y2="268.55" stroke="#cccccc" stroke-width="0.5"/>
<line x1="125.42" y1="267.24" x2="125.42" y2="268.55" stroke="#cccccc" stroke-width="0.5"/>
<line x1="118.46" y1="266.10" x2="124.21" y2="266.10" stroke="#cccccc" stroke-width="0.5"/>
<line x1="118.46" y1="266.10" x2="118.46" y2="267.24" stroke="#cccccc" stroke-width="0.5"/>
<line x1="124.21" y1="266.10" x2="124.21" y2="267.24" stroke="#cccccc" stroke-width="0.5"/>
<line x1="127.56" y1="272.35" x2="128.68" y2="272.35" stroke="#cccccc" stroke-width="0.5"/>
<line x1="127.56" y1="272.35" x2="127.56" y2="275.20" stroke="#cccccc" stroke-width="0.5"/>
<line x1="128.68" y1="272.35" x2="128.68" y2="275.20" stroke="#cccccc" stroke-width="0.5"/>
<line x1="128.12" y1="270.82" x2="130.29" y2="270.82" stroke="#cccccc" stroke-width="0.5"/>
<line x1="128.12" y1="270.82" x2="128.12" y2="272.35" stroke="#cccccc" stroke-width="0.5"/>
<line x1="130.29" y1="270.82" x2="130.29" y2="275.20" stroke="#cccccc" stroke-width="0.5"/>
<line x1="132.19" y1="270.82" x2="133.50" y2="270.82" stroke="#cccccc" stroke-width="0.5"/>
<line x1="132.19" y1="270.82" x2="132.19" y2="275.20" stroke="#cccccc" stroke-width="0.5"/>
<line x1="133.50" y1="270.82" x2="133.50" y2="275.20" stroke="#cccccc" stroke-width="0.5"/>
<line x1="129.20" y1="268.61" x2="132.84" y2="268.61" stroke="#cccccc" stroke-width="0.5"/>
<line x1="129.20" y1="268.61" x2="129.20" y2="270.82" stroke="#cccccc" stroke-width="0.5"/>
<line x1="132.84" y1="268.61" x2="132.84" y2="270.82" stroke="#cccccc" stroke-width="0.5"/>
<line x1="134.75" y1="271.13" x2="136.07" y2="271.13" stroke="#cccccc" stroke-width="0.5"/>
<line x1="134.75" y1="271.13" x2="134.75" y2="275.20" stroke="#cccccc" stroke-width="0.5"/>
<line x1="136.07" y1="271.13" x2="136.07" y2="275.20" stroke="#cccccc" stroke-width="0.5"/>
<line x1="137.58" y1="271.13" x2="139.27" y2="271.13" stroke="#cccccc" stroke-width="0.5"/>
<line x1="137.58" y1="271.13" x2="137.58" y2="275.20" stroke="#cccccc" stroke-width="0.5"/>
<line x1="139.27" y1="271.13" x2="139.27" y2="275.20" stroke="#cccccc" stroke-width="0.5"/>
<line x1="135.41" y1="268.61" x2="138.42" y2="268.61" stroke="#cccccc" stroke-width="0.5"/>
<line x1="135.41" y1="268.61" x2="135.41" y2="271.13" stroke="#cccccc" stroke-width="0.5"/>
<line x1="138.42" y1="268.61" x2="138.42" y2="271.13" stroke="#cccccc" stroke-width="0.5"/>
<line x1="131.02" y1="266.10" x2="136.92" y2="266.10" stroke="#cccccc" stroke-width="0.5"/>
<line x1="131.02" y1="266.10" x2="131.02" y2="268.61" stroke="#cccccc" stroke-width="0.5"/>
<line x1="136.92" y1="266.10" x2="136.92" y2="268.61" stroke="#cccccc" stroke-width="0.5"/>
<line x1="124.70" y1="264.50" x2="124.70" y2="266.10" stroke="#b8b8b8" stroke-width="0.6"/>
<line x1="121.34" y1="266.10" x2="133.97" y2="266.10" stroke="#b8b8b8" stroke-width="0.6"/>
<line x1="121.34" y1="266.10" x2="121.34" y2="267.30" stroke="#b8b8b8" stroke-width="0.6"/>
<line x1="133.97" y1="266.10" x2="133.97" y2="267.30" stroke="#b8b8b8" stroke-width="0.6"/>
<line x1="140.87" y1="274.20" x2="142.29" y2="274.20" stroke="#cccccc" stroke-width="0.5"/>
<line x1="140.87" y1="274.20" x2="140.87" y2="275.20" stroke="#cccccc" stroke-width="0.5"/>
<line x1="142.29" y1="274.20" x2="142.29" y2="275.20" stroke="#cccccc" stroke-width="0.5"/>
<line x1="141.58" y1="272.98" x2="143.68" y2="272.98" stroke="#cccccc" stroke-width="0.5"/>
<line x1="141.58" y1="272.98" x2="141.58" y2="274.20" stroke="#cccccc" stroke-width="0.5"/>
<line x1="143.68" y1="272.98" x2="143.68" y2="275.20" stroke="#cccccc" stroke-width="0.5"/>
<line x1="147.15" y1="274.20" x2="148.59" y2="274.20" stroke="#cccccc" stroke-width="0.5"/>
<line x1="147.15" y1="274.20" x2="147.15" y2="275.20" stroke="#cccccc" stroke-width="0.5"/>
<line x1="148.59" y1="274.20" x2="148.59" y2="275.20" stroke="#cccccc" stroke-width="0.5"/>
<line x1="145.52" y1="272.98" x2="147.87" y2="272.98" stroke="#cccccc" stroke-width="0.5"/>
<line x1="145.52" y1="272.98" x2="145.52" y2="275.20" stroke="#cccccc" stroke-width="0.5"/>
<line x1="147.87" y1="272.98" x2="147.87" y2="274.20" stroke="#cccccc" stroke-width="0.5"/>
<line x1="142.63" y1="270.39" x2="146.70" y2="270.39" stroke="#cccccc" stroke-width="0.5"/>
<line x1="142.63" y1="270.39" x2="142.63" y2="272.98" stroke="#cccccc" stroke-width="0.5"/>
<line x1="146.70" y1="270.39" x2="146.70" y2="272.98" stroke="#cccccc" stroke-width="0.5"/>
<line x1="149.85" y1="271.78" x2="150.96" y2="271.78" stroke="#cccccc" stroke-width="0.5"/>
<line x1="149.85" y1="271.78" x2="149.85" y2="275.20" stroke="#cccccc" stroke-width="0.5"/>
<line x1="150.96" y1="271.78" x2="150.96" y2="275.20" stroke="#cccccc" stroke-width="0.5"/>
<line x1="152.66" y1="271.78" x2="154.38" y2="271.78" stroke="#cccccc" stroke-width="0.5"/>
<line x1="152.66" y1="271.78" x2="152.66" y2="275.20" stroke="#cccccc" stroke-width="0.5"/>
<line x1="154.38" y1="271.78" x2="154.38" y2="275.20" stroke="#cccccc" stroke-width="0.5"/>
<line x1="150.40" y1="270.39" x2="153.52" y2="270.39" stroke="#cccccc" stroke-width="0.5"/>
<line x1="150.40" y1="270.39" x2="150.40" y2="271.78" stroke="#cccccc" stroke-width="0.5"/>
<line x1="153.52" y1="270.39" x2="153.52" y2="271.78" stroke="#cccccc" stroke-width="0.5"/>
<line x1="144.66" y1="267.83" x2="151.96" y2="267.83" stroke="#cccccc" stroke-width="0.5"/>
<line x1="144.66" y1="267.83" x2="144.66" y2="270.39" stroke="#cccccc" stroke-width="0.5"/>
<line x1="151.96" y1="267.83" x2="151.96" y2="270.39" stroke="#cccccc" stroke-width="0.5"/>
<line x1="155.64" y1="271.84" x2="157.06" y2="271.84" stroke="#cccccc" stroke-width="0.5"/>
<line x1="155.64" y1="271.84" x2="155.64" y2="275.20" stroke="#cccccc" stroke-width="0.5"/>
<line x1="157.06" y1="271.84" x2="157.06" y2="275.20" stroke="#cccccc" stroke-width="0.5"/>
<line x1="156.35" y1="269.64" x2="158.79" y2="269.64" stroke="#cccccc" stroke-width="0.5"/>
<line x1="156.35" y1="269.64" x2="156.35" y2="271.84" stroke="#cccccc" stroke-width="0.5"/>
<line x1="158.79" y1="269.64" x2="158.79" y2="275.20" stroke="#cccccc" stroke-width="0.5"/>
<line x1="160.16" y1="270.77" x2="161.52" y2="270.77" stroke="#cccccc" stroke-width="0.5"/>
<line x1="160.16" y1="270.77" x2="160.16" y2="275.20" stroke="#cccccc" stroke-width="0.5"/>
<line x1="161.52" y1="270.77" x2="161.52" y2="275.20" stroke="#cccccc" stroke-width="0.5"/>
<line x1="162.96" y1="270.77" x2="164.21" y2="270.77" stroke="#cccccc" stroke-width="0.5"/>
<line x1="162.96" y1="270.77" x2="162.96" y2="275.20" stroke="#cccccc" stroke-width="0.5"/>
<line x1="164.21" y1="270.77" x2="164.21" y2="275.20" stroke="#cccccc" stroke-width="0.5"/>
<line x1="160.84" y1="269.64" x2="163.59" y2="269.64" stroke="#cccccc" stroke-width="0.5"/>
<line x1="160.84" y1="269.64" x2="160.84" y2="270.77" stroke="#cccccc" stroke-width="0.5"/>
<line x1="163.59" y1="269.64" x2="163.59" y2="270.77" stroke="#cccccc" stroke-width="0.5"/>
<line x1="157.57" y1="267.83" x2="162.21" y2="267.83" stroke="#cccccc" stroke-width="0.5"/>
<line x1="157.57" y1="267.83" x2="157.57" y2="269.64" stroke="#cccccc" stroke-width="0.5"/>
<line x1="162.21" y1="267.83" x2="162.21" y2="269.64" stroke="#cccccc" stroke-width="0.5"/>
<line x1="148.31" y1="266.10" x2="159.89" y2="266.10" stroke="#cccccc" stroke-width="0.5"/>
<line x1="148.31" y1="266.10" x2="148.31" y2="267.83" stroke="#cccccc" stroke-width="0.5"/>
<line x1="159.89" y1="266.10" x2="159.89" y2="267.83" stroke="#cccccc" stroke-width="0.5"/>
<line x1="165.35" y1="271.19" x2="166.74" y2="271.19" stroke="#cccccc" stroke-width="0.5"/>
<line x1="165.35" y1="271.19" x2="165.35" y2="275.20" stroke="#cccccc" stroke-width="0.5"/>
<line x1="166.74" y1="271.19" x2="166.74" y2="275.20" stroke="#cccccc" stroke-width="0.5"/>
<line x1="168.02" y1="273.66" x2="169.14" y2="273.66" stroke="#cccccc" stroke-width="0.5"/>
<line x1="168.02" y1="273.66" x2="168.02" y2="275.20" stroke="#cccccc" stroke-width="0.5"/>
<line x1="169.14" y1="273.66" x2="169.14" y2="275.20" stroke="#cccccc" stroke-width="0.5"/>
<line x1="168.58" y1="271.19" x2="170.95" y2="271.19" stroke="#cccccc" stroke-width="0.5"/>
<line x1="168.58" y1="271.19" x2="168.58" y2="273.66" stroke="#cccccc" stroke-width="0.5"/>
<line x1="170.95" y1="271.19" x2="170.95" y2="275.20" stroke="#cccccc" stroke-width="0.5"/>
<line x1="166.05" y1="270.13" x2="169.76" y2="270.13" stroke="#cccccc" stroke-width="0.5"/>
<line x1="166.05" y1="270.13" x2="166.05" y2="271.19" stroke="#cccccc" stroke-width="0.5"/>
<line x1="169.76" y1="270.13" x2="169.76" y2="271.19" stroke="#cccccc" stroke-width="0.5"/>
<line x1="172.55" y1="272.25" x2="173.74" y2="272.25" stroke="#cccccc" stroke-width="0.5"/>
<line x1="172.55" y1="272.25" x2="172.55" y2="275.20" stroke="#cccccc" stroke-width="0.5"/>
<line x1="173.74" y1="272.25" x2="173.74" y2="275.20" stroke="#cccccc" stroke-width="0.5"/>
<line x1="175.41" y1="272.25" x2="177.15" y2="272.25" stroke="#cccccc" stroke-width="0.5"/>
<line x1="175.41" y1="272.25" x2="175.41" y2="275.20" stroke="#cccccc" stroke-width="0.5"/>
<line x1="177.15" y1="272.25" x2="177.15" y2="275.20" stroke="#cccccc" stroke-width="0.5"/>
<line x1="173.14" y1="270.13" x2="176.28" y2="270.13" stroke="#cccccc" stroke-width="0.5"/>
<line x1="173.14" y1="270.13" x2="173.14" y2="272.25" stroke="#cccccc" stroke-width="0.5"/>
<line x1="176.28" y1="270.13" x2="176.28" y2="272.25" stroke="#cccccc" stroke-width="0.5"/>
<line x1="167.90" y1="268.34" x2="174.71" y2="268.34" stroke="#cccccc" stroke-width="0.5"/>
<line x1="167.90" y1="268.34" x2="167.90" y2="270.13" stroke="#cccccc" stroke-width="0.5"/>
<line x1="174.71" y1="268.34" x2="174.71" y2="270.13" stroke="#cccccc" stroke-width="0.5"/>
<line x1="178.69" y1="272.14" x2="180.38" y2="272.14" stroke="#cccccc" stroke-width="0.5"/>
<line x1="178.69" y1="272.14" x2="178.69" y2="275.20" stroke="#cccccc" stroke-width="0.5"/>
<line x1="180.38" y1="272.14" x2="180.38" y2="275.20" stroke="#cccccc" stroke-width="0.5"/>
<line x1="182.03" y1="272.14" x2="183.64" y2="272.14" stroke="#cccccc" stroke-width="0.5"/>
<line x1="182.03" y1="272.14" x2="182.03" y2="275.20" stroke="#cccccc" stroke-width="0.5"/>
<line x1="183.64" y1="272.14" x2="183.64" y2="275.20" stroke="#cccccc" stroke-width="0.5"/>
<line x1="179.54" y1="270.63" x2="182.84" y2="270.63" stroke="#cccccc" stroke-width="0.5"/>
<line x1="179.54" y1="270.63" x2="179.54" y2="272.14" stroke="#cccccc" stroke-width="0.5"/>
<line x1="182.84" y1="270.63" x2="182.84" y2="272.14" stroke="#cccccc" stroke-width="0.5"/>
<line x1="185.20" y1="273.05" x2="186.64" y2="273.05" stroke="#cccccc" stroke-width="0.5"/>
<line x1="185.20" y1="273.05" x2="185.20" y2="275.20" stroke="#cccccc" stroke-width="0.5"/>
<line x1="186.64" y1="273.05" x2="186.64" y2="275.20" stroke="#cccccc" stroke-width="0.5"/>
<line x1="188.01" y1="273.05" x2="189.16" y2="273.05" stroke="#cccccc" stroke-width="0.5"/>
<line x1="188.01" y1="273.05" x2="188.01" y2="275.20" stroke="#cccccc" stroke-width="0.5"/>
<line x1="189.16" y1="273.05" x2="189.16" y2="275.20" stroke="#cccccc" stroke-width="0.5"/>
<line x1="185.92" y1="270.63" x2="188.58" y2="270.63" stroke="#cccccc" stroke-width="0.5"/>
<line x1="185.92" y1="270.63" x2="185.92" y2="273.05" stroke="#cccccc" stroke-width="0.5"/>
<line x1="188.58" y1="270.63" x2="188.58" y2="273.05" stroke="#cccccc" stroke-width="0.5"/>
<line x1="181.19" y1="268.34" x2="187.25" y2="268.34" stroke="#cccccc" stroke-width="0.5"/>
<line x1="181.19" y1="268.34" x2="181.19" y2="270.63" stroke="#cccccc" stroke-width="0.5"/>
<line x1="187.25" y1="268.34" x2="187.25" y2="270.63" stroke="#cccccc" stroke-width="0.5"/>
<line x1="171.31" y1="266.10" x2="184.22" y2="266.10" stroke="#cccccc" stroke-width="0.5"/>
<line x1="171.31" y1="266.10" x2="171.31" y2="268.34" stroke="#cccccc" stroke-width="0.5"/>
<line x1="184.22" y1="266.10" x2="184.22" y2="268.34" stroke="#cccccc" stroke-width="0.5"/>
<line x1="164.50" y1="264.50" x2="164.50" y2="266.10" stroke="#b8b8b8" stroke-width="0.6"/>
<line x1="154.10" y1="266.10" x2="177.76" y2="266.10" stroke="#b8b8b8" stroke-width="0.6"/>
<line x1="154.10" y1="266.10" x2="154.10" y2="267.30" stroke="#b8b8b8" stroke-width="0.6"/>
<line x1="177.76" y1="266.10" x2="177.76" y2="267.30" stroke="#b8b8b8" stroke-width="0.6"/>
<line x1="8.20" y1="288.00" x2="37.30" y2="288.00" stroke="#b8b8b8" stroke-width="0.7"/>
<line x1="8.20" y1="288.00" x2="8.20" y2="313.10" stroke="#b8b8b8" stroke-width="0.7"/>
<line x1="0.80" y1="300.40" x2="8.20" y2="300.40" stroke="#b8b8b8" stroke-width="0.7"/>
<line x1="11.40" y1="300.10" x2="37.30" y2="300.10" stroke="#b8b8b8" stroke-width="0.7"/>
<line x1="11.40" y1="300.10" x2="11.40" y2="326.30" stroke="#b8b8b8" stroke-width="0.7"/>
<line x1="8.20" y1="313.10" x2="11.40" y2="313.10" stroke="#b8b8b8" stroke-width="0.7"/>
<line x1="13.50" y1="312.40" x2="37.30" y2="312.40" stroke="#b8b8b8" stroke-width="0.7"/>
<line x1="13.50" y1="312.40" x2="13.50" y2="340.00" stroke="#b8b8b8" stroke-width="0.7"/>
<line x1="11.40" y1="326.30" x2="13.50" y2="326.30" stroke="#b8b8b8" stroke-width="0.7"/>
<line x1="17.10" y1="324.70" x2="37.30" y2="324.70" stroke="#b8b8b8" stroke-width="0.7"/>
<line x1="17.10" y1="324.70" x2="17.10" y2="355.20" stroke="#b8b8b8" stroke-width="0.7"/>
<line x1="13.50" y1="340.00" x2="17.10" y2="340.00" stroke="#b8b8b8" stroke-width="0.7"/>
<line x1="19.20" y1="342.60" x2="19.20" y2="367.80" stroke="#b8b8b8" stroke-width="0.7"/>
<line x1="17.10" y1="355.20" x2="19.20" y2="355.20" stroke="#b8b8b8" stroke-width="0.7"/>
<line x1="21.70" y1="336.90" x2="37.30" y2="336.90" stroke="#b8b8b8" stroke-width="0.7"/>
<line x1="21.70" y1="336.90" x2="21.70" y2="349.20" stroke="#b8b8b8" stroke-width="0.7"/>
<line x1="21.70" y1="349.20" x2="37.30" y2="349.20" stroke="#b8b8b8" stroke-width="0.7"/>
<line x1="19.20" y1="342.60" x2="21.70" y2="342.60" stroke="#b8b8b8" stroke-width="0.7"/>
<line x1="20.50" y1="361.50" x2="37.30" y2="361.50" stroke="#b8b8b8" stroke-width="0.7"/>
<line x1="20.50" y1="361.50" x2="20.50" y2="373.80" stroke="#b8b8b8" stroke-width="0.7"/>
<line x1="20.50" y1="373.80" x2="37.30" y2="373.80" stroke="#b8b8b8" stroke-width="0.7"/>
<line x1="19.20" y1="367.80" x2="20.50" y2="367.80" stroke="#b8b8b8" stroke-width="0.7"/>
<line x1="0.80" y1="300.40" x2="0.80" y2="404.80" stroke="#b8b8b8" stroke-width="0.7"/>
<line x1="0.80" y1="404.80" x2="5.40" y2="404.80" stroke="#b8b8b8" stroke-width="0.7"/>
<line x1="5.40" y1="392.20" x2="5.40" y2="417.40" stroke="#b8b8b8" stroke-width="0.7"/>
<line x1="5.40" y1="392.20" x2="14.00" y2="392.20" stroke="#b8b8b8" stroke-width="0.7"/>
<line x1="14.00" y1="386.10" x2="14.00" y2="398.40" stroke="#b8b8b8" stroke-width="0.7"/>
<line x1="14.00" y1="386.10" x2="37.30" y2="386.10" stroke="#b8b8b8" stroke-width="0.7"/>
<line x1="14.00" y1="398.40" x2="37.30" y2="398.40" stroke="#b8b8b8" stroke-width="0.7"/>
<line x1="5.40" y1="417.40" x2="7.50" y2="417.40" stroke="#b8b8b8" stroke-width="0.7"/>
<line x1="7.50" y1="410.70" x2="7.50" y2="423.00" stroke="#b8b8b8" stroke-width="0.7"/>
<line x1="7.50" y1="410.70" x2="37.30" y2="410.70" stroke="#b8b8b8" stroke-width="0.7"/>
<line x1="7.50" y1="423.00" x2="37.30" y2="423.00" stroke="#b8b8b8" stroke-width="0.7"/>
<line x1="190.20" y1="287.65" x2="192.00" y2="287.65" stroke="#222" stroke-width="0.9" />
<text x="193.8" y="287.6" font-size="6.3" fill="#222" text-anchor="start" font-weight="normal" dominant-baseline="central">Tap1</text>
<line x1="190.20" y1="299.94" x2="192.00" y2="299.94" stroke="#222" stroke-width="0.9" />
<text x="193.8" y="299.9" font-size="6.3" fill="#222" text-anchor="start" font-weight="normal" dominant-baseline="central">H2-T23</text>
<line x1="190.20" y1="312.23" x2="192.00" y2="312.23" stroke="#222" stroke-width="0.9" />
<text x="193.8" y="312.2" font-size="6.3" fill="#222" text-anchor="start" font-weight="normal" dominant-baseline="central">H2-Q4</text>
<line x1="190.20" y1="324.52" x2="192.00" y2="324.52" stroke="#222" stroke-width="0.9" />
<text x="193.8" y="324.5" font-size="6.3" fill="#222" text-anchor="start" font-weight="normal" dominant-baseline="central">H2-D1</text>
<line x1="190.20" y1="336.81" x2="192.00" y2="336.81" stroke="#222" stroke-width="0.9" />
<text x="193.8" y="336.8" font-size="6.3" fill="#222" text-anchor="start" font-weight="normal" dominant-baseline="central">H2-Q7</text>
<line x1="190.20" y1="349.10" x2="192.00" y2="349.10" stroke="#222" stroke-width="0.9" />
<text x="193.8" y="349.1" font-size="6.3" fill="#222" text-anchor="start" font-weight="normal" dominant-baseline="central">H2-Q6</text>
<line x1="190.20" y1="361.40" x2="192.00" y2="361.40" stroke="#222" stroke-width="0.9" />
<text x="193.8" y="361.4" font-size="6.3" fill="#222" text-anchor="start" font-weight="normal" dominant-baseline="central">B2m</text>
<line x1="190.20" y1="373.69" x2="192.00" y2="373.69" stroke="#222" stroke-width="0.9" />
<text x="193.8" y="373.7" font-size="6.3" fill="#222" text-anchor="start" font-weight="normal" dominant-baseline="central">H2-K1</text>
<line x1="190.20" y1="385.98" x2="192.00" y2="385.98" stroke="#222" stroke-width="0.9" />
<text x="193.8" y="386.0" font-size="6.3" fill="#222" text-anchor="start" font-weight="normal" dominant-baseline="central">H2-T22</text>
<line x1="190.20" y1="398.27" x2="192.00" y2="398.27" stroke="#222" stroke-width="0.9" />
<text x="193.8" y="398.3" font-size="6.3" fill="#222" text-anchor="start" font-weight="normal" dominant-baseline="central">H2-T10</text>
<line x1="190.20" y1="410.56" x2="192.00" y2="410.56" stroke="#222" stroke-width="0.9" />
<text x="193.8" y="410.6" font-size="6.3" fill="#222" text-anchor="start" font-weight="normal" dominant-baseline="central">Tap2</text>
<line x1="190.20" y1="422.85" x2="192.00" y2="422.85" stroke="#222" stroke-width="0.9" />
<text x="193.8" y="422.9" font-size="6.3" fill="#222" text-anchor="start" font-weight="normal" dominant-baseline="central">H2-Q10</text>
<defs><linearGradient id="cb" x1="0" y1="0" x2="0" y2="1"><stop offset="0.000" stop-color="#003c19"/><stop offset="0.221" stop-color="#237d3c"/><stop offset="0.351" stop-color="#64af64"/><stop offset="0.416" stop-color="#96cd8c"/><stop offset="0.481" stop-color="#c8e8be"/><stop offset="0.519" stop-color="#e6f4e0"/><stop offset="0.545" stop-color="#fafaf8"/><stop offset="0.571" stop-color="#ece2f1"/><stop offset="0.610" stop-color="#d6c0e4"/><stop offset="0.675" stop-color="#b996d0"/><stop offset="0.740" stop-color="#9669b2"/><stop offset="0.870" stop-color="#5f1e73"/><stop offset="1.000" stop-color="#40004b"/></linearGradient></defs>
<rect x="17.1" y="240.8" width="9.7" height="35.7" fill="url(#cb)"/>
<line x1="26.80" y1="241.90" x2="28.60" y2="241.90" stroke="#222" stroke-width="0.8" />
<text x="29.4" y="241.9" font-size="7.3" fill="#333" text-anchor="start" font-weight="normal" dominant-baseline="central">4</text>
<line x1="26.80" y1="250.60" x2="28.60" y2="250.60" stroke="#222" stroke-width="0.8" />
<text x="29.4" y="250.6" font-size="7.3" fill="#333" text-anchor="start" font-weight="normal" dominant-baseline="central">2</text>
<line x1="26.80" y1="259.20" x2="28.60" y2="259.20" stroke="#222" stroke-width="0.8" />
<text x="29.4" y="259.2" font-size="7.3" fill="#333" text-anchor="start" font-weight="normal" dominant-baseline="central">0</text>
<line x1="26.80" y1="268.50" x2="28.60" y2="268.50" stroke="#222" stroke-width="0.8" />
<text x="29.4" y="268.5" font-size="7.3" fill="#333" text-anchor="start" font-weight="normal" dominant-baseline="central">−2</text>
<text x="12.1" y="257.2" font-size="6.3" fill="#333" text-anchor="middle" transform="rotate(-90 12.1 257.2)" dominant-baseline="central">Z score</text>
<rect x="150.2" y="242" width="4.9" height="5.2" fill="#5cb85c"/>
<rect x="150.2" y="252.3" width="4.9" height="5.2" fill="#174a66"/>
<text x="157.2" y="244.8" font-size="7.6" fill="#222" text-anchor="start" font-weight="normal" dominant-baseline="central">KO</text>
<text x="157.2" y="255.1" font-size="7.6" fill="#222" text-anchor="start" font-weight="normal" dominant-baseline="central">WT</text>
<rect x="221.1" y="201.9" width="151.20" height="154.40" fill="none" stroke="#7a7a7a" stroke-width="0.9"/>
<rect x="375.4" y="201.9" width="143.50" height="154.40" fill="none" stroke="#7a7a7a" stroke-width="0.9"/>
<rect x="221.1" y="361.5" width="151.20" height="103.30" fill="none" stroke="#7a7a7a" stroke-width="0.9"/>
<rect x="375.4" y="361.5" width="102.90" height="52.30" fill="none" stroke="#7a7a7a" stroke-width="0.9"/>
<line x1="230.80" y1="214.50" x2="230.80" y2="249.00" stroke="#8a8a8a" stroke-width="0.9" />
<line x1="230.40" y1="249.00" x2="269.30" y2="249.00" stroke="#9a9a9a" stroke-width="1.0" />
<line x1="229.20" y1="247.70" x2="230.80" y2="247.70" stroke="#555" stroke-width="0.8" />
<text x="228.6" y="247.7" font-size="6.4" fill="#333" text-anchor="end" font-weight="normal" dominant-baseline="central">0</text>
<line x1="229.20" y1="240.20" x2="230.80" y2="240.20" stroke="#555" stroke-width="0.8" />
<text x="228.6" y="240.2" font-size="6.4" fill="#333" text-anchor="end" font-weight="normal" dominant-baseline="central">2</text>
<line x1="229.20" y1="232.70" x2="230.80" y2="232.70" stroke="#555" stroke-width="0.8" />
<text x="228.6" y="232.7" font-size="6.4" fill="#333" text-anchor="end" font-weight="normal" dominant-baseline="central">4</text>
<line x1="229.20" y1="225.20" x2="230.80" y2="225.20" stroke="#555" stroke-width="0.8" />
<text x="228.6" y="225.2" font-size="6.4" fill="#333" text-anchor="end" font-weight="normal" dominant-baseline="central">6</text>
<line x1="229.20" y1="217.70" x2="230.80" y2="217.70" stroke="#555" stroke-width="0.8" />
<text x="228.6" y="217.7" font-size="6.4" fill="#333" text-anchor="end" font-weight="normal" dominant-baseline="central">8</text>
<rect x="249.60" y="247.50" width="0.90" height="1.7" fill="#aebcd6"/>
<path d="M250.00,247.70 L249.60,247.70 C249.54,247.10 249.33,245.15 249.20,243.95 C249.07,242.75 248.99,241.40 248.80,240.20 C248.61,239.00 248.54,237.65 248.00,236.45 C247.46,235.25 246.50,233.90 245.40,232.70 C244.30,231.50 242.41,230.15 241.10,228.95 C239.79,227.75 238.24,226.40 237.20,225.20 C236.16,224.00 234.71,222.35 234.60,221.45 C234.49,220.55 234.96,220.47 236.50,219.57 C238.04,218.67 242.44,216.72 244.20,215.82 C245.96,214.92 246.57,214.43 247.50,213.95 C248.43,213.47 249.60,213.00 250.00,212.82 L250.00,212.82 Z" fill="#1d5597" stroke="#163f70" stroke-width="0.35"/>
<path d="M250.00,247.70 L250.50,247.70 C250.55,247.10 250.64,245.45 250.80,243.95 C250.96,242.45 251.15,239.82 251.50,238.32 C251.85,236.82 252.09,235.77 253.00,234.57 C253.91,233.38 255.92,232.02 257.20,230.82 C258.48,229.62 259.77,228.27 261.00,227.07 C262.23,225.88 264.90,224.52 264.90,223.32 C264.90,222.12 262.60,220.77 261.00,219.57 C259.40,218.38 256.34,216.72 254.90,215.82 C253.46,214.92 252.78,214.43 252.00,213.95 C251.22,213.47 250.32,213.00 250.00,212.82 L250.00,212.82 Z" fill="#3aae47" stroke="#2a7e33" stroke-width="0.35"/>
<line x1="250.00" y1="230.82" x2="257.20" y2="230.82" stroke="#1f5a28" stroke-width="0.6" stroke-dasharray="1.3,0.8"/>
<line x1="250.00" y1="224.45" x2="263.73" y2="224.45" stroke="#1f5a28" stroke-width="0.6" stroke-dasharray="1.3,0.8"/>
<line x1="250.00" y1="221.45" x2="262.95" y2="221.45" stroke="#1f5a28" stroke-width="0.6" stroke-dasharray="1.3,0.8"/>
<text x="250.3" y="207.7" font-size="8.4" fill="#222" text-anchor="middle" font-weight="normal" dominant-baseline="central">Ifitm3</text>
<line x1="280.80" y1="209.26" x2="280.80" y2="248.40" stroke="#8a8a8a" stroke-width="0.9" />
<line x1="280.40" y1="248.40" x2="319.30" y2="248.40" stroke="#9a9a9a" stroke-width="1.0" />
<line x1="279.20" y1="247.10" x2="280.80" y2="247.10" stroke="#555" stroke-width="0.8" />
<text x="278.6" y="247.1" font-size="6.4" fill="#333" text-anchor="end" font-weight="normal" dominant-baseline="central">0</text>
<line x1="279.20" y1="238.44" x2="280.80" y2="238.44" stroke="#555" stroke-width="0.8" />
<text x="278.6" y="238.4" font-size="6.4" fill="#333" text-anchor="end" font-weight="normal" dominant-baseline="central">2</text>
<line x1="279.20" y1="229.78" x2="280.80" y2="229.78" stroke="#555" stroke-width="0.8" />
<text x="278.6" y="229.8" font-size="6.4" fill="#333" text-anchor="end" font-weight="normal" dominant-baseline="central">4</text>
<line x1="279.20" y1="221.12" x2="280.80" y2="221.12" stroke="#555" stroke-width="0.8" />
<text x="278.6" y="221.1" font-size="6.4" fill="#333" text-anchor="end" font-weight="normal" dominant-baseline="central">6</text>
<line x1="279.20" y1="212.46" x2="280.80" y2="212.46" stroke="#555" stroke-width="0.8" />
<text x="278.6" y="212.5" font-size="6.4" fill="#333" text-anchor="end" font-weight="normal" dominant-baseline="central">8</text>
<rect x="285.10" y="246.90" width="30.50" height="1.7" fill="#aebcd6"/>
<path d="M300.60,247.10 L285.10,247.10 C285.18,246.89 284.45,246.49 285.60,245.80 C286.75,245.11 290.67,243.95 292.30,242.77 C293.93,241.59 294.81,240.52 295.80,238.44 C296.79,236.36 297.89,232.55 298.50,229.78 C299.11,227.01 299.31,223.82 299.60,221.12 C299.89,218.42 300.19,214.21 300.30,212.89 L300.60,212.89 Z" fill="#1d5597" stroke="#163f70" stroke-width="0.35"/>
<path d="M300.60,247.10 L315.60,247.10 C315.57,247.00 316.52,246.73 315.40,246.45 C314.28,246.17 310.57,245.82 308.60,245.37 C306.63,244.92 303.90,244.19 303.10,243.64 C302.30,243.08 303.49,242.39 303.60,241.90 C303.71,241.42 304.12,241.16 303.80,240.60 C303.48,240.05 302.06,239.13 301.60,238.44 C301.14,237.75 301.01,236.62 300.90,236.28 L300.60,236.28 Z" fill="#3aae47" stroke="#2a7e33" stroke-width="0.35"/>
<text x="301.0" y="208.7" font-size="8.4" fill="#222" text-anchor="middle" font-weight="normal" dominant-baseline="central">Oas2</text>
<line x1="330.80" y1="209.50" x2="330.80" y2="248.40" stroke="#8a8a8a" stroke-width="0.9" />
<line x1="330.40" y1="248.40" x2="369.30" y2="248.40" stroke="#9a9a9a" stroke-width="1.0" />
<line x1="329.20" y1="247.10" x2="330.80" y2="247.10" stroke="#555" stroke-width="0.8" />
<text x="328.6" y="247.1" font-size="6.4" fill="#333" text-anchor="end" font-weight="normal" dominant-baseline="central">0</text>
<line x1="329.20" y1="238.50" x2="330.80" y2="238.50" stroke="#555" stroke-width="0.8" />
<text x="328.6" y="238.5" font-size="6.4" fill="#333" text-anchor="end" font-weight="normal" dominant-baseline="central">2</text>
<line x1="329.20" y1="229.90" x2="330.80" y2="229.90" stroke="#555" stroke-width="0.8" />
<text x="328.6" y="229.9" font-size="6.4" fill="#333" text-anchor="end" font-weight="normal" dominant-baseline="central">4</text>
<line x1="329.20" y1="221.30" x2="330.80" y2="221.30" stroke="#555" stroke-width="0.8" />
<text x="328.6" y="221.3" font-size="6.4" fill="#333" text-anchor="end" font-weight="normal" dominant-baseline="central">6</text>
<line x1="329.20" y1="212.70" x2="330.80" y2="212.70" stroke="#555" stroke-width="0.8" />
<text x="328.6" y="212.7" font-size="6.4" fill="#333" text-anchor="end" font-weight="normal" dominant-baseline="central">8</text>
<rect x="335.20" y="246.90" width="33.80" height="1.7" fill="#aebcd6"/>
<path d="M351.00,247.10 L335.20,247.10 C335.26,246.89 334.93,246.50 335.60,245.81 C336.27,245.12 338.17,243.97 339.40,242.80 C340.63,241.63 341.97,240.56 343.30,238.50 C344.63,236.44 346.71,232.65 347.70,229.90 C348.69,227.15 349.02,223.98 349.50,221.30 C349.98,218.62 350.51,214.44 350.70,213.13 L351.00,213.13 Z" fill="#1d5597" stroke="#163f70" stroke-width="0.35"/>
<path d="M351.00,247.10 L369.00,247.10 C369.00,247.00 370.34,246.80 369.00,246.45 C367.66,246.11 362.57,245.53 360.60,244.95 C358.63,244.37 357.52,243.49 356.70,242.80 C355.88,242.11 355.96,241.34 355.50,240.65 C355.04,239.96 354.28,239.19 353.80,238.50 C353.32,237.81 352.90,237.38 352.50,236.35 C352.10,235.32 351.49,232.74 351.30,232.05 L351.00,232.05 Z" fill="#3aae47" stroke="#2a7e33" stroke-width="0.35"/>
<text x="351.0" y="208.7" font-size="8.4" fill="#222" text-anchor="middle" font-weight="normal" dominant-baseline="central">Oas3</text>
<line x1="230.60" y1="262.10" x2="230.60" y2="299.80" stroke="#8a8a8a" stroke-width="0.9" />
<line x1="230.20" y1="299.80" x2="269.10" y2="299.80" stroke="#9a9a9a" stroke-width="1.0" />
<line x1="229.00" y1="298.50" x2="230.60" y2="298.50" stroke="#555" stroke-width="0.8" />
<text x="228.4" y="298.5" font-size="6.4" fill="#333" text-anchor="end" font-weight="normal" dominant-baseline="central">0</text>
<line x1="229.00" y1="290.20" x2="230.60" y2="290.20" stroke="#555" stroke-width="0.8" />
<text x="228.4" y="290.2" font-size="6.4" fill="#333" text-anchor="end" font-weight="normal" dominant-baseline="central">2</text>
<line x1="229.00" y1="281.90" x2="230.60" y2="281.90" stroke="#555" stroke-width="0.8" />
<text x="228.4" y="281.9" font-size="6.4" fill="#333" text-anchor="end" font-weight="normal" dominant-baseline="central">4</text>
<line x1="229.00" y1="273.60" x2="230.60" y2="273.60" stroke="#555" stroke-width="0.8" />
<text x="228.4" y="273.6" font-size="6.4" fill="#333" text-anchor="end" font-weight="normal" dominant-baseline="central">6</text>
<line x1="229.00" y1="265.30" x2="230.60" y2="265.30" stroke="#555" stroke-width="0.8" />
<text x="228.4" y="265.3" font-size="6.4" fill="#333" text-anchor="end" font-weight="normal" dominant-baseline="central">8</text>
<rect x="234.70" y="298.30" width="31.00" height="1.7" fill="#aebcd6"/>
<path d="M250.20,298.50 L234.70,298.50 C234.78,298.30 234.48,297.92 235.20,297.25 C235.92,296.59 237.92,295.48 239.20,294.35 C240.48,293.22 242.94,291.53 243.20,290.20 C243.46,288.87 241.44,287.38 240.80,286.05 C240.16,284.72 239.30,283.23 239.20,281.90 C239.10,280.57 239.40,279.08 240.20,277.75 C241.00,276.42 242.84,275.26 244.20,273.60 C245.56,271.94 247.79,268.57 248.70,267.38 C249.61,266.18 249.71,266.33 249.90,266.13 L250.20,266.13 Z" fill="#1d5597" stroke="#163f70" stroke-width="0.35"/>
<path d="M250.20,298.50 L265.70,298.50 C265.62,298.37 266.29,298.00 265.20,297.67 C264.11,297.34 260.66,296.96 258.90,296.43 C257.14,295.89 255.19,295.35 254.20,294.35 C253.21,293.35 253.02,291.53 252.70,290.20 C252.38,288.87 252.25,287.38 252.20,286.05 C252.15,284.72 252.34,282.90 252.40,281.90 C252.46,280.90 252.79,280.49 252.60,279.82 C252.41,279.16 251.54,278.28 251.20,277.75 C250.86,277.22 250.61,276.70 250.50,276.50 L250.20,276.50 Z" fill="#3aae47" stroke="#2a7e33" stroke-width="0.35"/>
<text x="250.2" y="259.1" font-size="8.4" fill="#222" text-anchor="middle" font-weight="normal" dominant-baseline="central">Oas1a</text>
<line x1="281.20" y1="259.50" x2="281.20" y2="299.60" stroke="#8a8a8a" stroke-width="0.9" />
<line x1="280.80" y1="299.60" x2="319.70" y2="299.60" stroke="#9a9a9a" stroke-width="1.0" />
<line x1="279.60" y1="298.30" x2="281.20" y2="298.30" stroke="#555" stroke-width="0.8" />
<text x="279.0" y="298.3" font-size="6.4" fill="#333" text-anchor="end" font-weight="normal" dominant-baseline="central">0</text>
<line x1="279.60" y1="289.40" x2="281.20" y2="289.40" stroke="#555" stroke-width="0.8" />
<text x="279.0" y="289.4" font-size="6.4" fill="#333" text-anchor="end" font-weight="normal" dominant-baseline="central">2</text>
<line x1="279.60" y1="280.50" x2="281.20" y2="280.50" stroke="#555" stroke-width="0.8" />
<text x="279.0" y="280.5" font-size="6.4" fill="#333" text-anchor="end" font-weight="normal" dominant-baseline="central">4</text>
<line x1="279.60" y1="271.60" x2="281.20" y2="271.60" stroke="#555" stroke-width="0.8" />
<text x="279.0" y="271.6" font-size="6.4" fill="#333" text-anchor="end" font-weight="normal" dominant-baseline="central">6</text>
<line x1="279.60" y1="262.70" x2="281.20" y2="262.70" stroke="#555" stroke-width="0.8" />
<text x="279.0" y="262.7" font-size="6.4" fill="#333" text-anchor="end" font-weight="normal" dominant-baseline="central">8</text>
<rect x="285.10" y="298.10" width="30.50" height="1.7" fill="#aebcd6"/>
<path d="M300.60,298.30 L285.10,298.30 C285.18,298.09 284.61,297.68 285.60,296.97 C286.59,296.25 289.76,295.06 291.30,293.85 C292.84,292.64 294.42,290.82 295.20,289.40 C295.98,287.98 295.80,287.09 296.20,284.95 C296.60,282.81 297.25,278.54 297.70,276.05 C298.15,273.56 298.58,271.15 299.00,269.38 C299.42,267.60 300.09,265.64 300.30,264.93 L300.60,264.93 Z" fill="#1d5597" stroke="#163f70" stroke-width="0.35"/>
<path d="M300.60,298.30 L315.60,298.30 C315.28,298.16 315.52,297.77 313.60,297.41 C311.68,297.05 305.44,296.64 303.60,296.07 C301.76,295.51 302.42,294.56 302.10,293.85 C301.78,293.14 301.79,292.19 301.60,291.62 C301.41,291.06 301.01,290.50 300.90,290.29 L300.60,290.29 Z" fill="#3aae47" stroke="#2a7e33" stroke-width="0.35"/>
<text x="301.0" y="259.3" font-size="8.4" fill="#222" text-anchor="middle" font-weight="normal" dominant-baseline="central">Oas1g</text>
<line x1="331.20" y1="263.80" x2="331.20" y2="299.50" stroke="#8a8a8a" stroke-width="0.9" />
<line x1="330.80" y1="299.50" x2="369.70" y2="299.50" stroke="#9a9a9a" stroke-width="1.0" />
<line x1="329.60" y1="298.20" x2="331.20" y2="298.20" stroke="#555" stroke-width="0.8" />
<text x="329.0" y="298.2" font-size="6.4" fill="#333" text-anchor="end" font-weight="normal" dominant-baseline="central">0</text>
<line x1="329.60" y1="287.80" x2="331.20" y2="287.80" stroke="#555" stroke-width="0.8" />
<text x="329.0" y="287.8" font-size="6.4" fill="#333" text-anchor="end" font-weight="normal" dominant-baseline="central">2</text>
<line x1="329.60" y1="277.40" x2="331.20" y2="277.40" stroke="#555" stroke-width="0.8" />
<text x="329.0" y="277.4" font-size="6.4" fill="#333" text-anchor="end" font-weight="normal" dominant-baseline="central">4</text>
<line x1="329.60" y1="267.00" x2="331.20" y2="267.00" stroke="#555" stroke-width="0.8" />
<text x="329.0" y="267.0" font-size="6.4" fill="#333" text-anchor="end" font-weight="normal" dominant-baseline="central">6</text>
<rect x="335.10" y="298.00" width="32.20" height="1.7" fill="#aebcd6"/>
<path d="M350.60,298.20 L335.10,298.20 C335.18,297.95 334.75,297.47 335.60,296.64 C336.45,295.81 338.86,294.41 340.40,293.00 C341.94,291.59 343.97,289.46 345.20,287.80 C346.43,286.14 347.48,284.26 348.10,282.60 C348.72,280.94 348.75,280.48 349.10,277.40 C349.45,274.32 350.11,265.61 350.30,263.36 L350.60,263.36 Z" fill="#1d5597" stroke="#163f70" stroke-width="0.35"/>
<path d="M350.60,298.20 L367.30,298.20 C366.71,298.03 365.31,297.58 363.60,297.16 C361.89,296.74 358.04,296.27 356.60,295.60 C355.16,294.93 355.05,293.83 354.60,293.00 C354.15,292.17 354.07,291.23 353.80,290.40 C353.53,289.57 353.36,288.63 352.90,287.80 C352.44,286.97 351.22,285.62 350.90,285.20 L350.60,285.20 Z" fill="#3aae47" stroke="#2a7e33" stroke-width="0.35"/>
<text x="350.4" y="259.3" font-size="8.4" fill="#222" text-anchor="middle" font-weight="normal" dominant-baseline="central">Oasl1</text>
<line x1="230.60" y1="313.70" x2="230.60" y2="353.90" stroke="#8a8a8a" stroke-width="0.9" />
<line x1="230.20" y1="353.90" x2="269.10" y2="353.90" stroke="#9a9a9a" stroke-width="1.0" />
<line x1="229.00" y1="352.60" x2="230.60" y2="352.60" stroke="#555" stroke-width="0.8" />
<text x="228.4" y="352.6" font-size="6.4" fill="#333" text-anchor="end" font-weight="normal" dominant-baseline="central">0</text>
<line x1="229.00" y1="345.46" x2="230.60" y2="345.46" stroke="#555" stroke-width="0.8" />
<text x="228.4" y="345.5" font-size="6.4" fill="#333" text-anchor="end" font-weight="normal" dominant-baseline="central">2</text>
<line x1="229.00" y1="338.32" x2="230.60" y2="338.32" stroke="#555" stroke-width="0.8" />
<text x="228.4" y="338.3" font-size="6.4" fill="#333" text-anchor="end" font-weight="normal" dominant-baseline="central">4</text>
<line x1="229.00" y1="331.18" x2="230.60" y2="331.18" stroke="#555" stroke-width="0.8" />
<text x="228.4" y="331.2" font-size="6.4" fill="#333" text-anchor="end" font-weight="normal" dominant-baseline="central">6</text>
<line x1="229.00" y1="324.04" x2="230.60" y2="324.04" stroke="#555" stroke-width="0.8" />
<text x="228.4" y="324.0" font-size="6.4" fill="#333" text-anchor="end" font-weight="normal" dominant-baseline="central">8</text>
<line x1="229.00" y1="316.90" x2="230.60" y2="316.90" stroke="#555" stroke-width="0.8" />
<text x="228.4" y="316.9" font-size="6.4" fill="#333" text-anchor="end" font-weight="normal" dominant-baseline="central">10</text>
<rect x="238.40" y="352.40" width="31.00" height="1.7" fill="#aebcd6"/>
<path d="M253.90,352.60 L238.40,352.60 C238.40,352.03 238.27,350.74 238.40,349.03 C238.53,347.32 238.96,344.17 239.20,341.89 C239.44,339.61 239.63,337.03 239.90,334.75 C240.17,332.47 240.10,329.32 240.90,327.61 C241.70,325.90 243.62,325.18 244.90,324.04 C246.18,322.90 247.54,321.21 248.90,320.47 C250.26,319.73 252.68,319.57 253.40,319.40 L253.90,319.40 Z" fill="#1d5597" stroke="#163f70" stroke-width="0.35"/>
<path d="M253.90,352.60 L269.40,352.60 C269.32,352.43 269.46,352.10 268.90,351.53 C268.34,350.96 267.02,350.00 265.90,349.03 C264.78,348.06 263.02,346.60 261.90,345.46 C260.78,344.32 259.54,343.03 258.90,341.89 C258.26,340.75 257.98,339.46 257.90,338.32 C257.82,337.18 258.48,335.89 258.40,334.75 C258.32,333.61 257.80,332.89 257.40,331.18 C257.00,329.47 256.38,325.75 255.90,324.04 C255.42,322.33 254.64,321.04 254.40,320.47 L253.90,320.47 Z" fill="#3aae47" stroke="#2a7e33" stroke-width="0.35"/>
<line x1="253.90" y1="347.25" x2="263.90" y2="347.25" stroke="#1f5a28" stroke-width="0.6" stroke-dasharray="1.3,0.8"/>
<line x1="253.90" y1="338.32" x2="257.90" y2="338.32" stroke="#1f5a28" stroke-width="0.6" stroke-dasharray="1.3,0.8"/>
<text x="254.2" y="312.9" font-size="8.4" fill="#222" text-anchor="middle" font-weight="normal" dominant-baseline="central">Oasl2</text>
<line x1="281.20" y1="317.06" x2="281.20" y2="353.40" stroke="#8a8a8a" stroke-width="0.9" />
<line x1="280.80" y1="353.40" x2="319.70" y2="353.40" stroke="#9a9a9a" stroke-width="1.0" />
<line x1="279.60" y1="352.10" x2="281.20" y2="352.10" stroke="#555" stroke-width="0.8" />
<text x="279.0" y="352.1" font-size="6.4" fill="#333" text-anchor="end" font-weight="normal" dominant-baseline="central">0</text>
<line x1="279.60" y1="344.14" x2="281.20" y2="344.14" stroke="#555" stroke-width="0.8" />
<text x="279.0" y="344.1" font-size="6.4" fill="#333" text-anchor="end" font-weight="normal" dominant-baseline="central">2</text>
<line x1="279.60" y1="336.18" x2="281.20" y2="336.18" stroke="#555" stroke-width="0.8" />
<text x="279.0" y="336.2" font-size="6.4" fill="#333" text-anchor="end" font-weight="normal" dominant-baseline="central">4</text>
<line x1="279.60" y1="328.22" x2="281.20" y2="328.22" stroke="#555" stroke-width="0.8" />
<text x="279.0" y="328.2" font-size="6.4" fill="#333" text-anchor="end" font-weight="normal" dominant-baseline="central">6</text>
<line x1="279.60" y1="320.26" x2="281.20" y2="320.26" stroke="#555" stroke-width="0.8" />
<text x="279.0" y="320.3" font-size="6.4" fill="#333" text-anchor="end" font-weight="normal" dominant-baseline="central">8</text>
<rect x="285.00" y="351.90" width="30.40" height="1.7" fill="#aebcd6"/>
<path d="M300.00,352.10 L285.00,352.10 C285.10,351.91 284.59,351.54 285.60,350.91 C286.61,350.27 289.60,349.20 291.30,348.12 C293.00,347.04 295.29,345.41 296.20,344.14 C297.11,342.87 296.79,341.43 297.00,340.16 C297.21,338.89 297.34,338.73 297.50,336.18 C297.66,333.63 297.95,326.79 298.00,324.24 C298.05,321.69 297.61,321.22 297.80,320.26 C297.99,319.30 298.98,318.59 299.20,318.27 L300.00,318.27 Z" fill="#1d5597" stroke="#163f70" stroke-width="0.35"/>
<path d="M300.00,352.10 L315.40,352.10 C315.40,352.04 316.02,352.02 315.40,351.70 C314.78,351.38 313.04,350.68 311.50,350.11 C309.96,349.54 307.00,348.76 305.80,348.12 C304.60,347.48 304.46,346.77 304.00,346.13 C303.54,345.49 303.48,344.97 302.90,344.14 C302.32,343.31 300.80,341.47 300.40,340.96 L300.00,340.96 Z" fill="#3aae47" stroke="#2a7e33" stroke-width="0.35"/>
<text x="300.6" y="312.7" font-size="8.4" fill="#222" text-anchor="middle" font-weight="normal" dominant-baseline="central">Rsad2</text>
<line x1="331.30" y1="319.48" x2="331.30" y2="353.80" stroke="#8a8a8a" stroke-width="0.9" />
<line x1="330.90" y1="353.80" x2="369.80" y2="353.80" stroke="#9a9a9a" stroke-width="1.0" />
<line x1="329.70" y1="352.50" x2="331.30" y2="352.50" stroke="#555" stroke-width="0.8" />
<text x="329.1" y="352.5" font-size="6.4" fill="#333" text-anchor="end" font-weight="normal" dominant-baseline="central">0</text>
<line x1="329.70" y1="342.56" x2="331.30" y2="342.56" stroke="#555" stroke-width="0.8" />
<text x="329.1" y="342.6" font-size="6.4" fill="#333" text-anchor="end" font-weight="normal" dominant-baseline="central">2</text>
<line x1="329.70" y1="332.62" x2="331.30" y2="332.62" stroke="#555" stroke-width="0.8" />
<text x="329.1" y="332.6" font-size="6.4" fill="#333" text-anchor="end" font-weight="normal" dominant-baseline="central">4</text>
<line x1="329.70" y1="322.68" x2="331.30" y2="322.68" stroke="#555" stroke-width="0.8" />
<text x="329.1" y="322.7" font-size="6.4" fill="#333" text-anchor="end" font-weight="normal" dominant-baseline="central">6</text>
<rect x="335.40" y="352.30" width="30.00" height="1.7" fill="#aebcd6"/>
<path d="M350.40,352.50 L335.40,352.50 C335.43,352.26 334.80,351.80 335.60,351.01 C336.40,350.21 338.70,348.88 340.40,347.53 C342.10,346.18 345.00,344.15 346.20,342.56 C347.40,340.97 347.47,339.18 347.90,337.59 C348.33,336.00 348.55,335.96 348.90,332.62 C349.25,329.28 349.91,319.26 350.10,316.72 L350.40,316.72 Z" fill="#1d5597" stroke="#163f70" stroke-width="0.35"/>
<path d="M350.40,352.50 L365.40,352.50 C365.40,352.42 365.86,352.40 365.40,352.00 C364.94,351.61 363.89,350.73 362.50,350.01 C361.11,349.30 357.77,348.33 356.70,347.53 C355.63,346.73 356.10,346.24 355.80,345.05 C355.50,343.85 355.42,341.27 354.80,340.07 C354.18,338.88 352.56,339.58 351.90,337.59 C351.24,335.60 350.89,329.24 350.70,327.65 L350.40,327.65 Z" fill="#3aae47" stroke="#2a7e33" stroke-width="0.35"/>
<text x="350.4" y="312.7" font-size="8.4" fill="#222" text-anchor="middle" font-weight="normal" dominant-baseline="central">Mx2</text>
<line x1="384.60" y1="214.14" x2="384.60" y2="248.40" stroke="#8a8a8a" stroke-width="0.9" />
<line x1="384.20" y1="248.40" x2="423.10" y2="248.40" stroke="#9a9a9a" stroke-width="1.0" />
<line x1="383.00" y1="247.10" x2="384.60" y2="247.10" stroke="#555" stroke-width="0.8" />
<text x="382.4" y="247.1" font-size="6.4" fill="#333" text-anchor="end" font-weight="normal" dominant-baseline="central">0</text>
<line x1="383.00" y1="239.66" x2="384.60" y2="239.66" stroke="#555" stroke-width="0.8" />
<text x="382.4" y="239.7" font-size="6.4" fill="#333" text-anchor="end" font-weight="normal" dominant-baseline="central">2</text>
<line x1="383.00" y1="232.22" x2="384.60" y2="232.22" stroke="#555" stroke-width="0.8" />
<text x="382.4" y="232.2" font-size="6.4" fill="#333" text-anchor="end" font-weight="normal" dominant-baseline="central">4</text>
<line x1="383.00" y1="224.78" x2="384.60" y2="224.78" stroke="#555" stroke-width="0.8" />
<text x="382.4" y="224.8" font-size="6.4" fill="#333" text-anchor="end" font-weight="normal" dominant-baseline="central">6</text>
<line x1="383.00" y1="217.34" x2="384.60" y2="217.34" stroke="#555" stroke-width="0.8" />
<text x="382.4" y="217.3" font-size="6.4" fill="#333" text-anchor="end" font-weight="normal" dominant-baseline="central">8</text>
<rect x="394.00" y="246.90" width="23.70" height="1.7" fill="#aebcd6"/>
<path d="M402.50,247.10 L394.00,247.10 C393.97,246.50 393.77,244.57 393.80,243.38 C393.83,242.19 394.44,240.85 394.20,239.66 C393.96,238.47 392.97,237.13 392.30,235.94 C391.63,234.75 390.46,233.41 390.00,232.22 C389.54,231.03 389.34,229.69 389.40,228.50 C389.46,227.31 389.78,225.97 390.40,224.78 C391.02,223.59 392.07,222.55 393.30,221.06 C394.53,219.57 396.71,216.85 398.10,215.48 C399.49,214.11 401.38,212.98 402.00,212.50 L402.50,212.50 Z" fill="#1d5597" stroke="#163f70" stroke-width="0.35"/>
<path d="M402.50,247.10 L417.70,247.10 C417.48,246.50 416.83,244.57 416.30,243.38 C415.77,242.19 415.25,240.85 414.40,239.66 C413.55,238.47 411.46,236.83 411.00,235.94 C410.54,235.05 410.96,234.85 411.50,234.08 C412.04,233.31 414.08,232.00 414.40,231.10 C414.72,230.21 414.11,229.51 413.50,228.50 C412.89,227.49 411.37,225.97 410.60,224.78 C409.83,223.59 409.47,222.25 408.70,221.06 C407.93,219.87 406.74,218.71 405.80,217.34 C404.86,215.97 403.28,213.28 402.80,212.50 L402.50,212.50 Z" fill="#3aae47" stroke="#2a7e33" stroke-width="0.35"/>
<line x1="402.50" y1="238.54" x2="413.38" y2="238.54" stroke="#1f5a28" stroke-width="0.6" stroke-dasharray="1.3,0.8"/>
<line x1="402.50" y1="229.99" x2="414.01" y2="229.99" stroke="#1f5a28" stroke-width="0.6" stroke-dasharray="1.3,0.8"/>
<text x="401.9" y="208.7" font-size="8.4" fill="#222" text-anchor="middle" font-weight="normal" dominant-baseline="central">Irf1</text>
<line x1="431.00" y1="213.66" x2="431.00" y2="248.40" stroke="#8a8a8a" stroke-width="0.9" />
<line x1="430.60" y1="248.40" x2="469.50" y2="248.40" stroke="#9a9a9a" stroke-width="1.0" />
<line x1="429.40" y1="247.10" x2="431.00" y2="247.10" stroke="#555" stroke-width="0.8" />
<text x="428.8" y="247.1" font-size="6.4" fill="#333" text-anchor="end" font-weight="normal" dominant-baseline="central">0</text>
<line x1="429.40" y1="239.54" x2="431.00" y2="239.54" stroke="#555" stroke-width="0.8" />
<text x="428.8" y="239.5" font-size="6.4" fill="#333" text-anchor="end" font-weight="normal" dominant-baseline="central">2</text>
<line x1="429.40" y1="231.98" x2="431.00" y2="231.98" stroke="#555" stroke-width="0.8" />
<text x="428.8" y="232.0" font-size="6.4" fill="#333" text-anchor="end" font-weight="normal" dominant-baseline="central">4</text>
<line x1="429.40" y1="224.42" x2="431.00" y2="224.42" stroke="#555" stroke-width="0.8" />
<text x="428.8" y="224.4" font-size="6.4" fill="#333" text-anchor="end" font-weight="normal" dominant-baseline="central">6</text>
<line x1="429.40" y1="216.86" x2="431.00" y2="216.86" stroke="#555" stroke-width="0.8" />
<text x="428.8" y="216.9" font-size="6.4" fill="#333" text-anchor="end" font-weight="normal" dominant-baseline="central">8</text>
<rect x="435.90" y="246.90" width="28.50" height="1.7" fill="#aebcd6"/>
<path d="M450.40,247.10 L435.90,247.10 C435.95,246.92 435.64,246.57 436.20,245.97 C436.76,245.36 438.26,244.35 439.40,243.32 C440.54,242.29 442.21,240.75 443.30,239.54 C444.39,238.33 445.50,236.97 446.20,235.76 C446.90,234.55 447.30,233.79 447.70,231.98 C448.10,230.17 448.51,226.84 448.70,224.42 C448.89,222.00 448.71,218.61 448.90,216.86 C449.09,215.11 449.74,214.00 449.90,213.46 L450.40,213.46 Z" fill="#1d5597" stroke="#163f70" stroke-width="0.35"/>
<path d="M450.40,247.10 L464.40,247.10 C464.40,247.01 465.47,246.84 464.40,246.53 C463.33,246.23 459.40,245.72 457.70,245.21 C456.00,244.70 454.49,243.92 453.80,243.32 C453.11,242.72 453.70,242.03 453.40,241.43 C453.10,240.83 452.33,240.14 451.90,239.54 C451.47,238.94 450.89,237.95 450.70,237.65 L450.40,237.65 Z" fill="#3aae47" stroke="#2a7e33" stroke-width="0.35"/>
<text x="450.4" y="208.7" font-size="8.4" fill="#222" text-anchor="middle" font-weight="normal" dominant-baseline="central">Irf7</text>
<line x1="481.20" y1="212.18" x2="481.20" y2="249.00" stroke="#8a8a8a" stroke-width="0.9" />
<line x1="480.80" y1="249.00" x2="519.70" y2="249.00" stroke="#9a9a9a" stroke-width="1.0" />
<line x1="479.60" y1="247.70" x2="481.20" y2="247.70" stroke="#555" stroke-width="0.8" />
<text x="479.0" y="247.7" font-size="6.4" fill="#333" text-anchor="end" font-weight="normal" dominant-baseline="central">0</text>
<line x1="479.60" y1="239.62" x2="481.20" y2="239.62" stroke="#555" stroke-width="0.8" />
<text x="479.0" y="239.6" font-size="6.4" fill="#333" text-anchor="end" font-weight="normal" dominant-baseline="central">2</text>
<line x1="479.60" y1="231.54" x2="481.20" y2="231.54" stroke="#555" stroke-width="0.8" />
<text x="479.0" y="231.5" font-size="6.4" fill="#333" text-anchor="end" font-weight="normal" dominant-baseline="central">4</text>
<line x1="479.60" y1="223.46" x2="481.20" y2="223.46" stroke="#555" stroke-width="0.8" />
<text x="479.0" y="223.5" font-size="6.4" fill="#333" text-anchor="end" font-weight="normal" dominant-baseline="central">6</text>
<line x1="479.60" y1="215.38" x2="481.20" y2="215.38" stroke="#555" stroke-width="0.8" />
<text x="479.0" y="215.4" font-size="6.4" fill="#333" text-anchor="end" font-weight="normal" dominant-baseline="central">8</text>
<rect x="487.70" y="247.50" width="26.10" height="1.7" fill="#aebcd6"/>
<path d="M499.20,247.70 L487.70,247.70 C487.65,247.57 487.64,247.54 487.40,246.89 C487.16,246.25 486.46,244.82 486.20,243.66 C485.94,242.50 485.80,240.91 485.80,239.62 C485.80,238.33 486.20,237.52 486.20,235.58 C486.20,233.64 485.61,229.44 485.80,227.50 C485.99,225.56 486.60,224.75 487.40,223.46 C488.20,222.17 489.65,220.71 490.80,219.42 C491.95,218.13 493.30,216.54 494.60,215.38 C495.90,214.22 498.21,212.67 498.90,212.15 L499.20,212.15 Z" fill="#1d5597" stroke="#163f70" stroke-width="0.35"/>
<path d="M499.20,247.70 L513.80,247.70 C513.69,247.38 513.58,246.52 513.10,245.68 C512.62,244.84 511.66,243.42 510.80,242.45 C509.94,241.48 508.56,240.72 507.70,239.62 C506.84,238.52 505.94,236.87 505.40,235.58 C504.86,234.29 504.62,232.83 504.30,231.54 C503.98,230.25 503.59,228.79 503.40,227.50 C503.21,226.21 503.28,225.08 503.10,223.46 C502.92,221.84 502.60,218.56 502.30,217.40 C502.00,216.24 501.62,216.51 501.20,216.19 C500.78,215.86 499.94,215.51 499.70,215.38 L499.20,215.38 Z" fill="#3aae47" stroke="#2a7e33" stroke-width="0.35"/>
<line x1="499.20" y1="242.45" x2="510.80" y2="242.45" stroke="#1f5a28" stroke-width="0.6" stroke-dasharray="1.3,0.8"/>
<text x="499.2" y="209.2" font-size="8.4" fill="#222" text-anchor="middle" font-weight="normal" dominant-baseline="central">Irf9</text>
<line x1="384.60" y1="265.72" x2="384.60" y2="299.50" stroke="#8a8a8a" stroke-width="0.9" />
<line x1="384.20" y1="299.50" x2="423.10" y2="299.50" stroke="#9a9a9a" stroke-width="1.0" />
<line x1="383.00" y1="298.20" x2="384.60" y2="298.20" stroke="#555" stroke-width="0.8" />
<text x="382.4" y="298.2" font-size="6.4" fill="#333" text-anchor="end" font-weight="normal" dominant-baseline="central">0</text>
<line x1="383.00" y1="290.88" x2="384.60" y2="290.88" stroke="#555" stroke-width="0.8" />
<text x="382.4" y="290.9" font-size="6.4" fill="#333" text-anchor="end" font-weight="normal" dominant-baseline="central">2</text>
<line x1="383.00" y1="283.56" x2="384.60" y2="283.56" stroke="#555" stroke-width="0.8" />
<text x="382.4" y="283.6" font-size="6.4" fill="#333" text-anchor="end" font-weight="normal" dominant-baseline="central">4</text>
<line x1="383.00" y1="276.24" x2="384.60" y2="276.24" stroke="#555" stroke-width="0.8" />
<text x="382.4" y="276.2" font-size="6.4" fill="#333" text-anchor="end" font-weight="normal" dominant-baseline="central">6</text>
<line x1="383.00" y1="268.92" x2="384.60" y2="268.92" stroke="#555" stroke-width="0.8" />
<text x="382.4" y="268.9" font-size="6.4" fill="#333" text-anchor="end" font-weight="normal" dominant-baseline="central">8</text>
<rect x="388.50" y="298.00" width="30.30" height="1.7" fill="#aebcd6"/>
<path d="M403.80,298.20 L388.50,298.20 C388.50,298.08 388.20,297.88 388.50,297.47 C388.80,297.06 389.49,296.40 390.40,295.64 C391.31,294.88 393.03,293.76 394.20,292.71 C395.37,291.66 397.08,290.51 397.70,289.05 C398.32,287.59 397.97,285.61 398.10,283.56 C398.23,281.51 398.26,278.00 398.50,276.24 C398.74,274.48 399.10,273.81 399.60,272.58 C400.10,271.35 401.17,269.32 401.60,268.55 C402.03,267.79 402.19,267.94 402.30,267.82 L403.80,267.82 Z" fill="#1d5597" stroke="#163f70" stroke-width="0.35"/>
<path d="M403.80,298.20 L418.80,298.20 C418.80,298.08 420.72,297.67 418.80,297.47 C416.88,297.26 408.96,297.09 406.80,296.92 C404.64,296.74 405.73,296.57 405.30,296.37 C404.87,296.17 404.29,295.76 404.10,295.64 L403.80,295.64 Z" fill="#3aae47" stroke="#2a7e33" stroke-width="0.35"/>
<text x="403.8" y="260.7" font-size="8.4" fill="#222" text-anchor="middle" font-weight="normal" dominant-baseline="central">GM4951</text>
<line x1="431.20" y1="262.28" x2="431.20" y2="299.50" stroke="#8a8a8a" stroke-width="0.9" />
<line x1="430.80" y1="299.50" x2="469.70" y2="299.50" stroke="#9a9a9a" stroke-width="1.0" />
<line x1="429.60" y1="298.20" x2="431.20" y2="298.20" stroke="#555" stroke-width="0.8" />
<text x="429.0" y="298.2" font-size="6.4" fill="#333" text-anchor="end" font-weight="normal" dominant-baseline="central">0</text>
<line x1="429.60" y1="290.02" x2="431.20" y2="290.02" stroke="#555" stroke-width="0.8" />
<text x="429.0" y="290.0" font-size="6.4" fill="#333" text-anchor="end" font-weight="normal" dominant-baseline="central">2</text>
<line x1="429.60" y1="281.84" x2="431.20" y2="281.84" stroke="#555" stroke-width="0.8" />
<text x="429.0" y="281.8" font-size="6.4" fill="#333" text-anchor="end" font-weight="normal" dominant-baseline="central">4</text>
<line x1="429.60" y1="273.66" x2="431.20" y2="273.66" stroke="#555" stroke-width="0.8" />
<text x="429.0" y="273.7" font-size="6.4" fill="#333" text-anchor="end" font-weight="normal" dominant-baseline="central">6</text>
<line x1="429.60" y1="265.48" x2="431.20" y2="265.48" stroke="#555" stroke-width="0.8" />
<text x="429.0" y="265.5" font-size="6.4" fill="#333" text-anchor="end" font-weight="normal" dominant-baseline="central">8</text>
<rect x="438.10" y="298.00" width="27.80" height="1.7" fill="#aebcd6"/>
<path d="M451.90,298.20 L438.10,298.20 C438.16,298.00 437.59,297.63 438.50,296.97 C439.41,296.32 442.42,294.90 443.80,294.11 C445.18,293.32 446.36,292.72 447.10,292.06 C447.84,291.41 448.14,291.00 448.40,290.02 C448.66,289.04 448.60,287.24 448.70,285.93 C448.80,284.62 448.81,283.80 449.00,281.84 C449.19,279.88 449.52,275.88 449.90,273.66 C450.28,271.44 451.16,268.85 451.40,267.93 L451.90,267.93 Z" fill="#1d5597" stroke="#163f70" stroke-width="0.35"/>
<path d="M451.90,298.20 L465.90,298.20 C465.90,298.00 467.82,297.27 465.90,296.97 C463.98,296.68 456.09,296.56 453.90,296.36 C451.71,296.16 452.47,295.84 452.20,295.75 L451.90,295.75 Z" fill="#3aae47" stroke="#2a7e33" stroke-width="0.35"/>
<text x="451.9" y="260.7" font-size="8.4" fill="#222" text-anchor="middle" font-weight="normal" dominant-baseline="central">GM12250</text>
<line x1="481.20" y1="262.16" x2="481.20" y2="299.30" stroke="#8a8a8a" stroke-width="0.9" />
<line x1="480.80" y1="299.30" x2="519.70" y2="299.30" stroke="#9a9a9a" stroke-width="1.0" />
<line x1="479.60" y1="298.00" x2="481.20" y2="298.00" stroke="#555" stroke-width="0.8" />
<text x="479.0" y="298.0" font-size="6.4" fill="#333" text-anchor="end" font-weight="normal" dominant-baseline="central">0</text>
<line x1="479.60" y1="289.84" x2="481.20" y2="289.84" stroke="#555" stroke-width="0.8" />
<text x="479.0" y="289.8" font-size="6.4" fill="#333" text-anchor="end" font-weight="normal" dominant-baseline="central">2</text>
<line x1="479.60" y1="281.68" x2="481.20" y2="281.68" stroke="#555" stroke-width="0.8" />
<text x="479.0" y="281.7" font-size="6.4" fill="#333" text-anchor="end" font-weight="normal" dominant-baseline="central">4</text>
<line x1="479.60" y1="273.52" x2="481.20" y2="273.52" stroke="#555" stroke-width="0.8" />
<text x="479.0" y="273.5" font-size="6.4" fill="#333" text-anchor="end" font-weight="normal" dominant-baseline="central">6</text>
<line x1="479.60" y1="265.36" x2="481.20" y2="265.36" stroke="#555" stroke-width="0.8" />
<text x="479.0" y="265.4" font-size="6.4" fill="#333" text-anchor="end" font-weight="normal" dominant-baseline="central">8</text>
<rect x="485.90" y="297.80" width="27.80" height="1.7" fill="#aebcd6"/>
<path d="M499.70,298.00 L485.90,298.00 C485.95,297.80 485.54,297.43 486.20,296.78 C486.86,296.12 488.78,295.03 490.00,293.92 C491.22,292.81 492.81,291.15 493.80,289.84 C494.79,288.53 495.70,287.07 496.20,285.76 C496.70,284.45 496.74,282.99 496.90,281.68 C497.06,280.37 497.20,279.23 497.20,277.60 C497.20,275.97 496.82,272.92 496.90,271.48 C496.98,270.04 497.41,269.18 497.70,268.62 C497.99,268.07 498.54,268.11 498.70,268.01 L499.70,268.01 Z" fill="#1d5597" stroke="#163f70" stroke-width="0.35"/>
<path d="M499.70,298.00 L513.70,298.00 C513.70,297.80 515.62,297.07 513.70,296.78 C511.78,296.48 503.89,296.36 501.70,296.16 C499.51,295.97 500.27,295.65 500.00,295.55 L499.70,295.55 Z" fill="#3aae47" stroke="#2a7e33" stroke-width="0.35"/>
<text x="499.5" y="260.7" font-size="8.4" fill="#222" text-anchor="middle" font-weight="normal" dominant-baseline="central">Iigp1</text>
<line x1="384.00" y1="314.62" x2="384.00" y2="354.00" stroke="#8a8a8a" stroke-width="0.9" />
<line x1="383.60" y1="354.00" x2="422.50" y2="354.00" stroke="#9a9a9a" stroke-width="1.0" />
<line x1="382.40" y1="352.70" x2="384.00" y2="352.70" stroke="#555" stroke-width="0.8" />
<text x="381.8" y="352.7" font-size="6.4" fill="#333" text-anchor="end" font-weight="normal" dominant-baseline="central">0</text>
<line x1="382.40" y1="343.98" x2="384.00" y2="343.98" stroke="#555" stroke-width="0.8" />
<text x="381.8" y="344.0" font-size="6.4" fill="#333" text-anchor="end" font-weight="normal" dominant-baseline="central">2</text>
<line x1="382.40" y1="335.26" x2="384.00" y2="335.26" stroke="#555" stroke-width="0.8" />
<text x="381.8" y="335.3" font-size="6.4" fill="#333" text-anchor="end" font-weight="normal" dominant-baseline="central">4</text>
<line x1="382.40" y1="326.54" x2="384.00" y2="326.54" stroke="#555" stroke-width="0.8" />
<text x="381.8" y="326.5" font-size="6.4" fill="#333" text-anchor="end" font-weight="normal" dominant-baseline="central">6</text>
<line x1="382.40" y1="317.82" x2="384.00" y2="317.82" stroke="#555" stroke-width="0.8" />
<text x="381.8" y="317.8" font-size="6.4" fill="#333" text-anchor="end" font-weight="normal" dominant-baseline="central">8</text>
<rect x="393.80" y="352.50" width="21.60" height="1.7" fill="#aebcd6"/>
<path d="M403.80,352.70 L393.80,352.70 C393.80,352.56 393.88,352.53 393.80,351.83 C393.72,351.13 393.60,349.60 393.30,348.34 C393.00,347.08 392.36,345.38 391.90,343.98 C391.44,342.58 390.90,341.02 390.40,339.62 C389.90,338.22 388.66,336.66 388.80,335.26 C388.94,333.86 390.44,332.30 391.30,330.90 C392.16,329.50 393.11,327.94 394.20,326.54 C395.29,325.14 397.01,323.16 398.10,322.18 C399.19,321.20 400.54,320.72 401.00,320.44 L403.80,320.44 Z" fill="#1d5597" stroke="#163f70" stroke-width="0.35"/>
<path d="M403.80,352.70 L415.40,352.70 C415.40,352.49 416.02,352.09 415.40,351.39 C414.78,350.69 412.43,349.53 411.50,348.34 C410.57,347.15 409.97,345.38 409.60,343.98 C409.23,342.58 409.44,341.02 409.20,339.62 C408.96,338.22 408.40,336.66 408.10,335.26 C407.80,333.86 407.67,332.64 407.30,330.90 C406.93,329.16 406.28,325.76 405.80,324.36 C405.32,322.96 404.54,322.53 404.30,322.18 L403.80,322.18 Z" fill="#3aae47" stroke="#2a7e33" stroke-width="0.35"/>
<line x1="403.80" y1="347.47" x2="411.12" y2="347.47" stroke="#1f5a28" stroke-width="0.6" stroke-dasharray="1.3,0.8"/>
<line x1="403.80" y1="341.80" x2="409.40" y2="341.80" stroke="#1f5a28" stroke-width="0.6" stroke-dasharray="1.3,0.8"/>
<line x1="403.80" y1="337.44" x2="408.65" y2="337.44" stroke="#1f5a28" stroke-width="0.6" stroke-dasharray="1.3,0.8"/>
<text x="403.8" y="313.6" font-size="8.4" fill="#222" text-anchor="middle" font-weight="normal" dominant-baseline="central">Tgtp2</text>
<line x1="430.80" y1="319.06" x2="430.80" y2="353.40" stroke="#8a8a8a" stroke-width="0.9" />
<line x1="430.40" y1="353.40" x2="469.30" y2="353.40" stroke="#9a9a9a" stroke-width="1.0" />
<line x1="429.20" y1="352.10" x2="430.80" y2="352.10" stroke="#555" stroke-width="0.8" />
<text x="428.6" y="352.1" font-size="6.4" fill="#333" text-anchor="end" font-weight="normal" dominant-baseline="central">0</text>
<line x1="429.20" y1="344.64" x2="430.80" y2="344.64" stroke="#555" stroke-width="0.8" />
<text x="428.6" y="344.6" font-size="6.4" fill="#333" text-anchor="end" font-weight="normal" dominant-baseline="central">2</text>
<line x1="429.20" y1="337.18" x2="430.80" y2="337.18" stroke="#555" stroke-width="0.8" />
<text x="428.6" y="337.2" font-size="6.4" fill="#333" text-anchor="end" font-weight="normal" dominant-baseline="central">4</text>
<line x1="429.20" y1="329.72" x2="430.80" y2="329.72" stroke="#555" stroke-width="0.8" />
<text x="428.6" y="329.7" font-size="6.4" fill="#333" text-anchor="end" font-weight="normal" dominant-baseline="central">6</text>
<line x1="429.20" y1="322.26" x2="430.80" y2="322.26" stroke="#555" stroke-width="0.8" />
<text x="428.6" y="322.3" font-size="6.4" fill="#333" text-anchor="end" font-weight="normal" dominant-baseline="central">8</text>
<rect x="434.60" y="351.90" width="30.80" height="1.7" fill="#aebcd6"/>
<path d="M451.90,352.10 L434.60,352.10 C434.60,351.98 433.98,351.77 434.60,351.35 C435.22,350.94 437.27,350.26 438.50,349.49 C439.73,348.71 441.39,347.58 442.30,346.50 C443.21,345.43 443.74,343.97 444.20,342.78 C444.66,341.58 445.26,339.94 445.20,339.05 C445.14,338.15 443.80,338.08 443.80,337.18 C443.80,336.28 444.77,334.64 445.20,333.45 C445.63,332.26 446.10,331.21 446.50,329.72 C446.90,328.23 447.24,325.50 447.70,324.12 C448.16,322.75 448.89,321.74 449.40,321.14 C449.91,320.54 450.66,320.51 450.90,320.40 L451.90,320.40 Z" fill="#1d5597" stroke="#163f70" stroke-width="0.35"/>
<path d="M451.90,352.10 L465.40,352.10 C465.40,351.98 466.63,351.65 465.40,351.35 C464.17,351.06 459.70,350.59 457.70,350.24 C455.70,349.88 453.78,349.41 452.90,349.12 C452.02,348.82 452.31,348.49 452.20,348.37 L451.90,348.37 Z" fill="#3aae47" stroke="#2a7e33" stroke-width="0.35"/>
<text x="451.5" y="313.6" font-size="8.4" fill="#222" text-anchor="middle" font-weight="normal" dominant-baseline="central">Ifi44</text>
<line x1="481.50" y1="319.12" x2="481.50" y2="354.10" stroke="#8a8a8a" stroke-width="0.9" />
<line x1="481.10" y1="354.10" x2="520.00" y2="354.10" stroke="#9a9a9a" stroke-width="1.0" />
<line x1="479.90" y1="352.80" x2="481.50" y2="352.80" stroke="#555" stroke-width="0.8" />
<text x="479.3" y="352.8" font-size="6.4" fill="#333" text-anchor="end" font-weight="normal" dominant-baseline="central">0</text>
<line x1="479.90" y1="345.18" x2="481.50" y2="345.18" stroke="#555" stroke-width="0.8" />
<text x="479.3" y="345.2" font-size="6.4" fill="#333" text-anchor="end" font-weight="normal" dominant-baseline="central">2</text>
<line x1="479.90" y1="337.56" x2="481.50" y2="337.56" stroke="#555" stroke-width="0.8" />
<text x="479.3" y="337.6" font-size="6.4" fill="#333" text-anchor="end" font-weight="normal" dominant-baseline="central">4</text>
<line x1="479.90" y1="329.94" x2="481.50" y2="329.94" stroke="#555" stroke-width="0.8" />
<text x="479.3" y="329.9" font-size="6.4" fill="#333" text-anchor="end" font-weight="normal" dominant-baseline="central">6</text>
<line x1="479.90" y1="322.32" x2="481.50" y2="322.32" stroke="#555" stroke-width="0.8" />
<text x="479.3" y="322.3" font-size="6.4" fill="#333" text-anchor="end" font-weight="normal" dominant-baseline="central">8</text>
<rect x="485.70" y="352.60" width="28.00" height="1.7" fill="#aebcd6"/>
<path d="M499.70,352.80 L485.70,352.80 C485.78,352.50 485.14,351.69 486.20,350.90 C487.26,350.10 490.83,348.76 492.30,347.85 C493.77,346.93 494.76,346.22 495.40,345.18 C496.04,344.14 496.11,342.59 496.30,341.37 C496.49,340.15 496.70,338.78 496.60,337.56 C496.50,336.34 495.89,334.97 495.70,333.75 C495.51,332.53 495.26,331.16 495.40,329.94 C495.54,328.72 496.20,327.47 496.60,326.13 C497.00,324.79 497.53,322.41 497.90,321.56 C498.27,320.70 498.74,320.92 498.90,320.80 L499.70,320.80 Z" fill="#1d5597" stroke="#163f70" stroke-width="0.35"/>
<path d="M499.70,352.80 L513.70,352.80 C513.70,352.68 515.14,352.34 513.70,352.04 C512.26,351.73 506.78,351.26 504.70,350.90 C502.62,350.53 501.45,350.06 500.70,349.75 C499.95,349.45 500.11,349.11 500.00,348.99 L499.70,348.99 Z" fill="#3aae47" stroke="#2a7e33" stroke-width="0.35"/>
<text x="499.2" y="313.8" font-size="8.4" fill="#222" text-anchor="middle" font-weight="normal" dominant-baseline="central">Ifi27</text>
<line x1="231.10" y1="378.78" x2="231.10" y2="410.80" stroke="#8a8a8a" stroke-width="0.9" />
<line x1="230.70" y1="410.80" x2="269.60" y2="410.80" stroke="#9a9a9a" stroke-width="1.0" />
<line x1="229.50" y1="409.50" x2="231.10" y2="409.50" stroke="#555" stroke-width="0.8" />
<text x="228.9" y="409.5" font-size="6.4" fill="#333" text-anchor="end" font-weight="normal" dominant-baseline="central">0</text>
<line x1="229.50" y1="402.62" x2="231.10" y2="402.62" stroke="#555" stroke-width="0.8" />
<text x="228.9" y="402.6" font-size="6.4" fill="#333" text-anchor="end" font-weight="normal" dominant-baseline="central">2</text>
<line x1="229.50" y1="395.74" x2="231.10" y2="395.74" stroke="#555" stroke-width="0.8" />
<text x="228.9" y="395.7" font-size="6.4" fill="#333" text-anchor="end" font-weight="normal" dominant-baseline="central">4</text>
<line x1="229.50" y1="388.86" x2="231.10" y2="388.86" stroke="#555" stroke-width="0.8" />
<text x="228.9" y="388.9" font-size="6.4" fill="#333" text-anchor="end" font-weight="normal" dominant-baseline="central">6</text>
<line x1="229.50" y1="381.98" x2="231.10" y2="381.98" stroke="#555" stroke-width="0.8" />
<text x="228.9" y="382.0" font-size="6.4" fill="#333" text-anchor="end" font-weight="normal" dominant-baseline="central">8</text>
<rect x="234.90" y="409.30" width="28.30" height="1.7" fill="#aebcd6"/>
<path d="M248.80,409.50 L234.90,409.50 C234.90,409.33 234.77,409.02 234.90,408.47 C235.03,407.92 235.33,407.00 235.70,406.06 C236.07,405.12 236.91,403.72 237.20,402.62 C237.49,401.52 237.40,400.28 237.50,399.18 C237.60,398.08 237.69,396.84 237.80,395.74 C237.91,394.64 237.98,393.40 238.20,392.30 C238.42,391.20 238.80,389.96 239.20,388.86 C239.60,387.76 239.93,386.80 240.70,385.42 C241.47,384.04 243.02,381.47 244.00,380.26 C244.98,379.05 246.16,378.35 246.80,377.85 C247.44,377.36 247.81,377.27 248.00,377.16 L248.80,377.16 Z" fill="#1d5597" stroke="#163f70" stroke-width="0.35"/>
<path d="M248.80,409.50 L263.20,409.50 C263.20,409.39 263.66,409.20 263.20,408.81 C262.74,408.43 261.37,407.70 260.30,407.09 C259.23,406.49 257.57,405.74 256.50,405.03 C255.43,404.31 254.37,403.28 253.60,402.62 C252.83,401.96 252.23,401.73 251.70,400.90 C251.17,400.07 250.60,398.84 250.30,397.46 C250.00,396.08 249.88,394.23 249.80,392.30 C249.72,390.37 249.88,387.62 249.80,385.42 C249.72,383.22 249.38,379.64 249.30,378.54 L248.80,378.54 Z" fill="#3aae47" stroke="#2a7e33" stroke-width="0.35"/>
<text x="248.8" y="367.6" font-size="8.4" fill="#222" text-anchor="middle" font-weight="normal" dominant-baseline="central">Gbp4</text>
<line x1="281.10" y1="373.10" x2="281.10" y2="410.80" stroke="#8a8a8a" stroke-width="0.9" />
<line x1="280.70" y1="410.80" x2="319.60" y2="410.80" stroke="#9a9a9a" stroke-width="1.0" />
<line x1="279.50" y1="409.50" x2="281.10" y2="409.50" stroke="#555" stroke-width="0.8" />
<text x="278.9" y="409.5" font-size="6.4" fill="#333" text-anchor="end" font-weight="normal" dominant-baseline="central">0</text>
<line x1="279.50" y1="401.20" x2="281.10" y2="401.20" stroke="#555" stroke-width="0.8" />
<text x="278.9" y="401.2" font-size="6.4" fill="#333" text-anchor="end" font-weight="normal" dominant-baseline="central">2</text>
<line x1="279.50" y1="392.90" x2="281.10" y2="392.90" stroke="#555" stroke-width="0.8" />
<text x="278.9" y="392.9" font-size="6.4" fill="#333" text-anchor="end" font-weight="normal" dominant-baseline="central">4</text>
<line x1="279.50" y1="384.60" x2="281.10" y2="384.60" stroke="#555" stroke-width="0.8" />
<text x="278.9" y="384.6" font-size="6.4" fill="#333" text-anchor="end" font-weight="normal" dominant-baseline="central">6</text>
<line x1="279.50" y1="376.30" x2="281.10" y2="376.30" stroke="#555" stroke-width="0.8" />
<text x="278.9" y="376.3" font-size="6.4" fill="#333" text-anchor="end" font-weight="normal" dominant-baseline="central">8</text>
<rect x="284.30" y="409.30" width="27.90" height="1.7" fill="#aebcd6"/>
<path d="M299.70,409.50 L284.30,409.50 C284.30,409.43 283.98,409.42 284.30,409.08 C284.62,408.75 285.37,408.35 286.30,407.43 C287.23,406.50 289.03,404.60 290.10,403.27 C291.17,401.95 292.84,400.45 293.00,399.12 C293.16,397.80 291.47,396.30 291.10,394.98 C290.73,393.65 290.24,392.15 290.70,390.82 C291.16,389.50 293.02,388.00 294.00,386.68 C294.98,385.35 295.97,383.85 296.80,382.52 C297.63,381.20 298.82,379.04 299.20,378.38 L299.70,378.38 Z" fill="#1d5597" stroke="#163f70" stroke-width="0.35"/>
<path d="M299.70,409.50 L312.20,409.50 C312.20,409.40 313.11,409.21 312.20,408.88 C311.29,408.55 308.04,407.99 306.50,407.43 C304.96,406.86 303.53,406.01 302.60,405.35 C301.67,404.69 301.10,404.27 300.70,403.27 C300.30,402.28 300.20,399.79 300.10,399.12 L299.70,399.12 Z" fill="#3aae47" stroke="#2a7e33" stroke-width="0.35"/>
<text x="299.7" y="367.6" font-size="8.4" fill="#222" text-anchor="middle" font-weight="normal" dominant-baseline="central">Gbp6</text>
<line x1="331.50" y1="374.62" x2="331.50" y2="410.80" stroke="#8a8a8a" stroke-width="0.9" />
<line x1="331.10" y1="410.80" x2="370.00" y2="410.80" stroke="#9a9a9a" stroke-width="1.0" />
<line x1="329.90" y1="409.50" x2="331.50" y2="409.50" stroke="#555" stroke-width="0.8" />
<text x="329.3" y="409.5" font-size="6.4" fill="#333" text-anchor="end" font-weight="normal" dominant-baseline="central">0</text>
<line x1="329.90" y1="401.58" x2="331.50" y2="401.58" stroke="#555" stroke-width="0.8" />
<text x="329.3" y="401.6" font-size="6.4" fill="#333" text-anchor="end" font-weight="normal" dominant-baseline="central">2</text>
<line x1="329.90" y1="393.66" x2="331.50" y2="393.66" stroke="#555" stroke-width="0.8" />
<text x="329.3" y="393.7" font-size="6.4" fill="#333" text-anchor="end" font-weight="normal" dominant-baseline="central">4</text>
<line x1="329.90" y1="385.74" x2="331.50" y2="385.74" stroke="#555" stroke-width="0.8" />
<text x="329.3" y="385.7" font-size="6.4" fill="#333" text-anchor="end" font-weight="normal" dominant-baseline="central">6</text>
<line x1="329.90" y1="377.82" x2="331.50" y2="377.82" stroke="#555" stroke-width="0.8" />
<text x="329.3" y="377.8" font-size="6.4" fill="#333" text-anchor="end" font-weight="normal" dominant-baseline="central">8</text>
<rect x="335.30" y="409.30" width="28.90" height="1.7" fill="#aebcd6"/>
<path d="M348.80,409.50 L335.30,409.50 C335.30,409.31 335.06,408.95 335.30,408.31 C335.54,407.68 336.24,406.62 336.80,405.54 C337.36,404.46 338.18,402.85 338.80,401.58 C339.42,400.31 340.19,398.89 340.70,397.62 C341.21,396.35 341.84,394.93 342.00,393.66 C342.16,392.39 341.60,391.28 341.70,389.70 C341.80,388.12 342.09,385.34 342.60,383.76 C343.11,382.18 344.15,380.75 344.90,379.80 C345.65,378.85 346.92,378.14 347.30,377.82 L348.80,377.82 Z" fill="#1d5597" stroke="#163f70" stroke-width="0.35"/>
<path d="M348.80,409.50 L364.20,409.50 C364.20,409.44 364.66,409.42 364.20,409.10 C363.74,408.79 362.53,408.28 361.30,407.52 C360.07,406.76 357.73,405.30 356.50,404.35 C355.27,403.40 354.22,402.66 353.60,401.58 C352.98,400.50 352.76,398.89 352.60,397.62 C352.44,396.35 352.66,394.93 352.60,393.66 C352.54,392.39 352.34,391.28 352.20,389.70 C352.06,388.12 352.16,384.90 351.70,383.76 C351.24,382.62 349.68,382.76 349.30,382.57 L348.80,382.57 Z" fill="#3aae47" stroke="#2a7e33" stroke-width="0.35"/>
<line x1="348.80" y1="400.79" x2="353.40" y2="400.79" stroke="#1f5a28" stroke-width="0.6" stroke-dasharray="1.3,0.8"/>
<text x="349.5" y="367.6" font-size="8.4" fill="#222" text-anchor="middle" font-weight="normal" dominant-baseline="central">Gbp9</text>
<line x1="230.50" y1="428.88" x2="230.50" y2="462.30" stroke="#8a8a8a" stroke-width="0.9" />
<line x1="230.10" y1="462.30" x2="269.00" y2="462.30" stroke="#9a9a9a" stroke-width="1.0" />
<line x1="228.90" y1="461.00" x2="230.50" y2="461.00" stroke="#555" stroke-width="0.8" />
<text x="228.3" y="461.0" font-size="6.4" fill="#333" text-anchor="end" font-weight="normal" dominant-baseline="central">0</text>
<line x1="228.90" y1="451.36" x2="230.50" y2="451.36" stroke="#555" stroke-width="0.8" />
<text x="228.3" y="451.4" font-size="6.4" fill="#333" text-anchor="end" font-weight="normal" dominant-baseline="central">2</text>
<line x1="228.90" y1="441.72" x2="230.50" y2="441.72" stroke="#555" stroke-width="0.8" />
<text x="228.3" y="441.7" font-size="6.4" fill="#333" text-anchor="end" font-weight="normal" dominant-baseline="central">4</text>
<line x1="228.90" y1="432.08" x2="230.50" y2="432.08" stroke="#555" stroke-width="0.8" />
<text x="228.3" y="432.1" font-size="6.4" fill="#333" text-anchor="end" font-weight="normal" dominant-baseline="central">6</text>
<rect x="234.30" y="460.80" width="28.90" height="1.7" fill="#aebcd6"/>
<path d="M248.80,461.00 L234.30,461.00 C234.30,460.77 233.52,460.33 234.30,459.55 C235.08,458.78 237.81,457.49 239.20,456.18 C240.59,454.87 241.93,452.90 243.00,451.36 C244.07,449.82 245.29,448.08 245.90,446.54 C246.51,445.00 246.50,443.26 246.80,441.72 C247.10,440.18 247.53,438.91 247.80,436.90 C248.07,434.89 248.39,430.42 248.50,429.19 L248.80,429.19 Z" fill="#1d5597" stroke="#163f70" stroke-width="0.35"/>
<path d="M248.80,461.00 L263.20,461.00 C263.20,460.92 264.27,460.75 263.20,460.52 C262.13,460.29 258.64,459.94 256.50,459.55 C254.36,459.17 250.98,458.49 249.80,458.11 C248.62,457.72 249.21,457.30 249.10,457.14 L248.80,457.14 Z" fill="#3aae47" stroke="#2a7e33" stroke-width="0.35"/>
<text x="249.2" y="423.1" font-size="8.4" fill="#222" text-anchor="middle" font-weight="normal" dominant-baseline="central">Gbp10</text>
<line x1="280.50" y1="430.80" x2="280.50" y2="462.30" stroke="#8a8a8a" stroke-width="0.9" />
<line x1="280.10" y1="462.30" x2="319.00" y2="462.30" stroke="#9a9a9a" stroke-width="1.0" />
<line x1="278.90" y1="461.00" x2="280.50" y2="461.00" stroke="#555" stroke-width="0.8" />
<text x="278.3" y="461.0" font-size="6.4" fill="#333" text-anchor="end" font-weight="normal" dominant-baseline="central">0</text>
<line x1="278.90" y1="452.00" x2="280.50" y2="452.00" stroke="#555" stroke-width="0.8" />
<text x="278.3" y="452.0" font-size="6.4" fill="#333" text-anchor="end" font-weight="normal" dominant-baseline="central">2</text>
<line x1="278.90" y1="443.00" x2="280.50" y2="443.00" stroke="#555" stroke-width="0.8" />
<text x="278.3" y="443.0" font-size="6.4" fill="#333" text-anchor="end" font-weight="normal" dominant-baseline="central">4</text>
<line x1="278.90" y1="434.00" x2="280.50" y2="434.00" stroke="#555" stroke-width="0.8" />
<text x="278.3" y="434.0" font-size="6.4" fill="#333" text-anchor="end" font-weight="normal" dominant-baseline="central">6</text>
<rect x="285.30" y="460.80" width="26.90" height="1.7" fill="#aebcd6"/>
<path d="M298.80,461.00 L285.30,461.00 C285.30,460.71 284.37,459.92 285.30,459.20 C286.23,458.48 289.56,457.29 291.10,456.50 C292.64,455.71 293.99,454.97 294.90,454.25 C295.81,453.53 296.42,453.80 296.80,452.00 C297.18,450.20 297.22,445.88 297.30,443.00 C297.38,440.12 297.14,436.23 297.30,434.00 C297.46,431.77 298.14,429.84 298.30,429.05 L298.80,429.05 Z" fill="#1d5597" stroke="#163f70" stroke-width="0.35"/>
<path d="M298.80,461.00 L312.20,461.00 C312.20,460.93 313.43,460.77 312.20,460.55 C310.97,460.33 306.48,459.94 304.50,459.65 C302.52,459.36 300.66,459.04 299.80,458.75 C298.94,458.46 299.21,457.99 299.10,457.85 L298.80,457.85 Z" fill="#3aae47" stroke="#2a7e33" stroke-width="0.35"/>
<text x="298.8" y="423.1" font-size="8.4" fill="#222" text-anchor="middle" font-weight="normal" dominant-baseline="central">Gbp11</text>
<line x1="384.30" y1="373.98" x2="384.30" y2="410.80" stroke="#8a8a8a" stroke-width="0.9" />
<line x1="383.90" y1="410.80" x2="422.80" y2="410.80" stroke="#9a9a9a" stroke-width="1.0" />
<line x1="382.70" y1="409.50" x2="384.30" y2="409.50" stroke="#555" stroke-width="0.8" />
<text x="382.1" y="409.5" font-size="6.4" fill="#333" text-anchor="end" font-weight="normal" dominant-baseline="central">0</text>
<line x1="382.70" y1="401.42" x2="384.30" y2="401.42" stroke="#555" stroke-width="0.8" />
<text x="382.1" y="401.4" font-size="6.4" fill="#333" text-anchor="end" font-weight="normal" dominant-baseline="central">2</text>
<line x1="382.70" y1="393.34" x2="384.30" y2="393.34" stroke="#555" stroke-width="0.8" />
<text x="382.1" y="393.3" font-size="6.4" fill="#333" text-anchor="end" font-weight="normal" dominant-baseline="central">4</text>
<line x1="382.70" y1="385.26" x2="384.30" y2="385.26" stroke="#555" stroke-width="0.8" />
<text x="382.1" y="385.3" font-size="6.4" fill="#333" text-anchor="end" font-weight="normal" dominant-baseline="central">6</text>
<line x1="382.70" y1="377.18" x2="384.30" y2="377.18" stroke="#555" stroke-width="0.8" />
<text x="382.1" y="377.2" font-size="6.4" fill="#333" text-anchor="end" font-weight="normal" dominant-baseline="central">8</text>
<rect x="390.10" y="409.30" width="27.90" height="1.7" fill="#aebcd6"/>
<path d="M404.50,409.50 L390.10,409.50 C390.10,409.31 389.33,408.93 390.10,408.29 C390.87,407.64 393.51,406.24 394.90,405.46 C396.29,404.68 397.57,404.09 398.80,403.44 C400.03,402.79 401.88,402.39 402.60,401.42 C403.32,400.45 403.12,399.97 403.30,397.38 C403.48,394.79 403.56,388.94 403.70,385.26 C403.84,381.58 404.12,376.10 404.20,374.35 L404.50,374.35 Z" fill="#1d5597" stroke="#163f70" stroke-width="0.35"/>
<path d="M404.50,409.50 L418.00,409.50 C418.00,409.44 418.77,409.35 418.00,409.10 C417.23,408.84 414.74,408.34 413.20,407.88 C411.66,407.43 409.63,406.98 408.40,406.27 C407.17,405.56 406.08,404.22 405.50,403.44 C404.92,402.66 404.91,401.74 404.80,401.42 L404.50,401.42 Z" fill="#3aae47" stroke="#2a7e33" stroke-width="0.35"/>
<text x="404.5" y="367.6" font-size="8.4" fill="#222" text-anchor="middle" font-weight="normal" dominant-baseline="central">Ifit1</text>
<line x1="433.50" y1="371.66" x2="433.50" y2="410.80" stroke="#8a8a8a" stroke-width="0.9" />
<line x1="433.10" y1="410.80" x2="472.00" y2="410.80" stroke="#9a9a9a" stroke-width="1.0" />
<line x1="431.90" y1="409.50" x2="433.50" y2="409.50" stroke="#555" stroke-width="0.8" />
<text x="431.3" y="409.5" font-size="6.4" fill="#333" text-anchor="end" font-weight="normal" dominant-baseline="central">0</text>
<line x1="431.90" y1="400.84" x2="433.50" y2="400.84" stroke="#555" stroke-width="0.8" />
<text x="431.3" y="400.8" font-size="6.4" fill="#333" text-anchor="end" font-weight="normal" dominant-baseline="central">2</text>
<line x1="431.90" y1="392.18" x2="433.50" y2="392.18" stroke="#555" stroke-width="0.8" />
<text x="431.3" y="392.2" font-size="6.4" fill="#333" text-anchor="end" font-weight="normal" dominant-baseline="central">4</text>
<line x1="431.90" y1="383.52" x2="433.50" y2="383.52" stroke="#555" stroke-width="0.8" />
<text x="431.3" y="383.5" font-size="6.4" fill="#333" text-anchor="end" font-weight="normal" dominant-baseline="central">6</text>
<line x1="431.90" y1="374.86" x2="433.50" y2="374.86" stroke="#555" stroke-width="0.8" />
<text x="431.3" y="374.9" font-size="6.4" fill="#333" text-anchor="end" font-weight="normal" dominant-baseline="central">8</text>
<rect x="437.90" y="409.30" width="29.80" height="1.7" fill="#aebcd6"/>
<path d="M452.70,409.50 L437.90,409.50 C437.90,409.29 436.97,408.89 437.90,408.20 C438.83,407.51 442.16,406.00 443.70,405.17 C445.24,404.34 446.49,403.70 447.50,403.00 C448.51,402.31 449.47,402.57 450.00,400.84 C450.53,399.11 450.53,394.95 450.80,392.18 C451.07,389.41 451.44,386.50 451.70,383.52 C451.96,380.54 452.29,375.15 452.40,373.56 L452.70,373.56 Z" fill="#1d5597" stroke="#163f70" stroke-width="0.35"/>
<path d="M452.70,409.50 L467.70,409.50 C467.70,409.36 469.78,408.98 467.70,408.63 C465.62,408.29 457.05,407.68 454.70,407.33 C452.35,406.99 453.27,406.61 453.00,406.47 L452.70,406.47 Z" fill="#3aae47" stroke="#2a7e33" stroke-width="0.35"/>
<text x="451.9" y="367.6" font-size="8.4" fill="#222" text-anchor="middle" font-weight="normal" dominant-baseline="central">Zbp1</text>
<rect x="356.7" y="321.5" width="2.3" height="2.4" fill="#1d5597"/>
<rect x="356.7" y="329.2" width="2.3" height="2.4" fill="#3aae47"/>
<text x="359.7" y="322.7" font-size="6.8" fill="#333" text-anchor="start" font-weight="normal" dominant-baseline="central">WT</text>
<text x="359.7" y="330.4" font-size="6.8" fill="#333" text-anchor="start" font-weight="normal" dominant-baseline="central">KO</text>
<rect x="460.4" y="378.3" width="2.3" height="2.4" fill="#1d5597"/>
<rect x="460.4" y="386.0" width="2.3" height="2.4" fill="#3aae47"/>
<text x="463.4" y="379.5" font-size="6.8" fill="#333" text-anchor="start" font-weight="normal" dominant-baseline="central">WT</text>
<text x="463.4" y="387.2" font-size="6.8" fill="#333" text-anchor="start" font-weight="normal" dominant-baseline="central">KO</text>
<rect x="490.8" y="381" width="5.6" height="4.4" fill="#3aae47"/>
<rect x="490.8" y="390.3" width="5.6" height="4.6" fill="#1d5597"/>
<text x="497.6" y="383.2" font-size="9.0" fill="#222" text-anchor="start" font-weight="normal" dominant-baseline="central">KO</text>
<text x="497.6" y="392.6" font-size="9.0" fill="#222" text-anchor="start" font-weight="normal" dominant-baseline="central">WT</text>
<rect x="22.01" y="511.60" width="55.39" height="7.9" fill="#5b1f73"/>
<line x1="77.40" y1="515.55" x2="79.40" y2="515.55" stroke="#222" stroke-width="0.9" />
<text x="82.0" y="515.6" font-size="6.7" fill="#222" text-anchor="start" font-weight="normal" dominant-baseline="central">Antigen processing and presentation</text>
<rect x="38.30" y="524.04" width="39.10" height="7.9" fill="#6a2f80"/>
<line x1="77.40" y1="527.99" x2="79.40" y2="527.99" stroke="#222" stroke-width="0.9" />
<text x="82.0" y="528.0" font-size="6.7" fill="#222" text-anchor="start" font-weight="normal" dominant-baseline="central">Graft-versus-host disease</text>
<rect x="38.30" y="536.48" width="39.10" height="7.9" fill="#6c3283"/>
<line x1="77.40" y1="540.43" x2="79.40" y2="540.43" stroke="#222" stroke-width="0.9" />
<text x="82.0" y="540.4" font-size="6.7" fill="#222" text-anchor="start" font-weight="normal" dominant-baseline="central">Allograft rejection</text>
<rect x="44.10" y="548.92" width="33.30" height="7.9" fill="#74408b"/>
<line x1="77.40" y1="552.87" x2="79.40" y2="552.87" stroke="#222" stroke-width="0.9" />
<text x="82.0" y="552.9" font-size="6.7" fill="#222" text-anchor="start" font-weight="normal" dominant-baseline="central">Viral myocarditis</text>
<rect x="45.18" y="561.36" width="32.22" height="7.9" fill="#784590"/>
<line x1="77.40" y1="565.31" x2="79.40" y2="565.31" stroke="#222" stroke-width="0.9" />
<text x="82.0" y="565.3" font-size="6.7" fill="#222" text-anchor="start" font-weight="normal" dominant-baseline="central">Phagosome</text>
<rect x="46.99" y="573.80" width="30.41" height="7.9" fill="#7d4c95"/>
<line x1="77.40" y1="577.75" x2="79.40" y2="577.75" stroke="#222" stroke-width="0.9" />
<text x="82.0" y="577.8" font-size="6.7" fill="#222" text-anchor="start" font-weight="normal" dominant-baseline="central">Cell adhesion molecules (CAMs)</text>
<rect x="61.47" y="586.24" width="15.93" height="7.9" fill="#9470a8"/>
<line x1="77.40" y1="590.19" x2="79.40" y2="590.19" stroke="#222" stroke-width="0.9" />
<text x="82.0" y="590.2" font-size="6.7" fill="#222" text-anchor="start" font-weight="normal" dominant-baseline="central">Th1 and Th2 cell differentiation</text>
<rect x="62.20" y="598.68" width="15.20" height="7.9" fill="#9774ab"/>
<line x1="77.40" y1="602.63" x2="79.40" y2="602.63" stroke="#222" stroke-width="0.9" />
<text x="82.0" y="602.6" font-size="6.7" fill="#222" text-anchor="start" font-weight="normal" dominant-baseline="central">Cellular senescence</text>
<rect x="67.99" y="611.12" width="9.41" height="7.9" fill="#a488b6"/>
<line x1="77.40" y1="615.07" x2="79.40" y2="615.07" stroke="#222" stroke-width="0.9" />
<text x="82.0" y="615.1" font-size="6.7" fill="#222" text-anchor="start" font-weight="normal" dominant-baseline="central">Endocytosis</text>
<rect x="72.15" y="623.56" width="5.25" height="7.9" fill="#b49cc4"/>
<line x1="77.40" y1="627.51" x2="79.40" y2="627.51" stroke="#222" stroke-width="0.9" />
<text x="82.0" y="627.5" font-size="6.7" fill="#222" text-anchor="start" font-weight="normal" dominant-baseline="central">Cytosolic DNA-sensing pathway</text>
<rect x="72.15" y="636.00" width="5.25" height="7.9" fill="#b7a0c7"/>
<line x1="77.40" y1="639.95" x2="79.40" y2="639.95" stroke="#222" stroke-width="0.9" />
<text x="82.0" y="640.0" font-size="6.7" fill="#222" text-anchor="start" font-weight="normal" dominant-baseline="central">Steroid biosynthesis</text>
<rect x="72.15" y="648.44" width="5.25" height="7.9" fill="#baa5ca"/>
<line x1="77.40" y1="652.39" x2="79.40" y2="652.39" stroke="#222" stroke-width="0.9" />
<text x="82.0" y="652.4" font-size="6.7" fill="#222" text-anchor="start" font-weight="normal" dominant-baseline="central">Hematopoietic cell lineage</text>
<line x1="77.40" y1="507.00" x2="77.40" y2="660.80" stroke="#222" stroke-width="1.1" />
<line x1="1.50" y1="660.20" x2="77.90" y2="660.20" stroke="#222" stroke-width="1.1" />
<line x1="5.00" y1="660.20" x2="5.00" y2="662.80" stroke="#222" stroke-width="0.9" />
<text x="5.0" y="668.9" font-size="6.8" fill="#333" text-anchor="middle" font-weight="normal" dominant-baseline="central">−20</text>
<line x1="23.10" y1="660.20" x2="23.10" y2="662.80" stroke="#222" stroke-width="0.9" />
<text x="23.1" y="668.9" font-size="6.8" fill="#333" text-anchor="middle" font-weight="normal" dominant-baseline="central">−15</text>
<line x1="41.20" y1="660.20" x2="41.20" y2="662.80" stroke="#222" stroke-width="0.9" />
<text x="41.2" y="668.9" font-size="6.8" fill="#333" text-anchor="middle" font-weight="normal" dominant-baseline="central">−10</text>
<line x1="59.30" y1="660.20" x2="59.30" y2="662.80" stroke="#222" stroke-width="0.9" />
<text x="59.3" y="668.9" font-size="6.8" fill="#333" text-anchor="middle" font-weight="normal" dominant-baseline="central">−5</text>
<line x1="77.40" y1="660.20" x2="77.40" y2="662.80" stroke="#222" stroke-width="0.9" />
<text x="77.4" y="668.9" font-size="6.8" fill="#333" text-anchor="middle" font-weight="normal" dominant-baseline="central">0</text>
<text x="39.4" y="680" font-size="7.4" fill="#333" text-anchor="middle" dominant-baseline="central">−log<tspan font-size="5.2" dy="1.8">10</tspan><tspan dy="-1.8">(p.adj)</tspan></text>
<rect x="208.7" y="495.1" width="147.40" height="96.70" fill="#f4f4f4"/>
<rect x="235.2" y="506" width="118.60" height="74.60" fill="#fff"/>
<line x1="254.97" y1="506.00" x2="254.97" y2="558.30" stroke="#efefef" stroke-width="0.6" />
<line x1="274.73" y1="506.00" x2="274.73" y2="558.30" stroke="#efefef" stroke-width="0.6" />
<line x1="294.50" y1="506.00" x2="294.50" y2="558.30" stroke="#efefef" stroke-width="0.6" />
<line x1="314.27" y1="506.00" x2="314.27" y2="558.30" stroke="#efefef" stroke-width="0.6" />
<line x1="334.03" y1="506.00" x2="334.03" y2="558.30" stroke="#efefef" stroke-width="0.6" />
<line x1="235.20" y1="508.40" x2="353.80" y2="508.40" stroke="#f0f0f0" stroke-width="0.6" />
<line x1="235.20" y1="516.20" x2="353.80" y2="516.20" stroke="#f0f0f0" stroke-width="0.6" />
<line x1="235.20" y1="524.00" x2="353.80" y2="524.00" stroke="#f0f0f0" stroke-width="0.6" />
<line x1="235.20" y1="531.80" x2="353.80" y2="531.80" stroke="#f0f0f0" stroke-width="0.6" />
<line x1="235.20" y1="539.60" x2="353.80" y2="539.60" stroke="#f0f0f0" stroke-width="0.6" />
<line x1="235.20" y1="547.40" x2="353.80" y2="547.40" stroke="#f0f0f0" stroke-width="0.6" />
<line x1="235.20" y1="555.20" x2="353.80" y2="555.20" stroke="#f0f0f0" stroke-width="0.6" />
<line x1="235.20" y1="555.20" x2="353.80" y2="555.20" stroke="#bdbdbd" stroke-width="0.7" />
<line x1="235.20" y1="558.30" x2="353.80" y2="558.30" stroke="#c8c8c8" stroke-width="0.6" />
<rect x="237.40" y="558.80" width="0.60" height="17.70" fill="#222"/>
<rect x="238.80" y="558.80" width="0.60" height="17.70" fill="#555"/>
<rect x="240.20" y="558.80" width="0.60" height="17.70" fill="#333"/>
<rect x="241.00" y="558.80" width="0.80" height="17.70" fill="#777"/>
<rect x="242.20" y="558.80" width="0.60" height="17.70" fill="#444"/>
<rect x="243.00" y="558.80" width="0.60" height="17.70" fill="#666"/>
<rect x="243.60" y="558.80" width="0.60" height="17.70" fill="#888"/>
<rect x="246.00" y="558.80" width="0.60" height="17.70" fill="#999"/>
<rect x="250.50" y="558.80" width="0.50" height="17.70" fill="#aaa"/>
<rect x="256.00" y="558.80" width="0.50" height="17.70" fill="#999"/>
<rect x="260.80" y="558.80" width="0.50" height="17.70" fill="#aaa"/>
<rect x="263.50" y="558.80" width="0.50" height="17.70" fill="#888"/>
<rect x="270.30" y="558.80" width="0.80" height="17.70" fill="#222"/>
<rect x="273.50" y="558.80" width="0.50" height="17.70" fill="#999"/>
<rect x="277.70" y="558.80" width="0.50" height="17.70" fill="#aaa"/>
<rect x="280.40" y="558.80" width="0.80" height="17.70" fill="#444"/>
<rect x="285.00" y="558.80" width="0.50" height="17.70" fill="#888"/>
<rect x="291.90" y="558.80" width="0.50" height="17.70" fill="#999"/>
<rect x="299.40" y="558.80" width="0.50" height="17.70" fill="#aaa"/>
<rect x="303.40" y="558.80" width="0.60" height="17.70" fill="#888"/>
<rect x="304.50" y="558.80" width="0.60" height="17.70" fill="#555"/>
<rect x="306.50" y="558.80" width="0.50" height="17.70" fill="#999"/>
<rect x="333.30" y="558.80" width="0.50" height="17.70" fill="#999"/>
<defs><linearGradient id="g2858" x1="0" y1="0" x2="1" y2="0"><stop offset="0" stop-color="#d8343f"/><stop offset="0.15" stop-color="#dc4450"/><stop offset="0.28" stop-color="#e27080"/><stop offset="0.35" stop-color="#ecc0d0"/><stop offset="0.42" stop-color="#e6e0f0"/><stop offset="0.6" stop-color="#d6d0ea"/><stop offset="0.66" stop-color="#a29ed2"/><stop offset="0.76" stop-color="#5a56aa"/><stop offset="1" stop-color="#3a3590"/></linearGradient></defs>
<rect x="235.80" y="576.50" width="112.70" height="3.80" fill="url(#g2858)"/>
<rect x="235.2" y="506" width="118.60" height="74.60" fill="none" stroke="#6a6a6a" stroke-width="0.9"/>
<path d="M235.60,555.20 L236.70,555.00 L237.80,547.10 L239.20,535.70 L241.40,527.60 L242.40,520.20 L243.50,513.50 L245.50,510.80 L247.20,508.70 L249.50,510.10 L250.90,509.20 L254.90,512.10 L258.90,514.50 L265.00,516.20 L269.00,518.80 L271.70,517.80 L278.50,522.20 L286.50,527.60 L293.30,531.00 L297.90,534.10 L303.40,536.50 L307.30,532.20 L313.60,536.50 L321.50,542.00 L329.40,547.00 L333.30,550.60 L334.10,545.40 L340.40,549.50 L348.30,554.90" fill="none" stroke="#a4dc8e" stroke-width="2.8" stroke-linejoin="round" opacity="0.75"/>
<path d="M235.60,555.20 L236.70,555.00 L237.80,547.10 L239.20,535.70 L241.40,527.60 L242.40,520.20 L243.50,513.50 L245.50,510.80 L247.20,508.70 L249.50,510.10 L250.90,509.20 L254.90,512.10 L258.90,514.50 L265.00,516.20 L269.00,518.80 L271.70,517.80 L278.50,522.20 L286.50,527.60 L293.30,531.00 L297.90,534.10 L303.40,536.50 L307.30,532.20 L313.60,536.50 L321.50,542.00 L329.40,547.00 L333.30,550.60 L334.10,545.40 L340.40,549.50 L348.30,554.90" fill="none" stroke="#4b9a3f" stroke-width="1.3" stroke-linejoin="round"/>
<line x1="233.20" y1="508.40" x2="235.20" y2="508.40" stroke="#444" stroke-width="0.8" />
<text x="231.8" y="508.4" font-size="6.8" fill="#444" text-anchor="end" font-weight="normal" dominant-baseline="central">0.6</text>
<line x1="233.20" y1="516.20" x2="235.20" y2="516.20" stroke="#444" stroke-width="0.8" />
<text x="231.8" y="516.2" font-size="6.8" fill="#444" text-anchor="end" font-weight="normal" dominant-baseline="central">0.5</text>
<line x1="233.20" y1="524.00" x2="235.20" y2="524.00" stroke="#444" stroke-width="0.8" />
<text x="231.8" y="524.0" font-size="6.8" fill="#444" text-anchor="end" font-weight="normal" dominant-baseline="central">0.4</text>
<line x1="233.20" y1="531.80" x2="235.20" y2="531.80" stroke="#444" stroke-width="0.8" />
<text x="231.8" y="531.8" font-size="6.8" fill="#444" text-anchor="end" font-weight="normal" dominant-baseline="central">0.3</text>
<line x1="233.20" y1="539.60" x2="235.20" y2="539.60" stroke="#444" stroke-width="0.8" />
<text x="231.8" y="539.6" font-size="6.8" fill="#444" text-anchor="end" font-weight="normal" dominant-baseline="central">0.2</text>
<line x1="233.20" y1="547.40" x2="235.20" y2="547.40" stroke="#444" stroke-width="0.8" />
<text x="231.8" y="547.4" font-size="6.8" fill="#444" text-anchor="end" font-weight="normal" dominant-baseline="central">0.1</text>
<line x1="233.20" y1="555.20" x2="235.20" y2="555.20" stroke="#444" stroke-width="0.8" />
<text x="231.8" y="555.2" font-size="6.8" fill="#444" text-anchor="end" font-weight="normal" dominant-baseline="central">0.0</text>
<text x="216.6" y="532.1" font-size="7" fill="#555" text-anchor="middle" textLength="57.5" lengthAdjust="spacingAndGlyphs" transform="rotate(-90 216.6 532.1)" dominant-baseline="central">Enrichment score (ES)</text>
<text x="290.9" y="502.6" font-size="6.35" fill="#222" text-anchor="middle" font-weight="bold" >Enrichment plot: KEGG_DNA_replication</text>
<text x="311.7" y="516.8" font-size="6.3" fill="#333" text-anchor="start" font-weight="normal" dominant-baseline="central">NES: 2.27</text>
<text x="311.7" y="524.3" font-size="6.3" fill="#333" text-anchor="start" font-weight="normal" dominant-baseline="central">FDR: 0.0</text>
<text x="236.0" y="585.9" font-size="6.6" fill="#222" text-anchor="start" font-weight="normal" dominant-baseline="central">KO</text>
<text x="346.7" y="585.6" font-size="6.6" fill="#222" text-anchor="end" font-weight="normal" dominant-baseline="central">WT</text>
<rect x="372.8" y="494.9" width="148.20" height="96.70" fill="#f4f4f4"/>
<rect x="400.1" y="506" width="116.10" height="74.40" fill="#fff"/>
<line x1="419.45" y1="506.00" x2="419.45" y2="557.50" stroke="#efefef" stroke-width="0.6" />
<line x1="438.80" y1="506.00" x2="438.80" y2="557.50" stroke="#efefef" stroke-width="0.6" />
<line x1="458.15" y1="506.00" x2="458.15" y2="557.50" stroke="#efefef" stroke-width="0.6" />
<line x1="477.50" y1="506.00" x2="477.50" y2="557.50" stroke="#efefef" stroke-width="0.6" />
<line x1="496.85" y1="506.00" x2="496.85" y2="557.50" stroke="#efefef" stroke-width="0.6" />
<line x1="400.10" y1="509.40" x2="516.20" y2="509.40" stroke="#f0f0f0" stroke-width="0.6" />
<line x1="400.10" y1="516.20" x2="516.20" y2="516.20" stroke="#f0f0f0" stroke-width="0.6" />
<line x1="400.10" y1="523.00" x2="516.20" y2="523.00" stroke="#f0f0f0" stroke-width="0.6" />
<line x1="400.10" y1="529.80" x2="516.20" y2="529.80" stroke="#f0f0f0" stroke-width="0.6" />
<line x1="400.10" y1="536.60" x2="516.20" y2="536.60" stroke="#f0f0f0" stroke-width="0.6" />
<line x1="400.10" y1="543.40" x2="516.20" y2="543.40" stroke="#f0f0f0" stroke-width="0.6" />
<line x1="400.10" y1="550.20" x2="516.20" y2="550.20" stroke="#f0f0f0" stroke-width="0.6" />
<line x1="400.10" y1="557.00" x2="516.20" y2="557.00" stroke="#f0f0f0" stroke-width="0.6" />
<line x1="400.10" y1="557.00" x2="516.20" y2="557.00" stroke="#bdbdbd" stroke-width="0.7" />
<line x1="400.10" y1="557.50" x2="516.20" y2="557.50" stroke="#c8c8c8" stroke-width="0.6" />
<rect x="400.80" y="559.80" width="70.00" height="17.40" fill="#bdbdbd"/>
<rect x="400.80" y="559.80" width="0.70" height="17.40" fill="#555"/>
<rect x="401.70" y="559.80" width="1.40" height="17.40" fill="#333"/>
<rect x="403.90" y="559.80" width="0.50" height="17.40" fill="#aaa"/>
<rect x="404.60" y="559.80" width="1.40" height="17.40" fill="#aaa"/>
<rect x="406.80" y="559.80" width="1.40" height="17.40" fill="#555"/>
<rect x="408.20" y="559.80" width="0.70" height="17.40" fill="#999"/>
<rect x="410.10" y="559.80" width="0.50" height="17.40" fill="#333"/>
<rect x="410.60" y="559.80" width="1.40" height="17.40" fill="#111"/>
<rect x="412.20" y="559.80" width="1.10" height="17.40" fill="#999"/>
<rect x="414.50" y="559.80" width="1.10" height="17.40" fill="#aaa"/>
<rect x="415.60" y="559.80" width="0.90" height="17.40" fill="#555"/>
<rect x="416.90" y="559.80" width="0.70" height="17.40" fill="#999"/>
<rect x="418.80" y="559.80" width="0.90" height="17.40" fill="#999"/>
<rect x="420.50" y="559.80" width="0.90" height="17.40" fill="#999"/>
<rect x="422.20" y="559.80" width="0.70" height="17.40" fill="#111"/>
<rect x="423.10" y="559.80" width="1.40" height="17.40" fill="#555"/>
<rect x="425.70" y="559.80" width="0.90" height="17.40" fill="#333"/>
<rect x="427.80" y="559.80" width="0.70" height="17.40" fill="#777"/>
<rect x="428.70" y="559.80" width="0.50" height="17.40" fill="#aaa"/>
<rect x="429.20" y="559.80" width="0.90" height="17.40" fill="#999"/>
<rect x="430.10" y="559.80" width="0.50" height="17.40" fill="#999"/>
<rect x="430.60" y="559.80" width="0.50" height="17.40" fill="#111"/>
<rect x="431.50" y="559.80" width="1.40" height="17.40" fill="#777"/>
<rect x="433.70" y="559.80" width="0.70" height="17.40" fill="#777"/>
<rect x="434.40" y="559.80" width="0.50" height="17.40" fill="#111"/>
<rect x="434.90" y="559.80" width="1.10" height="17.40" fill="#777"/>
<rect x="436.00" y="559.80" width="0.50" height="17.40" fill="#888"/>
<rect x="436.70" y="559.80" width="0.90" height="17.40" fill="#999"/>
<rect x="438.00" y="559.80" width="1.10" height="17.40" fill="#999"/>
<rect x="440.30" y="559.80" width="1.40" height="17.40" fill="#333"/>
<rect x="442.50" y="559.80" width="1.40" height="17.40" fill="#666"/>
<rect x="444.10" y="559.80" width="1.10" height="17.40" fill="#777"/>
<rect x="446.00" y="559.80" width="0.90" height="17.40" fill="#999"/>
<rect x="447.70" y="559.80" width="0.90" height="17.40" fill="#555"/>
<rect x="448.60" y="559.80" width="0.90" height="17.40" fill="#888"/>
<rect x="450.30" y="559.80" width="0.90" height="17.40" fill="#111"/>
<rect x="452.00" y="559.80" width="0.50" height="17.40" fill="#111"/>
<rect x="452.70" y="559.80" width="0.90" height="17.40" fill="#777"/>
<rect x="454.40" y="559.80" width="1.40" height="17.40" fill="#888"/>
<rect x="455.80" y="559.80" width="0.90" height="17.40" fill="#777"/>
<rect x="456.90" y="559.80" width="1.10" height="17.40" fill="#111"/>
<rect x="458.80" y="559.80" width="0.70" height="17.40" fill="#666"/>
<rect x="460.70" y="559.80" width="0.90" height="17.40" fill="#555"/>
<rect x="462.80" y="559.80" width="1.10" height="17.40" fill="#333"/>
<rect x="463.90" y="559.80" width="1.40" height="17.40" fill="#888"/>
<rect x="466.50" y="559.80" width="0.70" height="17.40" fill="#555"/>
<rect x="467.20" y="559.80" width="0.90" height="17.40" fill="#666"/>
<rect x="468.90" y="559.80" width="1.10" height="17.40" fill="#333"/>
<rect x="471.60" y="559.80" width="1.40" height="17.40" fill="#777"/>
<rect x="473.90" y="559.80" width="1.40" height="17.40" fill="#777"/>
<rect x="476.10" y="559.80" width="0.90" height="17.40" fill="#999"/>
<rect x="478.30" y="559.80" width="1.10" height="17.40" fill="#111"/>
<rect x="484.20" y="559.80" width="0.70" height="17.40" fill="#aaa"/>
<rect x="490.60" y="559.80" width="0.70" height="17.40" fill="#666"/>
<rect x="491.70" y="559.80" width="1.40" height="17.40" fill="#aaa"/>
<rect x="494.30" y="559.80" width="0.50" height="17.40" fill="#777"/>
<rect x="499.10" y="559.80" width="0.90" height="17.40" fill="#333"/>
<rect x="500.80" y="559.80" width="0.50" height="17.40" fill="#777"/>
<rect x="502.60" y="559.80" width="1.10" height="17.40" fill="#777"/>
<rect x="505.40" y="559.80" width="1.10" height="17.40" fill="#888"/>
<rect x="507.00" y="559.80" width="0.50" height="17.40" fill="#aaa"/>
<rect x="508.40" y="559.80" width="0.90" height="17.40" fill="#333"/>
<rect x="441.54" y="559.80" width="0.80" height="17.40" fill="#999"/>
<rect x="443.85" y="559.80" width="0.80" height="17.40" fill="#666"/>
<rect x="446.92" y="559.80" width="0.60" height="17.40" fill="#bbb"/>
<rect x="451.54" y="559.80" width="1.00" height="17.40" fill="#222"/>
<rect x="452.31" y="559.80" width="0.80" height="17.40" fill="#444"/>
<rect x="455.38" y="559.80" width="1.20" height="17.40" fill="#333"/>
<rect x="456.15" y="559.80" width="1.00" height="17.40" fill="#555"/>
<rect x="457.69" y="559.80" width="0.80" height="17.40" fill="#777"/>
<rect x="459.23" y="559.80" width="0.60" height="17.40" fill="#999"/>
<rect x="462.31" y="559.80" width="0.80" height="17.40" fill="#888"/>
<rect x="468.46" y="559.80" width="0.60" height="17.40" fill="#aaa"/>
<rect x="473.08" y="559.80" width="0.60" height="17.40" fill="#999"/>
<rect x="476.92" y="559.80" width="0.60" height="17.40" fill="#bbb"/>
<rect x="480.77" y="559.80" width="0.60" height="17.40" fill="#888"/>
<rect x="485.38" y="559.80" width="0.80" height="17.40" fill="#777"/>
<rect x="486.15" y="559.80" width="0.80" height="17.40" fill="#999"/>
<rect x="491.54" y="559.80" width="0.80" height="17.40" fill="#555"/>
<rect x="492.31" y="559.80" width="0.80" height="17.40" fill="#777"/>
<rect x="497.69" y="559.80" width="0.60" height="17.40" fill="#aaa"/>
<rect x="500.77" y="559.80" width="0.60" height="17.40" fill="#bbb"/>
<rect x="504.62" y="559.80" width="0.60" height="17.40" fill="#aaa"/>
<defs><linearGradient id="g4507" x1="0" y1="0" x2="1" y2="0"><stop offset="0" stop-color="#d8343f"/><stop offset="0.15" stop-color="#dc4450"/><stop offset="0.28" stop-color="#e27080"/><stop offset="0.35" stop-color="#ecc0d0"/><stop offset="0.42" stop-color="#e6e0f0"/><stop offset="0.6" stop-color="#d6d0ea"/><stop offset="0.66" stop-color="#a29ed2"/><stop offset="0.76" stop-color="#5a56aa"/><stop offset="1" stop-color="#3a3590"/></linearGradient></defs>
<rect x="400.70" y="577.20" width="110.50" height="3.00" fill="url(#g4507)"/>
<rect x="400.1" y="506" width="116.10" height="74.40" fill="none" stroke="#6a6a6a" stroke-width="0.9"/>
<path d="M400.50,551.70 L401.70,543.80 L404.70,538.90 L407.20,532.80 L409.60,523.10 L412.00,521.90 L414.50,518.20 L416.30,513.40 L418.70,509.10 L421.20,510.30 L424.20,511.20 L426.60,511.60 L430.30,514.00 L435.10,517.00 L440.00,521.90 L446.20,529.20 L452.30,534.60 L460.00,537.70 L464.60,538.90 L470.80,543.10 L478.50,546.60 L486.20,544.20 L490.80,547.70 L493.80,544.60 L498.50,547.70 L501.50,548.50 L504.60,550.80 L507.70,552.30 L510.80,556.50" fill="none" stroke="#a4dc8e" stroke-width="2.8" stroke-linejoin="round" opacity="0.75"/>
<path d="M400.50,551.70 L401.70,543.80 L404.70,538.90 L407.20,532.80 L409.60,523.10 L412.00,521.90 L414.50,518.20 L416.30,513.40 L418.70,509.10 L421.20,510.30 L424.20,511.20 L426.60,511.60 L430.30,514.00 L435.10,517.00 L440.00,521.90 L446.20,529.20 L452.30,534.60 L460.00,537.70 L464.60,538.90 L470.80,543.10 L478.50,546.60 L486.20,544.20 L490.80,547.70 L493.80,544.60 L498.50,547.70 L501.50,548.50 L504.60,550.80 L507.70,552.30 L510.80,556.50" fill="none" stroke="#4b9a3f" stroke-width="1.3" stroke-linejoin="round"/>
<line x1="398.10" y1="509.40" x2="400.10" y2="509.40" stroke="#444" stroke-width="0.8" />
<text x="396.7" y="509.4" font-size="6.8" fill="#444" text-anchor="end" font-weight="normal" dominant-baseline="central">0.35</text>
<line x1="398.10" y1="516.20" x2="400.10" y2="516.20" stroke="#444" stroke-width="0.8" />
<text x="396.7" y="516.2" font-size="6.8" fill="#444" text-anchor="end" font-weight="normal" dominant-baseline="central">0.30</text>
<line x1="398.10" y1="523.00" x2="400.10" y2="523.00" stroke="#444" stroke-width="0.8" />
<text x="396.7" y="523.0" font-size="6.8" fill="#444" text-anchor="end" font-weight="normal" dominant-baseline="central">0.25</text>
<line x1="398.10" y1="529.80" x2="400.10" y2="529.80" stroke="#444" stroke-width="0.8" />
<text x="396.7" y="529.8" font-size="6.8" fill="#444" text-anchor="end" font-weight="normal" dominant-baseline="central">0.20</text>
<line x1="398.10" y1="536.60" x2="400.10" y2="536.60" stroke="#444" stroke-width="0.8" />
<text x="396.7" y="536.6" font-size="6.8" fill="#444" text-anchor="end" font-weight="normal" dominant-baseline="central">0.15</text>
<line x1="398.10" y1="543.40" x2="400.10" y2="543.40" stroke="#444" stroke-width="0.8" />
<text x="396.7" y="543.4" font-size="6.8" fill="#444" text-anchor="end" font-weight="normal" dominant-baseline="central">0.10</text>
<line x1="398.10" y1="550.20" x2="400.10" y2="550.20" stroke="#444" stroke-width="0.8" />
<text x="396.7" y="550.2" font-size="6.8" fill="#444" text-anchor="end" font-weight="normal" dominant-baseline="central">0.05</text>
<line x1="398.10" y1="557.00" x2="400.10" y2="557.00" stroke="#444" stroke-width="0.8" />
<text x="396.7" y="557.0" font-size="6.8" fill="#444" text-anchor="end" font-weight="normal" dominant-baseline="central">0.00</text>
<text x="378" y="531.8" font-size="7" fill="#555" text-anchor="middle" textLength="57.5" lengthAdjust="spacingAndGlyphs" transform="rotate(-90 378 531.8)" dominant-baseline="central">Enrichment score (ES)</text>
<text x="451.0" y="502.0" font-size="6.35" fill="#222" text-anchor="middle" font-weight="bold" >Enrichment plot: Hallmark_MYC_targets_V1</text>
<text x="464.9" y="516.9" font-size="6.3" fill="#333" text-anchor="start" font-weight="normal" dominant-baseline="central">NES: 1.90</text>
<text x="464.9" y="524.6" font-size="6.3" fill="#333" text-anchor="start" font-weight="normal" dominant-baseline="central">FDR: 0.004</text>
<text x="400.4" y="585.6" font-size="6.6" fill="#222" text-anchor="start" font-weight="normal" dominant-baseline="central">KO</text>
<text x="511.5" y="585.7" font-size="6.6" fill="#222" text-anchor="end" font-weight="normal" dominant-baseline="central">WT</text>
<rect x="208.7" y="601.0" width="147.30" height="99.00" fill="#f4f4f4"/>
<rect x="237.1" y="613.3" width="116.40" height="75.10" fill="#fff"/>
<line x1="256.50" y1="613.30" x2="256.50" y2="667.70" stroke="#efefef" stroke-width="0.6" />
<line x1="275.90" y1="613.30" x2="275.90" y2="667.70" stroke="#efefef" stroke-width="0.6" />
<line x1="295.30" y1="613.30" x2="295.30" y2="667.70" stroke="#efefef" stroke-width="0.6" />
<line x1="314.70" y1="613.30" x2="314.70" y2="667.70" stroke="#efefef" stroke-width="0.6" />
<line x1="334.10" y1="613.30" x2="334.10" y2="667.70" stroke="#efefef" stroke-width="0.6" />
<line x1="237.10" y1="619.20" x2="353.50" y2="619.20" stroke="#f0f0f0" stroke-width="0.6" />
<line x1="237.10" y1="625.70" x2="353.50" y2="625.70" stroke="#f0f0f0" stroke-width="0.6" />
<line x1="237.10" y1="632.20" x2="353.50" y2="632.20" stroke="#f0f0f0" stroke-width="0.6" />
<line x1="237.10" y1="638.70" x2="353.50" y2="638.70" stroke="#f0f0f0" stroke-width="0.6" />
<line x1="237.10" y1="645.20" x2="353.50" y2="645.20" stroke="#f0f0f0" stroke-width="0.6" />
<line x1="237.10" y1="651.70" x2="353.50" y2="651.70" stroke="#f0f0f0" stroke-width="0.6" />
<line x1="237.10" y1="658.20" x2="353.50" y2="658.20" stroke="#f0f0f0" stroke-width="0.6" />
<line x1="237.10" y1="664.70" x2="353.50" y2="664.70" stroke="#f0f0f0" stroke-width="0.6" />
<line x1="237.10" y1="658.20" x2="353.50" y2="658.20" stroke="#bdbdbd" stroke-width="0.7" />
<line x1="237.10" y1="667.70" x2="353.50" y2="667.70" stroke="#c8c8c8" stroke-width="0.6" />
<rect x="237.50" y="668.20" width="1.40" height="16.80" fill="#999"/>
<rect x="240.10" y="668.20" width="1.40" height="16.80" fill="#bbb"/>
<rect x="242.00" y="668.20" width="0.90" height="16.80" fill="#666"/>
<rect x="243.30" y="668.20" width="1.40" height="16.80" fill="#666"/>
<rect x="244.70" y="668.20" width="0.70" height="16.80" fill="#444"/>
<rect x="245.80" y="668.20" width="0.70" height="16.80" fill="#222"/>
<rect x="246.50" y="668.20" width="1.40" height="16.80" fill="#444"/>
<rect x="248.40" y="668.20" width="0.70" height="16.80" fill="#444"/>
<rect x="249.10" y="668.20" width="0.90" height="16.80" fill="#666"/>
<rect x="250.80" y="668.20" width="0.70" height="16.80" fill="#666"/>
<rect x="251.90" y="668.20" width="0.90" height="16.80" fill="#aaa"/>
<rect x="252.80" y="668.20" width="0.70" height="16.80" fill="#999"/>
<rect x="253.70" y="668.20" width="1.40" height="16.80" fill="#999"/>
<rect x="255.10" y="668.20" width="0.90" height="16.80" fill="#888"/>
<rect x="256.40" y="668.20" width="0.90" height="16.80" fill="#bbb"/>
<rect x="258.50" y="668.20" width="0.70" height="16.80" fill="#111"/>
<rect x="261.30" y="668.20" width="1.40" height="16.80" fill="#999"/>
<rect x="264.90" y="668.20" width="0.50" height="16.80" fill="#666"/>
<rect x="266.50" y="668.20" width="0.90" height="16.80" fill="#888"/>
<rect x="267.80" y="668.20" width="0.50" height="16.80" fill="#999"/>
<rect x="268.50" y="668.20" width="0.50" height="16.80" fill="#222"/>
<rect x="269.00" y="668.20" width="0.90" height="16.80" fill="#999"/>
<rect x="269.90" y="668.20" width="0.90" height="16.80" fill="#222"/>
<rect x="271.00" y="668.20" width="0.90" height="16.80" fill="#222"/>
<rect x="273.10" y="668.20" width="0.70" height="16.80" fill="#888"/>
<rect x="274.20" y="668.20" width="0.70" height="16.80" fill="#222"/>
<rect x="277.10" y="668.20" width="0.70" height="16.80" fill="#999"/>
<rect x="278.00" y="668.20" width="1.10" height="16.80" fill="#444"/>
<rect x="279.80" y="668.20" width="0.70" height="16.80" fill="#444"/>
<rect x="281.70" y="668.20" width="1.10" height="16.80" fill="#aaa"/>
<rect x="283.00" y="668.20" width="0.70" height="16.80" fill="#aaa"/>
<rect x="283.90" y="668.20" width="0.70" height="16.80" fill="#444"/>
<rect x="287.70" y="668.20" width="0.90" height="16.80" fill="#888"/>
<rect x="292.00" y="668.20" width="0.70" height="16.80" fill="#bbb"/>
<rect x="292.90" y="668.20" width="0.70" height="16.80" fill="#888"/>
<rect x="308.00" y="668.20" width="0.90" height="16.80" fill="#999"/>
<rect x="310.10" y="668.20" width="1.10" height="16.80" fill="#444"/>
<rect x="313.70" y="668.20" width="1.40" height="16.80" fill="#444"/>
<rect x="318.50" y="668.20" width="1.10" height="16.80" fill="#aaa"/>
<rect x="323.30" y="668.20" width="0.70" height="16.80" fill="#bbb"/>
<rect x="324.80" y="668.20" width="0.70" height="16.80" fill="#444"/>
<rect x="327.20" y="668.20" width="0.70" height="16.80" fill="#444"/>
<rect x="330.30" y="668.20" width="1.10" height="16.80" fill="#222"/>
<rect x="332.20" y="668.20" width="0.70" height="16.80" fill="#999"/>
<rect x="332.90" y="668.20" width="0.90" height="16.80" fill="#888"/>
<rect x="337.20" y="668.20" width="1.40" height="16.80" fill="#888"/>
<rect x="339.40" y="668.20" width="1.40" height="16.80" fill="#888"/>
<rect x="341.00" y="668.20" width="0.70" height="16.80" fill="#999"/>
<rect x="342.10" y="668.20" width="0.70" height="16.80" fill="#aaa"/>
<rect x="344.70" y="668.20" width="1.40" height="16.80" fill="#111"/>
<rect x="346.50" y="668.20" width="0.50" height="16.80" fill="#444"/>
<rect x="347.20" y="668.20" width="0.80" height="16.80" fill="#aaa"/>
<rect x="295.67" y="668.20" width="0.80" height="16.80" fill="#888"/>
<rect x="297.69" y="668.20" width="0.80" height="16.80" fill="#555"/>
<rect x="300.38" y="668.20" width="0.60" height="16.80" fill="#aaa"/>
<rect x="303.08" y="668.20" width="0.80" height="16.80" fill="#333"/>
<rect x="305.77" y="668.20" width="0.60" height="16.80" fill="#777"/>
<rect x="309.13" y="668.20" width="0.80" height="16.80" fill="#222"/>
<rect x="311.15" y="668.20" width="0.60" height="16.80" fill="#999"/>
<rect x="313.17" y="668.20" width="0.60" height="16.80" fill="#bbb"/>
<rect x="317.21" y="668.20" width="0.60" height="16.80" fill="#888"/>
<rect x="321.92" y="668.20" width="0.80" height="16.80" fill="#aaa"/>
<rect x="323.26" y="668.20" width="0.80" height="16.80" fill="#999"/>
<rect x="326.63" y="668.20" width="0.60" height="16.80" fill="#666"/>
<rect x="331.34" y="668.20" width="0.80" height="16.80" fill="#333"/>
<rect x="334.03" y="668.20" width="0.60" height="16.80" fill="#999"/>
<rect x="338.07" y="668.20" width="0.80" height="16.80" fill="#444"/>
<rect x="342.78" y="668.20" width="0.80" height="16.80" fill="#222"/>
<rect x="346.14" y="668.20" width="0.60" height="16.80" fill="#888"/>
<defs><linearGradient id="g2984" x1="0" y1="0" x2="1" y2="0"><stop offset="0" stop-color="#d8343f"/><stop offset="0.15" stop-color="#dc4450"/><stop offset="0.28" stop-color="#e27080"/><stop offset="0.35" stop-color="#ecc0d0"/><stop offset="0.42" stop-color="#e6e0f0"/><stop offset="0.6" stop-color="#d6d0ea"/><stop offset="0.66" stop-color="#a29ed2"/><stop offset="0.76" stop-color="#5a56aa"/><stop offset="1" stop-color="#3a3590"/></linearGradient></defs>
<rect x="237.70" y="685.00" width="110.30" height="3.00" fill="url(#g2984)"/>
<rect x="237.1" y="613.3" width="116.40" height="75.10" fill="none" stroke="#6a6a6a" stroke-width="0.9"/>
<path d="M237.40,656.80 L239.00,645.40 L241.10,636.00 L243.10,627.90 L245.80,621.20 L248.50,618.20 L251.20,617.10 L255.90,617.80 L259.90,620.50 L263.90,622.50 L268.60,625.20 L274.00,628.60 L279.40,633.90 L285.50,640.00 L291.50,646.00 L295.60,648.70 L300.40,651.40 L305.80,650.80 L311.20,654.10 L316.50,656.80 L321.90,659.50 L327.30,661.50 L330.70,664.00 L334.00,660.90 L338.10,662.20 L340.80,659.90 L342.10,662.20 L343.50,656.80 L345.50,658.80 L347.50,657.50" fill="none" stroke="#a4dc8e" stroke-width="2.8" stroke-linejoin="round" opacity="0.75"/>
<path d="M237.40,656.80 L239.00,645.40 L241.10,636.00 L243.10,627.90 L245.80,621.20 L248.50,618.20 L251.20,617.10 L255.90,617.80 L259.90,620.50 L263.90,622.50 L268.60,625.20 L274.00,628.60 L279.40,633.90 L285.50,640.00 L291.50,646.00 L295.60,648.70 L300.40,651.40 L305.80,650.80 L311.20,654.10 L316.50,656.80 L321.90,659.50 L327.30,661.50 L330.70,664.00 L334.00,660.90 L338.10,662.20 L340.80,659.90 L342.10,662.20 L343.50,656.80 L345.50,658.80 L347.50,657.50" fill="none" stroke="#4b9a3f" stroke-width="1.3" stroke-linejoin="round"/>
<line x1="235.10" y1="619.20" x2="237.10" y2="619.20" stroke="#444" stroke-width="0.8" />
<text x="233.7" y="619.2" font-size="6.8" fill="#444" text-anchor="end" font-weight="normal" dominant-baseline="central">0.30</text>
<line x1="235.10" y1="625.70" x2="237.10" y2="625.70" stroke="#444" stroke-width="0.8" />
<text x="233.7" y="625.7" font-size="6.8" fill="#444" text-anchor="end" font-weight="normal" dominant-baseline="central">0.25</text>
<line x1="235.10" y1="632.20" x2="237.10" y2="632.20" stroke="#444" stroke-width="0.8" />
<text x="233.7" y="632.2" font-size="6.8" fill="#444" text-anchor="end" font-weight="normal" dominant-baseline="central">0.20</text>
<line x1="235.10" y1="638.70" x2="237.10" y2="638.70" stroke="#444" stroke-width="0.8" />
<text x="233.7" y="638.7" font-size="6.8" fill="#444" text-anchor="end" font-weight="normal" dominant-baseline="central">0.15</text>
<line x1="235.10" y1="645.20" x2="237.10" y2="645.20" stroke="#444" stroke-width="0.8" />
<text x="233.7" y="645.2" font-size="6.8" fill="#444" text-anchor="end" font-weight="normal" dominant-baseline="central">0.10</text>
<line x1="235.10" y1="651.70" x2="237.10" y2="651.70" stroke="#444" stroke-width="0.8" />
<text x="233.7" y="651.7" font-size="6.8" fill="#444" text-anchor="end" font-weight="normal" dominant-baseline="central">0.05</text>
<line x1="235.10" y1="658.20" x2="237.10" y2="658.20" stroke="#444" stroke-width="0.8" />
<text x="233.7" y="658.2" font-size="6.8" fill="#444" text-anchor="end" font-weight="normal" dominant-baseline="central">0.00</text>
<line x1="235.10" y1="664.70" x2="237.10" y2="664.70" stroke="#444" stroke-width="0.8" />
<text x="233.7" y="664.7" font-size="6.8" fill="#444" text-anchor="end" font-weight="normal" dominant-baseline="central">−0.05</text>
<text x="213" y="640.5" font-size="7" fill="#555" text-anchor="middle" textLength="57.5" lengthAdjust="spacingAndGlyphs" transform="rotate(-90 213 640.5)" dominant-baseline="central">Enrichment score (ES)</text>
<text x="294.1" y="609.7" font-size="6.35" fill="#222" text-anchor="middle" font-weight="bold" >Enrichment plot: Hallmark_E2F_targets</text>
<text x="307.8" y="624.9" font-size="6.3" fill="#333" text-anchor="start" font-weight="normal" dominant-baseline="central">NES: 1.73</text>
<text x="307.8" y="632.6" font-size="6.3" fill="#333" text-anchor="start" font-weight="normal" dominant-baseline="central">FDR: 0.009</text>
<text x="236.3" y="693.2" font-size="6.6" fill="#222" text-anchor="start" font-weight="normal" dominant-baseline="central">KO</text>
<text x="346.8" y="693.2" font-size="6.6" fill="#222" text-anchor="end" font-weight="normal" dominant-baseline="central">WT</text>
<rect x="366" y="601" width="155.00" height="99.00" fill="#f4f4f4"/>
<rect x="400.5" y="614.2" width="116.40" height="74.20" fill="#fff"/>
<line x1="419.90" y1="614.20" x2="419.90" y2="667.70" stroke="#efefef" stroke-width="0.6" />
<line x1="439.30" y1="614.20" x2="439.30" y2="667.70" stroke="#efefef" stroke-width="0.6" />
<line x1="458.70" y1="614.20" x2="458.70" y2="667.70" stroke="#efefef" stroke-width="0.6" />
<line x1="478.10" y1="614.20" x2="478.10" y2="667.70" stroke="#efefef" stroke-width="0.6" />
<line x1="497.50" y1="614.20" x2="497.50" y2="667.70" stroke="#efefef" stroke-width="0.6" />
<line x1="400.50" y1="618.40" x2="516.90" y2="618.40" stroke="#f0f0f0" stroke-width="0.6" />
<line x1="400.50" y1="624.70" x2="516.90" y2="624.70" stroke="#f0f0f0" stroke-width="0.6" />
<line x1="400.50" y1="630.90" x2="516.90" y2="630.90" stroke="#f0f0f0" stroke-width="0.6" />
<line x1="400.50" y1="637.20" x2="516.90" y2="637.20" stroke="#f0f0f0" stroke-width="0.6" />
<line x1="400.50" y1="643.50" x2="516.90" y2="643.50" stroke="#f0f0f0" stroke-width="0.6" />
<line x1="400.50" y1="649.80" x2="516.90" y2="649.80" stroke="#f0f0f0" stroke-width="0.6" />
<line x1="400.50" y1="656.10" x2="516.90" y2="656.10" stroke="#f0f0f0" stroke-width="0.6" />
<line x1="400.50" y1="662.40" x2="516.90" y2="662.40" stroke="#f0f0f0" stroke-width="0.6" />
<line x1="400.50" y1="656.10" x2="516.90" y2="656.10" stroke="#bdbdbd" stroke-width="0.7" />
<line x1="400.50" y1="667.70" x2="516.90" y2="667.70" stroke="#c8c8c8" stroke-width="0.6" />
<rect x="401.00" y="668.20" width="1.10" height="17.40" fill="#777"/>
<rect x="402.80" y="668.20" width="0.90" height="17.40" fill="#222"/>
<rect x="406.50" y="668.20" width="0.50" height="17.40" fill="#333"/>
<rect x="409.70" y="668.20" width="0.70" height="17.40" fill="#111"/>
<rect x="410.40" y="668.20" width="0.70" height="17.40" fill="#222"/>
<rect x="412.30" y="668.20" width="1.10" height="17.40" fill="#222"/>
<rect x="413.60" y="668.20" width="0.70" height="17.40" fill="#aaa"/>
<rect x="415.60" y="668.20" width="0.90" height="17.40" fill="#111"/>
<rect x="418.10" y="668.20" width="0.50" height="17.40" fill="#222"/>
<rect x="419.40" y="668.20" width="0.50" height="17.40" fill="#555"/>
<rect x="419.90" y="668.20" width="0.90" height="17.40" fill="#222"/>
<rect x="423.00" y="668.20" width="0.50" height="17.40" fill="#555"/>
<rect x="423.90" y="668.20" width="0.50" height="17.40" fill="#222"/>
<rect x="425.60" y="668.20" width="1.40" height="17.40" fill="#111"/>
<rect x="427.00" y="668.20" width="0.90" height="17.40" fill="#333"/>
<rect x="429.10" y="668.20" width="0.90" height="17.40" fill="#111"/>
<rect x="431.10" y="668.20" width="0.70" height="17.40" fill="#111"/>
<rect x="434.70" y="668.20" width="1.40" height="17.40" fill="#222"/>
<rect x="437.60" y="668.20" width="0.90" height="17.40" fill="#aaa"/>
<rect x="438.50" y="668.20" width="1.40" height="17.40" fill="#aaa"/>
<rect x="440.70" y="668.20" width="0.90" height="17.40" fill="#222"/>
<rect x="441.60" y="668.20" width="0.70" height="17.40" fill="#999"/>
<rect x="442.30" y="668.20" width="0.90" height="17.40" fill="#222"/>
<rect x="444.00" y="668.20" width="0.50" height="17.40" fill="#aaa"/>
<rect x="444.90" y="668.20" width="0.90" height="17.40" fill="#555"/>
<rect x="446.60" y="668.20" width="0.50" height="17.40" fill="#555"/>
<rect x="447.10" y="668.20" width="1.10" height="17.40" fill="#999"/>
<rect x="448.20" y="668.20" width="0.90" height="17.40" fill="#777"/>
<rect x="450.50" y="668.20" width="1.40" height="17.40" fill="#111"/>
<rect x="451.90" y="668.20" width="1.10" height="17.40" fill="#aaa"/>
<rect x="453.20" y="668.20" width="1.40" height="17.40" fill="#999"/>
<rect x="454.80" y="668.20" width="0.70" height="17.40" fill="#777"/>
<rect x="455.50" y="668.20" width="0.50" height="17.40" fill="#777"/>
<rect x="457.20" y="668.20" width="0.50" height="17.40" fill="#bbb"/>
<rect x="462.60" y="668.20" width="1.10" height="17.40" fill="#111"/>
<rect x="463.90" y="668.20" width="1.40" height="17.40" fill="#222"/>
<rect x="466.00" y="668.20" width="0.70" height="17.40" fill="#aaa"/>
<rect x="478.20" y="668.20" width="0.70" height="17.40" fill="#bbb"/>
<rect x="479.30" y="668.20" width="0.50" height="17.40" fill="#111"/>
<rect x="481.00" y="668.20" width="1.40" height="17.40" fill="#555"/>
<rect x="482.80" y="668.20" width="0.70" height="17.40" fill="#bbb"/>
<rect x="484.00" y="668.20" width="1.40" height="17.40" fill="#aaa"/>
<rect x="485.80" y="668.20" width="1.40" height="17.40" fill="#555"/>
<rect x="488.60" y="668.20" width="0.50" height="17.40" fill="#bbb"/>
<rect x="489.90" y="668.20" width="1.40" height="17.40" fill="#222"/>
<rect x="495.00" y="668.20" width="0.70" height="17.40" fill="#999"/>
<rect x="496.90" y="668.20" width="0.70" height="17.40" fill="#333"/>
<rect x="497.60" y="668.20" width="0.70" height="17.40" fill="#111"/>
<rect x="498.80" y="668.20" width="0.90" height="17.40" fill="#111"/>
<rect x="500.10" y="668.20" width="1.40" height="17.40" fill="#222"/>
<rect x="501.50" y="668.20" width="0.50" height="17.40" fill="#555"/>
<rect x="502.00" y="668.20" width="1.10" height="17.40" fill="#111"/>
<rect x="504.50" y="668.20" width="0.90" height="17.40" fill="#999"/>
<rect x="508.10" y="668.20" width="0.90" height="17.40" fill="#111"/>
<rect x="455.00" y="668.20" width="1.00" height="17.40" fill="#333"/>
<rect x="456.35" y="668.20" width="0.80" height="17.40" fill="#444"/>
<rect x="457.69" y="668.20" width="0.80" height="17.40" fill="#666"/>
<rect x="461.06" y="668.20" width="0.60" height="17.40" fill="#999"/>
<rect x="462.40" y="668.20" width="0.80" height="17.40" fill="#555"/>
<rect x="466.44" y="668.20" width="0.80" height="17.40" fill="#222"/>
<rect x="467.79" y="668.20" width="0.60" height="17.40" fill="#777"/>
<rect x="471.82" y="668.20" width="0.60" height="17.40" fill="#aaa"/>
<rect x="473.84" y="668.20" width="0.80" height="17.40" fill="#333"/>
<rect x="479.23" y="668.20" width="0.80" height="17.40" fill="#555"/>
<rect x="483.26" y="668.20" width="1.00" height="17.40" fill="#222"/>
<rect x="484.61" y="668.20" width="0.80" height="17.40" fill="#444"/>
<rect x="487.97" y="668.20" width="0.60" height="17.40" fill="#999"/>
<rect x="491.34" y="668.20" width="0.80" height="17.40" fill="#333"/>
<rect x="494.03" y="668.20" width="0.60" height="17.40" fill="#666"/>
<rect x="495.38" y="668.20" width="0.80" height="17.40" fill="#222"/>
<rect x="499.41" y="668.20" width="0.60" height="17.40" fill="#999"/>
<rect x="502.11" y="668.20" width="0.80" height="17.40" fill="#222"/>
<rect x="504.13" y="668.20" width="0.60" height="17.40" fill="#888"/>
<rect x="506.82" y="668.20" width="0.60" height="17.40" fill="#333"/>
<rect x="508.84" y="668.20" width="0.60" height="17.40" fill="#555"/>
<defs><linearGradient id="g4619" x1="0" y1="0" x2="1" y2="0"><stop offset="0" stop-color="#d8343f"/><stop offset="0.15" stop-color="#dc4450"/><stop offset="0.28" stop-color="#e27080"/><stop offset="0.35" stop-color="#ecc0d0"/><stop offset="0.42" stop-color="#e6e0f0"/><stop offset="0.6" stop-color="#d6d0ea"/><stop offset="0.66" stop-color="#a29ed2"/><stop offset="0.76" stop-color="#5a56aa"/><stop offset="1" stop-color="#3a3590"/></linearGradient></defs>
<rect x="401.10" y="685.60" width="109.90" height="2.40" fill="url(#g4619)"/>
<rect x="400.5" y="614.2" width="116.40" height="74.20" fill="none" stroke="#6a6a6a" stroke-width="0.9"/>
<path d="M401.00,648.10 L402.70,638.60 L404.70,631.20 L406.70,626.50 L408.10,622.50 L409.40,618.50 L412.80,617.80 L415.50,618.50 L417.50,617.10 L420.20,619.10 L424.90,622.50 L431.60,627.20 L438.40,631.90 L443.80,638.60 L449.10,644.00 L454.50,648.10 L459.00,649.40 L463.10,650.80 L468.50,654.10 L473.80,657.50 L479.20,660.90 L482.60,662.60 L486.00,659.50 L489.30,661.50 L492.00,660.20 L494.70,662.20 L497.40,660.20 L500.80,664.20 L503.50,658.80 L506.10,658.20 L508.20,656.10 L510.20,655.50" fill="none" stroke="#a4dc8e" stroke-width="2.8" stroke-linejoin="round" opacity="0.75"/>
<path d="M401.00,648.10 L402.70,638.60 L404.70,631.20 L406.70,626.50 L408.10,622.50 L409.40,618.50 L412.80,617.80 L415.50,618.50 L417.50,617.10 L420.20,619.10 L424.90,622.50 L431.60,627.20 L438.40,631.90 L443.80,638.60 L449.10,644.00 L454.50,648.10 L459.00,649.40 L463.10,650.80 L468.50,654.10 L473.80,657.50 L479.20,660.90 L482.60,662.60 L486.00,659.50 L489.30,661.50 L492.00,660.20 L494.70,662.20 L497.40,660.20 L500.80,664.20 L503.50,658.80 L506.10,658.20 L508.20,656.10 L510.20,655.50" fill="none" stroke="#4b9a3f" stroke-width="1.3" stroke-linejoin="round"/>
<line x1="398.50" y1="618.40" x2="400.50" y2="618.40" stroke="#444" stroke-width="0.8" />
<text x="397.1" y="618.4" font-size="6.8" fill="#444" text-anchor="end" font-weight="normal" dominant-baseline="central">0.30</text>
<line x1="398.50" y1="624.70" x2="400.50" y2="624.70" stroke="#444" stroke-width="0.8" />
<text x="397.1" y="624.7" font-size="6.8" fill="#444" text-anchor="end" font-weight="normal" dominant-baseline="central">0.25</text>
<line x1="398.50" y1="630.90" x2="400.50" y2="630.90" stroke="#444" stroke-width="0.8" />
<text x="397.1" y="630.9" font-size="6.8" fill="#444" text-anchor="end" font-weight="normal" dominant-baseline="central">0.20</text>
<line x1="398.50" y1="637.20" x2="400.50" y2="637.20" stroke="#444" stroke-width="0.8" />
<text x="397.1" y="637.2" font-size="6.8" fill="#444" text-anchor="end" font-weight="normal" dominant-baseline="central">0.15</text>
<line x1="398.50" y1="643.50" x2="400.50" y2="643.50" stroke="#444" stroke-width="0.8" />
<text x="397.1" y="643.5" font-size="6.8" fill="#444" text-anchor="end" font-weight="normal" dominant-baseline="central">0.10</text>
<line x1="398.50" y1="649.80" x2="400.50" y2="649.80" stroke="#444" stroke-width="0.8" />
<text x="397.1" y="649.8" font-size="6.8" fill="#444" text-anchor="end" font-weight="normal" dominant-baseline="central">0.05</text>
<line x1="398.50" y1="656.10" x2="400.50" y2="656.10" stroke="#444" stroke-width="0.8" />
<text x="397.1" y="656.1" font-size="6.8" fill="#444" text-anchor="end" font-weight="normal" dominant-baseline="central">0.00</text>
<line x1="398.50" y1="662.40" x2="400.50" y2="662.40" stroke="#444" stroke-width="0.8" />
<text x="397.1" y="662.4" font-size="6.8" fill="#444" text-anchor="end" font-weight="normal" dominant-baseline="central">−0.05</text>
<text x="377.6" y="641.0" font-size="7" fill="#555" text-anchor="middle" textLength="57.5" lengthAdjust="spacingAndGlyphs" transform="rotate(-90 377.6 641.0)" dominant-baseline="central">Enrichment score (ES)</text>
<text x="449.8" y="609.2" font-size="6.35" fill="#222" text-anchor="middle" font-weight="bold" >Enrichment plot: Hallmark_G2M_checkpoint</text>
<text x="465.5" y="625.5" font-size="6.3" fill="#333" text-anchor="start" font-weight="normal" dominant-baseline="central">NES: 1.72</text>
<text x="465.5" y="633.3" font-size="6.3" fill="#333" text-anchor="start" font-weight="normal" dominant-baseline="central">FDR: 0.008</text>
<text x="400.0" y="693.2" font-size="6.6" fill="#222" text-anchor="start" font-weight="normal" dominant-baseline="central">KO</text>
<text x="511.5" y="693.2" font-size="6.6" fill="#222" text-anchor="end" font-weight="normal" dominant-baseline="central">WT</text>
</svg>
</body></html>
